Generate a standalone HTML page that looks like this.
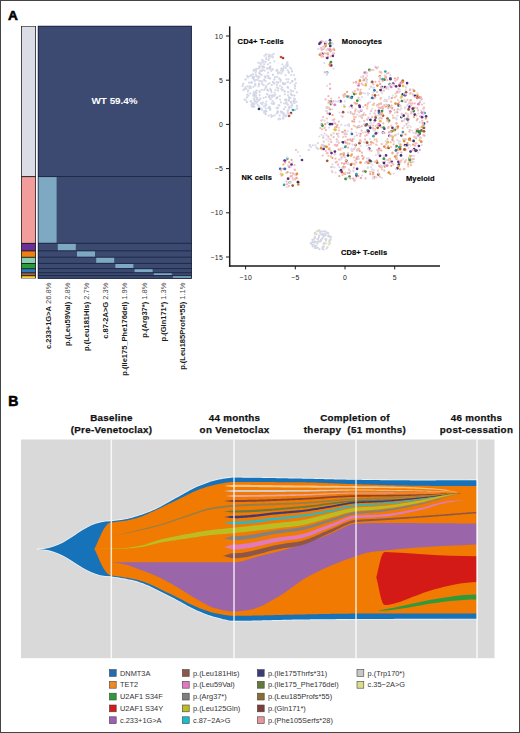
<!DOCTYPE html>
<html><head><meta charset="utf-8"><style>
html,body{margin:0;padding:0;background:#fff;}
svg{display:block;}
</style></head><body>
<svg width="520" height="733" viewBox="0 0 520 733">
<defs><filter id="soft" x="-5%" y="-5%" width="110%" height="110%"><feGaussianBlur stdDeviation="0.35"/></filter></defs>
<rect width="520" height="733" fill="#fff"/>
<text x="8.1" y="19.8" font-family="'Liberation Sans', sans-serif" font-size="13.6" font-weight="bold" fill="#000" stroke="#000" stroke-width="0.6">A</text>
<rect x="21" y="26" width="15" height="252.4" fill="#222"/>
<rect x="21.8" y="26.6" width="13.4" height="149.5" fill="#dadce6"/>
<rect x="21.8" y="177.1" width="13.4" height="65.8" fill="#f29c9c"/>
<rect x="21.8" y="243.9" width="13.4" height="6.5" fill="#6b2f9a"/>
<rect x="21.8" y="251.4" width="13.4" height="5.4" fill="#f08010"/>
<rect x="21.8" y="257.8" width="13.4" height="5.2" fill="#86d0b0"/>
<rect x="21.8" y="264.0" width="13.4" height="4.2" fill="#2a9a3a"/>
<rect x="21.8" y="269.2" width="13.4" height="3.1" fill="#2a78c0"/>
<rect x="21.8" y="273.3" width="13.4" height="1.9" fill="#b0603a"/>
<rect x="21.8" y="276.2" width="13.4" height="1.8" fill="#f2d232"/>
<rect x="38" y="26" width="153.6" height="252.6" fill="#3c4a71"/>
<rect x="38" y="176.0" width="153.6" height="1" fill="#1f2a48"/>
<rect x="38" y="242.8" width="153.6" height="1" fill="#1f2a48"/>
<rect x="38" y="250.3" width="153.6" height="1" fill="#1f2a48"/>
<rect x="38" y="256.7" width="153.6" height="1" fill="#1f2a48"/>
<rect x="38" y="262.9" width="153.6" height="1" fill="#1f2a48"/>
<rect x="38" y="268.1" width="153.6" height="1" fill="#1f2a48"/>
<rect x="38" y="272.2" width="153.6" height="1" fill="#1f2a48"/>
<rect x="38" y="275.1" width="153.6" height="1" fill="#1f2a48"/>
<rect x="38.2" y="26.2" width="153.2" height="252.2" fill="none" stroke="#1a2240" stroke-width="0.9"/>
<rect x="38.6" y="177.1" width="18.0" height="65.6" fill="#7da9c2"/>
<rect x="57.8" y="243.9" width="18.0" height="6.3" fill="#7da9c2"/>
<rect x="77.0" y="251.4" width="18.0" height="5.2" fill="#7da9c2"/>
<rect x="96.2" y="257.8" width="18.0" height="5.0" fill="#7da9c2"/>
<rect x="115.4" y="264.0" width="18.0" height="4.0" fill="#7da9c2"/>
<rect x="134.6" y="269.2" width="18.0" height="2.9" fill="#7da9c2"/>
<rect x="153.8" y="273.3" width="18.0" height="1.7" fill="#7da9c2"/>
<rect x="173.0" y="276.2" width="18.0" height="1.6" fill="#7da9c2"/>
<text x="114.6" y="104.1" font-family="'Liberation Sans', sans-serif" font-size="9.9" font-weight="bold" fill="#fff" text-anchor="middle">WT 59.4%</text>
<text transform="translate(50.6,282.6) rotate(-90) scale(0.94,1)" font-family="'Liberation Sans', sans-serif" font-size="8" text-anchor="end" fill="#1a1a1a"><tspan font-weight="bold">c.233+1G&gt;A</tspan> <tspan fill="#4a4a4a">26.8%</tspan></text>
<text transform="translate(69.8,282.6) rotate(-90) scale(0.94,1)" font-family="'Liberation Sans', sans-serif" font-size="8" text-anchor="end" fill="#1a1a1a"><tspan font-weight="bold">p.(Leu59Val)</tspan> <tspan fill="#4a4a4a">2.8%</tspan></text>
<text transform="translate(89.0,282.6) rotate(-90) scale(0.94,1)" font-family="'Liberation Sans', sans-serif" font-size="8" text-anchor="end" fill="#1a1a1a"><tspan font-weight="bold">p.(Leu181His)</tspan> <tspan fill="#4a4a4a">2.7%</tspan></text>
<text transform="translate(108.2,282.6) rotate(-90) scale(0.94,1)" font-family="'Liberation Sans', sans-serif" font-size="8" text-anchor="end" fill="#1a1a1a"><tspan font-weight="bold">c.87-2A&gt;G</tspan> <tspan fill="#4a4a4a">2.3%</tspan></text>
<text transform="translate(127.4,282.6) rotate(-90) scale(0.94,1)" font-family="'Liberation Sans', sans-serif" font-size="8" text-anchor="end" fill="#1a1a1a"><tspan font-weight="bold">p.(Ile175_Phe176del)</tspan> <tspan fill="#4a4a4a">1.9%</tspan></text>
<text transform="translate(146.6,282.6) rotate(-90) scale(0.94,1)" font-family="'Liberation Sans', sans-serif" font-size="8" text-anchor="end" fill="#1a1a1a"><tspan font-weight="bold">p.(Arg37*)</tspan> <tspan fill="#4a4a4a">1.8%</tspan></text>
<text transform="translate(165.8,282.6) rotate(-90) scale(0.94,1)" font-family="'Liberation Sans', sans-serif" font-size="8" text-anchor="end" fill="#1a1a1a"><tspan font-weight="bold">p.(Gln171*)</tspan> <tspan fill="#4a4a4a">1.3%</tspan></text>
<text transform="translate(185.0,282.6) rotate(-90) scale(0.94,1)" font-family="'Liberation Sans', sans-serif" font-size="8" text-anchor="end" fill="#1a1a1a"><tspan font-weight="bold">p.(Leu185Profs*55)</tspan> <tspan fill="#4a4a4a">1.1%</tspan></text>
<line x1="229.7" y1="26.3" x2="229.7" y2="266.7" stroke="#1a1a1a" stroke-width="1.5"/>
<line x1="228.95" y1="266" x2="440" y2="266" stroke="#1a1a1a" stroke-width="1.5"/>
<line x1="226" y1="36.0" x2="229.7" y2="36.0" stroke="#1a1a1a" stroke-width="1"/>
<text x="223.3" y="38.5" font-family="'Liberation Sans', sans-serif" font-size="6.9" letter-spacing="0.45" text-anchor="end" fill="#222">10</text>
<line x1="226" y1="80.2" x2="229.7" y2="80.2" stroke="#1a1a1a" stroke-width="1"/>
<text x="223.3" y="82.7" font-family="'Liberation Sans', sans-serif" font-size="6.9" letter-spacing="0.45" text-anchor="end" fill="#222">5</text>
<line x1="226" y1="124.4" x2="229.7" y2="124.4" stroke="#1a1a1a" stroke-width="1"/>
<text x="223.3" y="126.9" font-family="'Liberation Sans', sans-serif" font-size="6.9" letter-spacing="0.45" text-anchor="end" fill="#222">0</text>
<line x1="226" y1="168.6" x2="229.7" y2="168.6" stroke="#1a1a1a" stroke-width="1"/>
<text x="223.3" y="171.1" font-family="'Liberation Sans', sans-serif" font-size="6.9" letter-spacing="0.45" text-anchor="end" fill="#222">&#8722;5</text>
<line x1="226" y1="212.8" x2="229.7" y2="212.8" stroke="#1a1a1a" stroke-width="1"/>
<text x="223.3" y="215.3" font-family="'Liberation Sans', sans-serif" font-size="6.9" letter-spacing="0.45" text-anchor="end" fill="#222">&#8722;10</text>
<line x1="226" y1="257.0" x2="229.7" y2="257.0" stroke="#1a1a1a" stroke-width="1"/>
<text x="223.3" y="259.5" font-family="'Liberation Sans', sans-serif" font-size="6.9" letter-spacing="0.45" text-anchor="end" fill="#222">&#8722;15</text>
<line x1="245.6" y1="266" x2="245.6" y2="269.4" stroke="#1a1a1a" stroke-width="1"/>
<text x="245.8" y="279.9" font-family="'Liberation Sans', sans-serif" font-size="6.9" letter-spacing="0.45" text-anchor="middle" fill="#222">&#8722;10</text>
<line x1="295.3" y1="266" x2="295.3" y2="269.4" stroke="#1a1a1a" stroke-width="1"/>
<text x="295.5" y="279.9" font-family="'Liberation Sans', sans-serif" font-size="6.9" letter-spacing="0.45" text-anchor="middle" fill="#222">&#8722;5</text>
<line x1="345.0" y1="266" x2="345.0" y2="269.4" stroke="#1a1a1a" stroke-width="1"/>
<text x="345.2" y="279.9" font-family="'Liberation Sans', sans-serif" font-size="6.9" letter-spacing="0.45" text-anchor="middle" fill="#222">0</text>
<line x1="394.7" y1="266" x2="394.7" y2="269.4" stroke="#1a1a1a" stroke-width="1"/>
<text x="394.9" y="279.9" font-family="'Liberation Sans', sans-serif" font-size="6.9" letter-spacing="0.45" text-anchor="middle" fill="#222">5</text>
<text x="237.6" y="43.9" font-family="'Liberation Sans', sans-serif" font-size="7.5" letter-spacing="0.12" font-weight="bold" fill="#000" stroke="#000" stroke-width="0.15">CD4+ T-cells</text>
<text x="341.8" y="43.6" font-family="'Liberation Sans', sans-serif" font-size="7.5" letter-spacing="0.12" font-weight="bold" fill="#000" stroke="#000" stroke-width="0.15">Monocytes</text>
<text x="241.4" y="180.2" font-family="'Liberation Sans', sans-serif" font-size="7.5" letter-spacing="0.12" font-weight="bold" fill="#000" stroke="#000" stroke-width="0.15">NK cells</text>
<text x="406" y="181" font-family="'Liberation Sans', sans-serif" font-size="7.5" letter-spacing="0.12" font-weight="bold" fill="#000" stroke="#000" stroke-width="0.15">Myeloid</text>
<text x="341" y="254.5" font-family="'Liberation Sans', sans-serif" font-size="7.5" letter-spacing="0.12" font-weight="bold" fill="#000" stroke="#000" stroke-width="0.15">CD8+ T-cells</text>
<g filter="url(#soft)">
<circle cx="388.9" cy="173.1" r="1.12" fill="#dddcee"/>
<circle cx="418.9" cy="131.7" r="1.35" fill="#2c3274"/>
<circle cx="324.4" cy="48.5" r="1.12" fill="#dddcee"/>
<circle cx="327.1" cy="111.1" r="1.12" fill="#dddcee"/>
<circle cx="421.7" cy="99.2" r="1.12" fill="#f4b8b8"/>
<circle cx="294.2" cy="98.5" r="1.12" fill="#cdd1e3"/>
<circle cx="322.7" cy="155.5" r="1.12" fill="#f4b8b8"/>
<circle cx="355.5" cy="126.6" r="1.12" fill="#f6c4ac"/>
<circle cx="404.8" cy="162.3" r="1.12" fill="#f4b8b8"/>
<circle cx="322.9" cy="234.6" r="1.12" fill="#d3d6e6"/>
<circle cx="409.7" cy="138.9" r="1.35" fill="#9c5636"/>
<circle cx="346.6" cy="134.0" r="1.12" fill="#f4b8b8"/>
<circle cx="405.0" cy="145.0" r="1.35" fill="#5a2d82"/>
<circle cx="412.9" cy="89.4" r="1.12" fill="#dddcee"/>
<circle cx="291.0" cy="113.0" r="1.35" fill="#8c3c30"/>
<circle cx="407.0" cy="118.8" r="1.35" fill="#e88a2e"/>
<circle cx="248.2" cy="90.5" r="1.12" fill="#d6d9e8"/>
<circle cx="278.1" cy="82.7" r="1.12" fill="#cdd1e3"/>
<circle cx="422.7" cy="131.6" r="1.12" fill="#f6c4ac"/>
<circle cx="363.8" cy="157.4" r="1.12" fill="#f4b8b8"/>
<circle cx="392.7" cy="136.9" r="1.35" fill="#e0c040"/>
<circle cx="344.7" cy="156.4" r="1.12" fill="#dddcee"/>
<circle cx="409.3" cy="158.1" r="1.35" fill="#3a9040"/>
<circle cx="360.7" cy="116.5" r="1.12" fill="#f4b8b8"/>
<circle cx="376.9" cy="145.0" r="1.12" fill="#dddcee"/>
<circle cx="329.9" cy="243.1" r="1.12" fill="#d3d6e6"/>
<circle cx="266.9" cy="94.0" r="1.12" fill="#d6d9e8"/>
<circle cx="398.0" cy="149.5" r="1.35" fill="#e88a2e"/>
<circle cx="284.7" cy="91.4" r="1.12" fill="#cdd1e3"/>
<circle cx="293.2" cy="91.2" r="1.12" fill="#d6d9e8"/>
<circle cx="278.0" cy="72.2" r="1.12" fill="#d6d9e8"/>
<circle cx="254.0" cy="69.9" r="1.12" fill="#d6d9e8"/>
<circle cx="350.9" cy="113.2" r="1.12" fill="#f4b8b8"/>
<circle cx="413.9" cy="117.0" r="1.12" fill="#f0a474"/>
<circle cx="270.1" cy="78.4" r="1.12" fill="#cdd1e3"/>
<circle cx="297.5" cy="181.5" r="1.12" fill="#f6c4ac"/>
<circle cx="349.5" cy="176.6" r="1.35" fill="#3a9040"/>
<circle cx="414.1" cy="156.2" r="1.12" fill="#dddcee"/>
<circle cx="366.2" cy="124.6" r="1.35" fill="#e377c2"/>
<circle cx="384.3" cy="146.6" r="1.35" fill="#e88a2e"/>
<circle cx="399.4" cy="84.9" r="1.35" fill="#e88a2e"/>
<circle cx="293.7" cy="173.9" r="1.12" fill="#f4b8b8"/>
<circle cx="375.1" cy="97.1" r="1.12" fill="#f4b8b8"/>
<circle cx="269.9" cy="98.2" r="1.12" fill="#d6d9e8"/>
<circle cx="285.4" cy="116.4" r="1.12" fill="#d6d9e8"/>
<circle cx="263.0" cy="102.5" r="1.12" fill="#d6d9e8"/>
<circle cx="316.9" cy="231.4" r="1.12" fill="#d3d6e6"/>
<circle cx="337.7" cy="140.8" r="1.12" fill="#dddcee"/>
<circle cx="400.4" cy="162.4" r="1.12" fill="#f6c4ac"/>
<circle cx="381.1" cy="127.3" r="1.12" fill="#f4b8b8"/>
<circle cx="345.9" cy="146.1" r="1.12" fill="#f0a474"/>
<circle cx="324.9" cy="127.3" r="1.12" fill="#dddcee"/>
<circle cx="360.6" cy="89.8" r="1.12" fill="#f4b8b8"/>
<circle cx="401.4" cy="135.5" r="1.35" fill="#2c3274"/>
<circle cx="247.2" cy="94.7" r="1.12" fill="#d6d9e8"/>
<circle cx="326.4" cy="239.1" r="1.12" fill="#e6e2b0"/>
<circle cx="250.6" cy="101.5" r="1.12" fill="#d6d9e8"/>
<circle cx="245.7" cy="100.0" r="1.12" fill="#d6d9e8"/>
<circle cx="279.4" cy="105.5" r="1.12" fill="#cdd1e3"/>
<circle cx="341.1" cy="102.1" r="1.12" fill="#f4b8b8"/>
<circle cx="370.0" cy="139.1" r="1.12" fill="#dddcee"/>
<circle cx="244.4" cy="89.4" r="1.12" fill="#d6d9e8"/>
<circle cx="285.5" cy="83.7" r="1.12" fill="#d6d9e8"/>
<circle cx="270.2" cy="62.8" r="1.12" fill="#d6d9e8"/>
<circle cx="340.8" cy="148.4" r="1.12" fill="#dddcee"/>
<circle cx="326.6" cy="248.5" r="1.12" fill="#d3d6e6"/>
<circle cx="379.8" cy="166.3" r="1.12" fill="#efa4a4"/>
<circle cx="332.3" cy="157.9" r="1.12" fill="#f0a474"/>
<circle cx="342.2" cy="141.9" r="1.12" fill="#efa4a4"/>
<circle cx="326.6" cy="135.2" r="1.12" fill="#dddcee"/>
<circle cx="261.9" cy="83.7" r="1.12" fill="#d6d9e8"/>
<circle cx="271.6" cy="103.3" r="1.12" fill="#d6d9e8"/>
<circle cx="395.0" cy="129.8" r="1.35" fill="#3a9040"/>
<circle cx="402.8" cy="101.5" r="1.12" fill="#dddcee"/>
<circle cx="278.6" cy="73.2" r="1.12" fill="#d6d9e8"/>
<circle cx="317.6" cy="247.7" r="1.12" fill="#d3d6e6"/>
<circle cx="377.8" cy="105.0" r="1.12" fill="#efa4a4"/>
<circle cx="420.0" cy="97.4" r="1.35" fill="#e377c2"/>
<circle cx="322.5" cy="248.9" r="1.12" fill="#d3d6e6"/>
<circle cx="327.5" cy="247.0" r="1.12" fill="#d3d6e6"/>
<circle cx="272.8" cy="116.0" r="1.12" fill="#d6d9e8"/>
<circle cx="343.6" cy="173.3" r="1.12" fill="#f0a474"/>
<circle cx="334.2" cy="122.1" r="1.12" fill="#dddcee"/>
<circle cx="274.1" cy="103.2" r="1.12" fill="#d6d9e8"/>
<circle cx="265.5" cy="81.2" r="1.12" fill="#d6d9e8"/>
<circle cx="259.4" cy="107.7" r="1.12" fill="#d6d9e8"/>
<circle cx="335.4" cy="158.7" r="1.12" fill="#f4b8b8"/>
<circle cx="325.3" cy="124.2" r="1.12" fill="#f0a474"/>
<circle cx="418.9" cy="146.0" r="1.35" fill="#5a2d82"/>
<circle cx="283.3" cy="168.8" r="1.12" fill="#efa4a4"/>
<circle cx="313.7" cy="241.7" r="1.12" fill="#d3d6e6"/>
<circle cx="286.7" cy="187.0" r="1.12" fill="#dddcee"/>
<circle cx="267.4" cy="75.7" r="1.12" fill="#d6d9e8"/>
<circle cx="351.5" cy="149.9" r="1.12" fill="#dddcee"/>
<circle cx="318.2" cy="238.8" r="1.12" fill="#d3d6e6"/>
<circle cx="378.3" cy="174.6" r="1.35" fill="#9c5636"/>
<circle cx="404.4" cy="126.0" r="1.12" fill="#dddcee"/>
<circle cx="266.3" cy="57.7" r="1.12" fill="#d6d9e8"/>
<circle cx="369.0" cy="158.2" r="1.12" fill="#dddcee"/>
<circle cx="384.2" cy="100.8" r="1.12" fill="#dddcee"/>
<circle cx="266.1" cy="86.1" r="1.12" fill="#cdd1e3"/>
<circle cx="255.3" cy="69.6" r="1.12" fill="#cdd1e3"/>
<circle cx="357.1" cy="127.7" r="1.12" fill="#f6c4ac"/>
<circle cx="374.2" cy="178.2" r="1.12" fill="#f4b8b8"/>
<circle cx="370.5" cy="120.8" r="1.12" fill="#f6c4ac"/>
<circle cx="261.7" cy="89.8" r="1.12" fill="#d6d9e8"/>
<circle cx="251.2" cy="75.0" r="1.12" fill="#d6d9e8"/>
<circle cx="319.4" cy="43.8" r="1.35" fill="#5a2d82"/>
<circle cx="259.6" cy="95.1" r="1.12" fill="#d6d9e8"/>
<circle cx="379.8" cy="104.1" r="1.12" fill="#dddcee"/>
<circle cx="380.9" cy="98.0" r="1.12" fill="#f4b8b8"/>
<circle cx="340.4" cy="149.8" r="1.12" fill="#f4b8b8"/>
<circle cx="400.9" cy="82.8" r="1.35" fill="#e377c2"/>
<circle cx="376.0" cy="144.5" r="1.12" fill="#f6c4ac"/>
<circle cx="347.9" cy="143.8" r="1.12" fill="#dddcee"/>
<circle cx="385.4" cy="77.4" r="1.12" fill="#f4b8b8"/>
<circle cx="404.9" cy="108.5" r="1.12" fill="#dddcee"/>
<circle cx="298.0" cy="152.0" r="1.12" fill="#dddcee"/>
<circle cx="332.1" cy="124.1" r="1.35" fill="#5a2d82"/>
<circle cx="424.0" cy="107.5" r="1.12" fill="#f4b8b8"/>
<circle cx="289.5" cy="166.9" r="1.35" fill="#e377c2"/>
<circle cx="411.1" cy="162.2" r="1.35" fill="#e0c040"/>
<circle cx="397.3" cy="140.0" r="1.12" fill="#dddcee"/>
<circle cx="385.0" cy="87.0" r="1.35" fill="#5a2d82"/>
<circle cx="412.1" cy="130.5" r="1.12" fill="#dddcee"/>
<circle cx="326.9" cy="107.6" r="1.35" fill="#e0c040"/>
<circle cx="321.9" cy="144.8" r="1.12" fill="#f6c4ac"/>
<circle cx="280.0" cy="85.8" r="1.12" fill="#d6d9e8"/>
<circle cx="367.5" cy="167.9" r="1.12" fill="#dddcee"/>
<circle cx="340.8" cy="102.0" r="1.12" fill="#dddcee"/>
<circle cx="393.6" cy="144.4" r="1.12" fill="#f4b8b8"/>
<circle cx="390.3" cy="75.2" r="1.12" fill="#dddcee"/>
<circle cx="371.6" cy="143.1" r="1.12" fill="#dddcee"/>
<circle cx="284.1" cy="184.8" r="1.35" fill="#3aa0a0"/>
<circle cx="424.0" cy="123.5" r="1.35" fill="#2c3274"/>
<circle cx="375.5" cy="81.9" r="1.12" fill="#f4b8b8"/>
<circle cx="368.4" cy="102.9" r="1.12" fill="#f6c4ac"/>
<circle cx="334.5" cy="167.5" r="1.12" fill="#dddcee"/>
<circle cx="389.6" cy="162.6" r="1.12" fill="#f4b8b8"/>
<circle cx="339.5" cy="171.0" r="1.12" fill="#dddcee"/>
<circle cx="361.0" cy="76.8" r="1.12" fill="#dddcee"/>
<circle cx="411.8" cy="159.6" r="1.12" fill="#f4b8b8"/>
<circle cx="380.7" cy="103.5" r="1.12" fill="#f4b8b8"/>
<circle cx="273.0" cy="82.2" r="1.12" fill="#cdd1e3"/>
<circle cx="290.2" cy="182.6" r="1.12" fill="#f4b8b8"/>
<circle cx="310.0" cy="145.1" r="1.12" fill="#d6d9e8"/>
<circle cx="362.9" cy="80.7" r="1.12" fill="#dddcee"/>
<circle cx="321.4" cy="41.2" r="1.12" fill="#f4b8b8"/>
<circle cx="254.0" cy="92.0" r="1.12" fill="#d6d9e8"/>
<circle cx="387.0" cy="165.9" r="1.12" fill="#dddcee"/>
<circle cx="384.8" cy="166.2" r="1.35" fill="#9c5636"/>
<circle cx="337.5" cy="101.5" r="1.12" fill="#dddcee"/>
<circle cx="362.2" cy="155.8" r="1.12" fill="#efa4a4"/>
<circle cx="338.5" cy="136.7" r="1.12" fill="#f6c4ac"/>
<circle cx="344.5" cy="106.5" r="1.35" fill="#e0c040"/>
<circle cx="267.4" cy="68.1" r="1.12" fill="#d6d9e8"/>
<circle cx="346.9" cy="160.5" r="1.12" fill="#f0a474"/>
<circle cx="289.7" cy="182.5" r="1.35" fill="#3a9040"/>
<circle cx="378.6" cy="163.4" r="1.12" fill="#dddcee"/>
<circle cx="335.5" cy="129.9" r="1.35" fill="#e0c040"/>
<circle cx="345.2" cy="125.6" r="1.12" fill="#dddcee"/>
<circle cx="360.7" cy="133.9" r="1.12" fill="#efa4a4"/>
<circle cx="278.3" cy="88.3" r="1.12" fill="#cdd1e3"/>
<circle cx="329.0" cy="244.4" r="1.12" fill="#e6e2b0"/>
<circle cx="324.6" cy="133.6" r="1.12" fill="#dddcee"/>
<circle cx="265.5" cy="77.7" r="1.12" fill="#d6d9e8"/>
<circle cx="335.7" cy="101.4" r="1.12" fill="#dddcee"/>
<circle cx="373.6" cy="98.4" r="1.12" fill="#f4b8b8"/>
<circle cx="379.7" cy="125.3" r="1.35" fill="#5a2d82"/>
<circle cx="393.2" cy="83.5" r="1.35" fill="#5a2d82"/>
<circle cx="405.2" cy="161.3" r="1.12" fill="#f4b8b8"/>
<circle cx="384.9" cy="161.6" r="1.12" fill="#f4b8b8"/>
<circle cx="242.5" cy="85.9" r="1.12" fill="#d6d9e8"/>
<circle cx="320.3" cy="128.0" r="1.12" fill="#f4b8b8"/>
<circle cx="265.3" cy="77.0" r="1.12" fill="#cdd1e3"/>
<circle cx="335.6" cy="172.6" r="1.12" fill="#dddcee"/>
<circle cx="356.9" cy="150.6" r="1.12" fill="#dddcee"/>
<circle cx="354.3" cy="114.1" r="1.12" fill="#f4b8b8"/>
<circle cx="414.6" cy="137.4" r="1.12" fill="#f6c4ac"/>
<circle cx="323.2" cy="137.7" r="1.12" fill="#f4b8b8"/>
<circle cx="408.1" cy="116.7" r="1.12" fill="#f4b8b8"/>
<circle cx="361.7" cy="83.7" r="1.12" fill="#f4b8b8"/>
<circle cx="256.4" cy="93.2" r="1.12" fill="#d6d9e8"/>
<circle cx="373.7" cy="177.0" r="1.12" fill="#f4b8b8"/>
<circle cx="388.3" cy="127.9" r="1.12" fill="#f4b8b8"/>
<circle cx="417.4" cy="95.6" r="1.35" fill="#e88a2e"/>
<circle cx="378.2" cy="153.8" r="1.12" fill="#f6c4ac"/>
<circle cx="321.8" cy="124.5" r="1.35" fill="#3a9040"/>
<circle cx="352.1" cy="163.7" r="1.12" fill="#f4b8b8"/>
<circle cx="289.2" cy="108.6" r="1.12" fill="#d6d9e8"/>
<circle cx="350.6" cy="112.0" r="1.12" fill="#f4b8b8"/>
<circle cx="384.4" cy="79.7" r="1.35" fill="#3a9040"/>
<circle cx="384.2" cy="105.1" r="1.12" fill="#f4b8b8"/>
<circle cx="360.0" cy="80.3" r="1.12" fill="#efa4a4"/>
<circle cx="370.4" cy="119.8" r="1.35" fill="#2c3274"/>
<circle cx="420.4" cy="100.8" r="1.12" fill="#dddcee"/>
<circle cx="340.8" cy="101.0" r="1.12" fill="#f4b8b8"/>
<circle cx="295.4" cy="178.7" r="1.12" fill="#f4b8b8"/>
<circle cx="370.9" cy="86.7" r="1.12" fill="#f6c4ac"/>
<circle cx="331.8" cy="170.7" r="1.12" fill="#dddcee"/>
<circle cx="359.9" cy="80.7" r="1.35" fill="#e88a2e"/>
<circle cx="386.5" cy="101.2" r="1.12" fill="#f4b8b8"/>
<circle cx="384.6" cy="75.3" r="1.12" fill="#dddcee"/>
<circle cx="257.0" cy="101.9" r="1.12" fill="#d6d9e8"/>
<circle cx="357.1" cy="168.8" r="1.35" fill="#5a2d82"/>
<circle cx="405.7" cy="139.3" r="1.12" fill="#f4b8b8"/>
<circle cx="260.9" cy="103.2" r="1.12" fill="#d6d9e8"/>
<circle cx="324.8" cy="72.2" r="1.12" fill="#f4b8b8"/>
<circle cx="405.8" cy="101.9" r="1.12" fill="#f4b8b8"/>
<circle cx="280.9" cy="70.5" r="1.12" fill="#d6d9e8"/>
<circle cx="396.4" cy="123.6" r="1.12" fill="#f0a474"/>
<circle cx="348.8" cy="96.4" r="1.12" fill="#efa4a4"/>
<circle cx="399.2" cy="102.1" r="1.12" fill="#f4b8b8"/>
<circle cx="378.0" cy="151.9" r="1.12" fill="#f6c4ac"/>
<circle cx="324.3" cy="236.1" r="1.12" fill="#d3d6e6"/>
<circle cx="351.1" cy="155.6" r="1.35" fill="#e0c040"/>
<circle cx="271.2" cy="115.0" r="1.12" fill="#d6d9e8"/>
<circle cx="372.1" cy="70.0" r="1.12" fill="#f4b8b8"/>
<circle cx="267.5" cy="94.6" r="1.12" fill="#d6d9e8"/>
<circle cx="332.5" cy="115.0" r="1.12" fill="#f0a474"/>
<circle cx="294.1" cy="103.0" r="1.12" fill="#d6d9e8"/>
<circle cx="326.7" cy="49.5" r="1.12" fill="#dddcee"/>
<circle cx="423.5" cy="124.8" r="1.35" fill="#3aa0a0"/>
<circle cx="254.2" cy="99.9" r="1.12" fill="#d6d9e8"/>
<circle cx="391.8" cy="161.8" r="1.35" fill="#5a2d82"/>
<circle cx="389.9" cy="159.4" r="1.12" fill="#f0a474"/>
<circle cx="381.9" cy="87.1" r="1.35" fill="#2c3274"/>
<circle cx="262.3" cy="104.2" r="1.12" fill="#d6d9e8"/>
<circle cx="410.2" cy="156.1" r="1.35" fill="#e0c040"/>
<circle cx="359.5" cy="143.2" r="1.35" fill="#9c5636"/>
<circle cx="361.8" cy="126.1" r="1.12" fill="#f4b8b8"/>
<circle cx="397.5" cy="91.7" r="1.12" fill="#f6c4ac"/>
<circle cx="336.7" cy="161.8" r="1.12" fill="#f6c4ac"/>
<circle cx="365.2" cy="135.8" r="1.12" fill="#f6c4ac"/>
<circle cx="330.1" cy="88.7" r="1.12" fill="#efa4a4"/>
<circle cx="424.4" cy="135.7" r="1.12" fill="#efa4a4"/>
<circle cx="417.4" cy="97.6" r="1.35" fill="#5a2d82"/>
<circle cx="422.3" cy="113.4" r="1.12" fill="#f4b8b8"/>
<circle cx="337.1" cy="133.9" r="1.12" fill="#efa4a4"/>
<circle cx="413.8" cy="159.0" r="1.12" fill="#f4b8b8"/>
<circle cx="383.4" cy="161.8" r="1.12" fill="#dddcee"/>
<circle cx="416.8" cy="120.3" r="1.12" fill="#f4b8b8"/>
<circle cx="291.6" cy="105.5" r="1.12" fill="#cdd1e3"/>
<circle cx="372.1" cy="117.1" r="1.12" fill="#f4b8b8"/>
<circle cx="367.0" cy="119.4" r="1.12" fill="#dddcee"/>
<circle cx="331.2" cy="142.2" r="1.12" fill="#f4b8b8"/>
<circle cx="386.7" cy="159.8" r="1.12" fill="#efa4a4"/>
<circle cx="252.1" cy="102.8" r="1.12" fill="#d6d9e8"/>
<circle cx="358.0" cy="111.0" r="1.12" fill="#dddcee"/>
<circle cx="283.6" cy="84.2" r="1.12" fill="#cdd1e3"/>
<circle cx="354.2" cy="163.8" r="1.12" fill="#f4b8b8"/>
<circle cx="289.0" cy="116.0" r="1.35" fill="#e05030"/>
<circle cx="287.0" cy="62.8" r="1.12" fill="#cdd1e3"/>
<circle cx="370.1" cy="126.0" r="1.12" fill="#f0a474"/>
<circle cx="408.6" cy="147.8" r="1.12" fill="#dddcee"/>
<circle cx="383.3" cy="123.3" r="1.12" fill="#f4b8b8"/>
<circle cx="356.3" cy="83.5" r="1.12" fill="#dddcee"/>
<circle cx="386.3" cy="104.5" r="1.12" fill="#dddcee"/>
<circle cx="347.6" cy="143.6" r="1.12" fill="#f6c4ac"/>
<circle cx="325.5" cy="45.9" r="1.35" fill="#e88a2e"/>
<circle cx="253.4" cy="93.7" r="1.12" fill="#d6d9e8"/>
<circle cx="264.4" cy="55.8" r="1.12" fill="#d6d9e8"/>
<circle cx="329.0" cy="144.4" r="1.12" fill="#f6c4ac"/>
<circle cx="381.7" cy="167.6" r="1.12" fill="#f4b8b8"/>
<circle cx="383.1" cy="162.2" r="1.12" fill="#f6c4ac"/>
<circle cx="352.5" cy="150.3" r="1.12" fill="#f4b8b8"/>
<circle cx="424.1" cy="103.3" r="1.12" fill="#dddcee"/>
<circle cx="383.0" cy="133.3" r="1.12" fill="#f4b8b8"/>
<circle cx="421.1" cy="110.6" r="1.12" fill="#dddcee"/>
<circle cx="414.1" cy="149.2" r="1.35" fill="#2c3274"/>
<circle cx="325.6" cy="231.5" r="1.12" fill="#d3d6e6"/>
<circle cx="292.6" cy="178.1" r="1.12" fill="#f6c4ac"/>
<circle cx="287.3" cy="158.7" r="1.35" fill="#3aa0a0"/>
<circle cx="334.5" cy="145.1" r="1.12" fill="#dddcee"/>
<circle cx="264.8" cy="112.2" r="1.12" fill="#d6d9e8"/>
<circle cx="371.6" cy="171.5" r="1.12" fill="#dddcee"/>
<circle cx="328.2" cy="236.3" r="1.12" fill="#d3d6e6"/>
<circle cx="290.6" cy="167.1" r="1.12" fill="#dddcee"/>
<circle cx="370.3" cy="123.2" r="1.12" fill="#dddcee"/>
<circle cx="354.2" cy="121.6" r="1.12" fill="#efa4a4"/>
<circle cx="347.1" cy="143.2" r="1.12" fill="#f6c4ac"/>
<circle cx="283.7" cy="113.2" r="1.12" fill="#d6d9e8"/>
<circle cx="419.8" cy="149.9" r="1.12" fill="#efa4a4"/>
<circle cx="398.1" cy="108.8" r="1.12" fill="#dddcee"/>
<circle cx="379.1" cy="148.9" r="1.35" fill="#e377c2"/>
<circle cx="382.9" cy="110.0" r="1.12" fill="#dddcee"/>
<circle cx="312.7" cy="244.8" r="1.12" fill="#d3d6e6"/>
<circle cx="402.8" cy="80.8" r="1.35" fill="#5a2d82"/>
<circle cx="402.9" cy="81.7" r="1.35" fill="#e88a2e"/>
<circle cx="395.6" cy="135.2" r="1.12" fill="#f4b8b8"/>
<circle cx="330.9" cy="62.2" r="1.35" fill="#3a9040"/>
<circle cx="324.8" cy="43.1" r="1.12" fill="#dddcee"/>
<circle cx="392.8" cy="115.7" r="1.12" fill="#f6c4ac"/>
<circle cx="283.3" cy="70.1" r="1.12" fill="#d6d9e8"/>
<circle cx="384.5" cy="132.9" r="1.12" fill="#f4b8b8"/>
<circle cx="266.5" cy="101.5" r="1.12" fill="#d6d9e8"/>
<circle cx="374.6" cy="176.9" r="1.12" fill="#f0a474"/>
<circle cx="282.5" cy="113.1" r="1.12" fill="#d6d9e8"/>
<circle cx="393.7" cy="130.3" r="1.35" fill="#e88a2e"/>
<circle cx="364.3" cy="170.7" r="1.12" fill="#f4b8b8"/>
<circle cx="391.2" cy="78.1" r="1.12" fill="#dddcee"/>
<circle cx="415.4" cy="145.4" r="1.12" fill="#dddcee"/>
<circle cx="293.9" cy="75.1" r="1.12" fill="#d6d9e8"/>
<circle cx="263.7" cy="97.8" r="1.12" fill="#d6d9e8"/>
<circle cx="266.3" cy="111.4" r="1.12" fill="#cdd1e3"/>
<circle cx="329.1" cy="241.8" r="1.12" fill="#e6e2b0"/>
<circle cx="368.8" cy="126.0" r="1.12" fill="#f4b8b8"/>
<circle cx="255.5" cy="70.3" r="1.12" fill="#d6d9e8"/>
<circle cx="329.6" cy="109.4" r="1.12" fill="#dddcee"/>
<circle cx="368.6" cy="159.9" r="1.12" fill="#f4b8b8"/>
<circle cx="409.3" cy="106.7" r="1.35" fill="#5a2d82"/>
<circle cx="354.1" cy="149.0" r="1.12" fill="#f4b8b8"/>
<circle cx="293.0" cy="173.4" r="1.12" fill="#f4b8b8"/>
<circle cx="416.7" cy="143.3" r="1.12" fill="#f6c4ac"/>
<circle cx="271.0" cy="90.2" r="1.12" fill="#cdd1e3"/>
<circle cx="270.1" cy="88.6" r="1.12" fill="#d6d9e8"/>
<circle cx="390.4" cy="84.7" r="1.12" fill="#f6c4ac"/>
<circle cx="374.7" cy="134.7" r="1.12" fill="#dddcee"/>
<circle cx="368.0" cy="167.4" r="1.12" fill="#dddcee"/>
<circle cx="286.5" cy="181.5" r="1.12" fill="#f4b8b8"/>
<circle cx="340.2" cy="154.9" r="1.12" fill="#dddcee"/>
<circle cx="329.7" cy="65.9" r="1.12" fill="#f6c4ac"/>
<circle cx="407.9" cy="105.3" r="1.12" fill="#f6c4ac"/>
<circle cx="354.6" cy="164.4" r="1.12" fill="#f6c4ac"/>
<circle cx="365.9" cy="84.1" r="1.12" fill="#f0a474"/>
<circle cx="355.3" cy="147.9" r="1.12" fill="#dddcee"/>
<circle cx="408.2" cy="122.6" r="1.12" fill="#dddcee"/>
<circle cx="265.9" cy="97.1" r="1.12" fill="#d6d9e8"/>
<circle cx="378.2" cy="115.4" r="1.12" fill="#dddcee"/>
<circle cx="396.1" cy="158.3" r="1.12" fill="#f4b8b8"/>
<circle cx="268.6" cy="107.9" r="1.12" fill="#cdd1e3"/>
<circle cx="345.1" cy="163.4" r="1.12" fill="#f4b8b8"/>
<circle cx="326.1" cy="53.7" r="1.12" fill="#f6c4ac"/>
<circle cx="333.3" cy="55.1" r="1.12" fill="#dddcee"/>
<circle cx="274.4" cy="61.4" r="1.12" fill="#d6d9e8"/>
<circle cx="309.4" cy="145.5" r="1.12" fill="#d6d9e8"/>
<circle cx="374.4" cy="90.3" r="1.35" fill="#2f6fb0"/>
<circle cx="273.5" cy="103.7" r="1.12" fill="#d6d9e8"/>
<circle cx="389.4" cy="135.8" r="1.35" fill="#5a2d82"/>
<circle cx="382.0" cy="107.3" r="1.12" fill="#f4b8b8"/>
<circle cx="300.0" cy="156.0" r="1.12" fill="#dddcee"/>
<circle cx="388.7" cy="105.7" r="1.35" fill="#3a9040"/>
<circle cx="275.0" cy="77.3" r="1.12" fill="#cdd1e3"/>
<circle cx="399.9" cy="141.4" r="1.12" fill="#dddcee"/>
<circle cx="380.2" cy="155.4" r="1.12" fill="#dddcee"/>
<circle cx="270.3" cy="66.7" r="1.12" fill="#cdd1e3"/>
<circle cx="279.7" cy="115.3" r="1.12" fill="#d6d9e8"/>
<circle cx="323.8" cy="47.3" r="1.35" fill="#9c5636"/>
<circle cx="358.2" cy="156.5" r="1.12" fill="#efa4a4"/>
<circle cx="259.0" cy="100.1" r="1.12" fill="#cdd1e3"/>
<circle cx="256.2" cy="95.6" r="1.12" fill="#d6d9e8"/>
<circle cx="343.1" cy="142.3" r="1.35" fill="#2c3274"/>
<circle cx="261.7" cy="103.7" r="1.12" fill="#d6d9e8"/>
<circle cx="349.0" cy="139.7" r="1.12" fill="#dddcee"/>
<circle cx="363.0" cy="107.1" r="1.12" fill="#dddcee"/>
<circle cx="265.2" cy="88.1" r="1.12" fill="#d6d9e8"/>
<circle cx="391.1" cy="101.7" r="1.12" fill="#f6c4ac"/>
<circle cx="252.4" cy="106.8" r="1.12" fill="#cdd1e3"/>
<circle cx="281.5" cy="175.7" r="1.12" fill="#f4b8b8"/>
<circle cx="366.8" cy="135.0" r="1.12" fill="#f4b8b8"/>
<circle cx="286.3" cy="102.1" r="1.12" fill="#d6d9e8"/>
<circle cx="405.8" cy="113.4" r="1.12" fill="#f4b8b8"/>
<circle cx="400.3" cy="144.5" r="1.35" fill="#e0c040"/>
<circle cx="420.1" cy="138.1" r="1.12" fill="#f6c4ac"/>
<circle cx="389.7" cy="132.1" r="1.12" fill="#dddcee"/>
<circle cx="316.4" cy="234.2" r="1.12" fill="#d3d6e6"/>
<circle cx="389.6" cy="111.1" r="1.12" fill="#dddcee"/>
<circle cx="288.9" cy="72.7" r="1.12" fill="#d6d9e8"/>
<circle cx="283.0" cy="58.0" r="1.35" fill="#a04030"/>
<circle cx="346.5" cy="163.1" r="1.12" fill="#f4b8b8"/>
<circle cx="281.3" cy="73.6" r="1.12" fill="#d6d9e8"/>
<circle cx="324.2" cy="46.5" r="1.12" fill="#f4b8b8"/>
<circle cx="409.1" cy="159.5" r="1.12" fill="#f4b8b8"/>
<circle cx="366.9" cy="82.3" r="1.12" fill="#dddcee"/>
<circle cx="416.1" cy="114.8" r="1.12" fill="#dddcee"/>
<circle cx="317.9" cy="148.9" r="1.12" fill="#d6d9e8"/>
<circle cx="328.4" cy="96.2" r="1.12" fill="#f4b8b8"/>
<circle cx="317.4" cy="243.5" r="1.12" fill="#d3d6e6"/>
<circle cx="292.1" cy="105.3" r="1.12" fill="#cdd1e3"/>
<circle cx="355.8" cy="103.7" r="1.12" fill="#f4b8b8"/>
<circle cx="271.7" cy="95.6" r="1.12" fill="#d6d9e8"/>
<circle cx="393.4" cy="164.6" r="1.12" fill="#f4b8b8"/>
<circle cx="379.1" cy="81.5" r="1.12" fill="#f4b8b8"/>
<circle cx="339.2" cy="159.6" r="1.12" fill="#f4b8b8"/>
<circle cx="361.6" cy="130.6" r="1.12" fill="#f4b8b8"/>
<circle cx="276.9" cy="113.3" r="1.12" fill="#cdd1e3"/>
<circle cx="382.0" cy="111.0" r="1.35" fill="#3a9040"/>
<circle cx="355.2" cy="110.9" r="1.12" fill="#f4b8b8"/>
<circle cx="276.7" cy="108.2" r="1.12" fill="#d6d9e8"/>
<circle cx="268.3" cy="90.7" r="1.12" fill="#d6d9e8"/>
<circle cx="386.3" cy="77.6" r="1.12" fill="#f4b8b8"/>
<circle cx="323.1" cy="56.5" r="1.12" fill="#efa4a4"/>
<circle cx="422.0" cy="104.5" r="1.12" fill="#f6c4ac"/>
<circle cx="346.2" cy="179.4" r="1.12" fill="#f6c4ac"/>
<circle cx="407.8" cy="114.6" r="1.12" fill="#f4b8b8"/>
<circle cx="414.8" cy="145.5" r="1.12" fill="#efa4a4"/>
<circle cx="405.9" cy="87.3" r="1.12" fill="#dddcee"/>
<circle cx="274.3" cy="79.6" r="1.12" fill="#cdd1e3"/>
<circle cx="269.1" cy="58.8" r="1.12" fill="#d6d9e8"/>
<circle cx="290.6" cy="173.0" r="1.12" fill="#f4b8b8"/>
<circle cx="389.1" cy="96.8" r="1.12" fill="#dddcee"/>
<circle cx="356.5" cy="175.6" r="1.35" fill="#5a2d82"/>
<circle cx="320.2" cy="241.5" r="1.12" fill="#d3d6e6"/>
<circle cx="391.3" cy="125.7" r="1.12" fill="#f6c4ac"/>
<circle cx="331.4" cy="135.5" r="1.12" fill="#dddcee"/>
<circle cx="342.6" cy="116.7" r="1.12" fill="#f4b8b8"/>
<circle cx="365.4" cy="105.2" r="1.12" fill="#f0a474"/>
<circle cx="268.2" cy="72.7" r="1.12" fill="#d6d9e8"/>
<circle cx="291.3" cy="102.1" r="1.12" fill="#cdd1e3"/>
<circle cx="328.4" cy="155.8" r="1.12" fill="#f6c4ac"/>
<circle cx="409.2" cy="103.1" r="1.12" fill="#f6c4ac"/>
<circle cx="322.5" cy="54.6" r="1.12" fill="#dddcee"/>
<circle cx="335.1" cy="144.9" r="1.12" fill="#f4b8b8"/>
<circle cx="397.3" cy="152.8" r="1.12" fill="#dddcee"/>
<circle cx="385.9" cy="144.6" r="1.12" fill="#dddcee"/>
<circle cx="274.4" cy="83.6" r="1.12" fill="#cdd1e3"/>
<circle cx="267.2" cy="89.8" r="1.12" fill="#cdd1e3"/>
<circle cx="344.7" cy="134.2" r="1.12" fill="#f4b8b8"/>
<circle cx="421.7" cy="145.0" r="1.12" fill="#dddcee"/>
<circle cx="328.3" cy="136.6" r="1.12" fill="#f4b8b8"/>
<circle cx="287.3" cy="104.4" r="1.12" fill="#d6d9e8"/>
<circle cx="323.9" cy="47.9" r="1.12" fill="#dddcee"/>
<circle cx="246.3" cy="88.9" r="1.12" fill="#d6d9e8"/>
<circle cx="363.0" cy="158.8" r="1.12" fill="#f0a474"/>
<circle cx="348.0" cy="153.2" r="1.12" fill="#f4b8b8"/>
<circle cx="250.3" cy="86.6" r="1.12" fill="#cdd1e3"/>
<circle cx="370.1" cy="102.0" r="1.12" fill="#dddcee"/>
<circle cx="346.0" cy="95.8" r="1.12" fill="#f4b8b8"/>
<circle cx="410.4" cy="140.5" r="1.12" fill="#f0a474"/>
<circle cx="395.9" cy="147.6" r="1.12" fill="#f4b8b8"/>
<circle cx="262.0" cy="110.0" r="1.12" fill="#d6d9e8"/>
<circle cx="375.6" cy="133.7" r="1.12" fill="#f6c4ac"/>
<circle cx="282.0" cy="111.9" r="1.12" fill="#d6d9e8"/>
<circle cx="290.8" cy="101.9" r="1.12" fill="#d6d9e8"/>
<circle cx="278.5" cy="119.4" r="1.12" fill="#d6d9e8"/>
<circle cx="395.5" cy="103.6" r="1.35" fill="#e88a2e"/>
<circle cx="410.3" cy="145.3" r="1.12" fill="#dddcee"/>
<circle cx="399.1" cy="143.6" r="1.12" fill="#dddcee"/>
<circle cx="409.9" cy="93.8" r="1.12" fill="#dddcee"/>
<circle cx="395.4" cy="80.8" r="1.12" fill="#f4b8b8"/>
<circle cx="357.2" cy="114.5" r="1.12" fill="#dddcee"/>
<circle cx="358.4" cy="176.1" r="1.12" fill="#efa4a4"/>
<circle cx="423.3" cy="135.0" r="1.12" fill="#f4b8b8"/>
<circle cx="376.7" cy="161.4" r="1.12" fill="#f4b8b8"/>
<circle cx="332.8" cy="120.0" r="1.12" fill="#f4b8b8"/>
<circle cx="361.6" cy="115.5" r="1.12" fill="#f4b8b8"/>
<circle cx="321.4" cy="56.6" r="1.12" fill="#f4b8b8"/>
<circle cx="384.3" cy="128.7" r="1.35" fill="#5a2d82"/>
<circle cx="272.9" cy="95.9" r="1.12" fill="#cdd1e3"/>
<circle cx="277.2" cy="69.8" r="1.12" fill="#d6d9e8"/>
<circle cx="314.7" cy="232.8" r="1.12" fill="#d3d6e6"/>
<circle cx="247.9" cy="91.5" r="1.12" fill="#d6d9e8"/>
<circle cx="416.2" cy="138.1" r="1.12" fill="#efa4a4"/>
<circle cx="373.1" cy="172.6" r="1.12" fill="#f0a474"/>
<circle cx="302.0" cy="160.0" r="1.35" fill="#5a2d82"/>
<circle cx="249.5" cy="88.3" r="1.12" fill="#d6d9e8"/>
<circle cx="285.8" cy="67.9" r="1.12" fill="#d6d9e8"/>
<circle cx="256.1" cy="70.8" r="1.12" fill="#d6d9e8"/>
<circle cx="319.3" cy="136.5" r="1.12" fill="#dddcee"/>
<circle cx="345.1" cy="174.0" r="1.12" fill="#f0a474"/>
<circle cx="292.3" cy="81.4" r="1.12" fill="#cdd1e3"/>
<circle cx="290.1" cy="67.5" r="1.12" fill="#d6d9e8"/>
<circle cx="401.9" cy="101.0" r="1.35" fill="#3a9040"/>
<circle cx="281.3" cy="89.0" r="1.12" fill="#d6d9e8"/>
<circle cx="322.6" cy="234.2" r="1.12" fill="#d3d6e6"/>
<circle cx="424.7" cy="113.0" r="1.35" fill="#3aa0a0"/>
<circle cx="275.3" cy="94.5" r="1.12" fill="#d6d9e8"/>
<circle cx="321.0" cy="240.9" r="1.12" fill="#d3d6e6"/>
<circle cx="421.0" cy="131.0" r="1.12" fill="#dddcee"/>
<circle cx="366.1" cy="72.9" r="1.35" fill="#e0c040"/>
<circle cx="286.0" cy="99.7" r="1.12" fill="#cdd1e3"/>
<circle cx="320.5" cy="232.0" r="1.12" fill="#d3d6e6"/>
<circle cx="385.9" cy="148.1" r="1.12" fill="#f4b8b8"/>
<circle cx="325.9" cy="151.0" r="1.12" fill="#f4b8b8"/>
<circle cx="390.3" cy="78.4" r="1.35" fill="#2f6fb0"/>
<circle cx="284.7" cy="83.6" r="1.12" fill="#d6d9e8"/>
<circle cx="395.7" cy="118.0" r="1.12" fill="#f6c4ac"/>
<circle cx="423.0" cy="124.6" r="1.12" fill="#f4b8b8"/>
<circle cx="388.3" cy="108.1" r="1.12" fill="#efa4a4"/>
<circle cx="405.1" cy="95.2" r="1.35" fill="#5a2d82"/>
<circle cx="383.9" cy="106.7" r="1.12" fill="#dddcee"/>
<circle cx="373.4" cy="136.2" r="1.35" fill="#3aa0a0"/>
<circle cx="321.4" cy="120.6" r="1.12" fill="#f4b8b8"/>
<circle cx="253.7" cy="79.0" r="1.12" fill="#d6d9e8"/>
<circle cx="405.2" cy="107.4" r="1.12" fill="#dddcee"/>
<circle cx="291.5" cy="103.2" r="1.12" fill="#d6d9e8"/>
<circle cx="325.4" cy="43.6" r="1.35" fill="#5a2d82"/>
<circle cx="361.2" cy="110.7" r="1.35" fill="#e377c2"/>
<circle cx="398.1" cy="104.2" r="1.35" fill="#e88a2e"/>
<circle cx="421.3" cy="141.7" r="1.35" fill="#e88a2e"/>
<circle cx="376.7" cy="177.4" r="1.12" fill="#dddcee"/>
<circle cx="256.7" cy="68.8" r="1.12" fill="#cdd1e3"/>
<circle cx="321.6" cy="239.4" r="1.12" fill="#d3d6e6"/>
<circle cx="417.3" cy="108.2" r="1.12" fill="#f4b8b8"/>
<circle cx="411.9" cy="150.5" r="1.12" fill="#efa4a4"/>
<circle cx="333.8" cy="48.7" r="1.12" fill="#dddcee"/>
<circle cx="343.2" cy="167.8" r="1.35" fill="#e88a2e"/>
<circle cx="328.0" cy="233.1" r="1.12" fill="#d3d6e6"/>
<circle cx="373.5" cy="84.3" r="1.12" fill="#f4b8b8"/>
<circle cx="334.7" cy="154.3" r="1.12" fill="#f4b8b8"/>
<circle cx="330.4" cy="150.0" r="1.12" fill="#dddcee"/>
<circle cx="330.9" cy="104.1" r="1.35" fill="#3a9040"/>
<circle cx="289.3" cy="107.4" r="1.12" fill="#d6d9e8"/>
<circle cx="340.4" cy="101.2" r="1.35" fill="#5a2d82"/>
<circle cx="380.2" cy="71.9" r="1.12" fill="#f6c4ac"/>
<circle cx="268.6" cy="115.6" r="1.12" fill="#d6d9e8"/>
<circle cx="264.1" cy="106.4" r="1.12" fill="#d6d9e8"/>
<circle cx="386.6" cy="99.9" r="1.12" fill="#dddcee"/>
<circle cx="292.5" cy="162.3" r="1.12" fill="#dddcee"/>
<circle cx="389.8" cy="84.2" r="1.35" fill="#3a9040"/>
<circle cx="338.9" cy="101.3" r="1.12" fill="#dddcee"/>
<circle cx="280.8" cy="80.5" r="1.12" fill="#d6d9e8"/>
<circle cx="349.1" cy="124.3" r="1.12" fill="#dddcee"/>
<circle cx="386.0" cy="155.4" r="1.35" fill="#5a2d82"/>
<circle cx="283.2" cy="118.4" r="1.12" fill="#d6d9e8"/>
<circle cx="362.1" cy="118.1" r="1.12" fill="#f4b8b8"/>
<circle cx="280.1" cy="99.5" r="1.12" fill="#d6d9e8"/>
<circle cx="280.2" cy="79.3" r="1.12" fill="#cdd1e3"/>
<circle cx="248.0" cy="95.5" r="1.12" fill="#d6d9e8"/>
<circle cx="312.7" cy="246.5" r="1.12" fill="#d3d6e6"/>
<circle cx="374.9" cy="133.6" r="1.12" fill="#f4b8b8"/>
<circle cx="286.4" cy="172.9" r="1.12" fill="#f6c4ac"/>
<circle cx="351.3" cy="132.3" r="1.12" fill="#dddcee"/>
<circle cx="387.4" cy="104.8" r="1.12" fill="#f4b8b8"/>
<circle cx="278.0" cy="112.2" r="1.12" fill="#d6d9e8"/>
<circle cx="420.2" cy="116.3" r="1.12" fill="#efa4a4"/>
<circle cx="403.6" cy="150.0" r="1.12" fill="#dddcee"/>
<circle cx="322.5" cy="119.9" r="1.12" fill="#dddcee"/>
<circle cx="401.7" cy="113.8" r="1.12" fill="#f4b8b8"/>
<circle cx="347.8" cy="173.2" r="1.12" fill="#f4b8b8"/>
<circle cx="357.5" cy="88.9" r="1.12" fill="#f6c4ac"/>
<circle cx="335.2" cy="123.6" r="1.12" fill="#efa4a4"/>
<circle cx="381.0" cy="90.6" r="1.35" fill="#e88a2e"/>
<circle cx="419.7" cy="102.4" r="1.12" fill="#efa4a4"/>
<circle cx="278.0" cy="90.7" r="1.12" fill="#d6d9e8"/>
<circle cx="406.6" cy="124.8" r="1.12" fill="#dddcee"/>
<circle cx="326.3" cy="111.1" r="1.12" fill="#dddcee"/>
<circle cx="278.1" cy="73.4" r="1.12" fill="#d6d9e8"/>
<circle cx="315.6" cy="247.9" r="1.12" fill="#d3d6e6"/>
<circle cx="329.6" cy="240.6" r="1.12" fill="#d3d6e6"/>
<circle cx="423.4" cy="108.7" r="1.12" fill="#f4b8b8"/>
<circle cx="396.1" cy="86.3" r="1.35" fill="#5a2d82"/>
<circle cx="424.1" cy="127.7" r="1.35" fill="#e377c2"/>
<circle cx="390.4" cy="111.6" r="1.35" fill="#e377c2"/>
<circle cx="350.3" cy="139.1" r="1.12" fill="#f4b8b8"/>
<circle cx="407.4" cy="143.2" r="1.12" fill="#f0a474"/>
<circle cx="379.0" cy="103.9" r="1.12" fill="#f4b8b8"/>
<circle cx="403.3" cy="139.2" r="1.12" fill="#f6c4ac"/>
<circle cx="262.7" cy="62.5" r="1.12" fill="#d6d9e8"/>
<circle cx="329.9" cy="102.2" r="1.12" fill="#f4b8b8"/>
<circle cx="332.1" cy="42.9" r="1.12" fill="#dddcee"/>
<circle cx="250.9" cy="101.0" r="1.12" fill="#d6d9e8"/>
<circle cx="321.1" cy="234.5" r="1.12" fill="#d3d6e6"/>
<circle cx="265.5" cy="61.8" r="1.12" fill="#cdd1e3"/>
<circle cx="286.1" cy="168.8" r="1.12" fill="#dddcee"/>
<circle cx="347.2" cy="177.9" r="1.12" fill="#dddcee"/>
<circle cx="338.8" cy="142.8" r="1.12" fill="#f4b8b8"/>
<circle cx="251.7" cy="82.4" r="1.12" fill="#cdd1e3"/>
<circle cx="391.2" cy="130.9" r="1.12" fill="#f4b8b8"/>
<circle cx="326.1" cy="57.5" r="1.12" fill="#f4b8b8"/>
<circle cx="344.3" cy="157.0" r="1.12" fill="#dddcee"/>
<circle cx="359.9" cy="99.7" r="1.12" fill="#dddcee"/>
<circle cx="320.9" cy="124.9" r="1.12" fill="#dddcee"/>
<circle cx="328.6" cy="235.9" r="1.12" fill="#d3d6e6"/>
<circle cx="321.3" cy="146.2" r="1.12" fill="#d6d9e8"/>
<circle cx="368.4" cy="133.2" r="1.12" fill="#efa4a4"/>
<circle cx="272.6" cy="57.2" r="1.12" fill="#d6d9e8"/>
<circle cx="377.6" cy="132.7" r="1.12" fill="#f6c4ac"/>
<circle cx="373.6" cy="105.0" r="1.12" fill="#f6c4ac"/>
<circle cx="386.3" cy="88.5" r="1.12" fill="#f4b8b8"/>
<circle cx="343.9" cy="96.8" r="1.12" fill="#f4b8b8"/>
<circle cx="407.0" cy="84.5" r="1.12" fill="#f6c4ac"/>
<circle cx="328.8" cy="148.7" r="1.12" fill="#dddcee"/>
<circle cx="366.6" cy="141.7" r="1.12" fill="#f4b8b8"/>
<circle cx="348.0" cy="155.5" r="1.35" fill="#2c3274"/>
<circle cx="277.6" cy="97.2" r="1.12" fill="#d6d9e8"/>
<circle cx="349.5" cy="143.7" r="1.12" fill="#f4b8b8"/>
<circle cx="384.6" cy="164.6" r="1.12" fill="#f4b8b8"/>
<circle cx="360.7" cy="178.2" r="1.12" fill="#f4b8b8"/>
<circle cx="253.0" cy="77.4" r="1.12" fill="#cdd1e3"/>
<circle cx="359.0" cy="133.5" r="1.12" fill="#dddcee"/>
<circle cx="357.8" cy="159.2" r="1.12" fill="#f4b8b8"/>
<circle cx="410.8" cy="127.0" r="1.12" fill="#dddcee"/>
<circle cx="286.7" cy="172.8" r="1.12" fill="#dddcee"/>
<circle cx="343.1" cy="112.2" r="1.35" fill="#9c5636"/>
<circle cx="369.7" cy="150.5" r="1.12" fill="#f4b8b8"/>
<circle cx="259.4" cy="76.9" r="1.12" fill="#d6d9e8"/>
<circle cx="243.3" cy="83.8" r="1.12" fill="#cdd1e3"/>
<circle cx="278.6" cy="105.1" r="1.12" fill="#d6d9e8"/>
<circle cx="341.8" cy="172.1" r="1.35" fill="#9c5636"/>
<circle cx="347.9" cy="112.3" r="1.12" fill="#dddcee"/>
<circle cx="365.7" cy="85.3" r="1.35" fill="#e0c040"/>
<circle cx="329.6" cy="148.3" r="1.12" fill="#f4b8b8"/>
<circle cx="382.7" cy="81.2" r="1.12" fill="#f4b8b8"/>
<circle cx="288.7" cy="186.2" r="1.12" fill="#f4b8b8"/>
<circle cx="363.0" cy="132.6" r="1.12" fill="#dddcee"/>
<circle cx="324.4" cy="128.3" r="1.12" fill="#f6c4ac"/>
<circle cx="354.8" cy="180.4" r="1.12" fill="#f4b8b8"/>
<circle cx="378.3" cy="67.0" r="1.12" fill="#dddcee"/>
<circle cx="327.1" cy="72.5" r="1.35" fill="#3aa0a0"/>
<circle cx="413.4" cy="149.8" r="1.12" fill="#f6c4ac"/>
<circle cx="381.3" cy="87.1" r="1.12" fill="#f4b8b8"/>
<circle cx="296.1" cy="174.8" r="1.12" fill="#f0a474"/>
<circle cx="294.5" cy="101.4" r="1.12" fill="#d6d9e8"/>
<circle cx="336.5" cy="162.1" r="1.12" fill="#f4b8b8"/>
<circle cx="324.1" cy="146.5" r="1.12" fill="#dddcee"/>
<circle cx="408.6" cy="162.6" r="1.12" fill="#f4b8b8"/>
<circle cx="289.2" cy="97.5" r="1.12" fill="#d6d9e8"/>
<circle cx="387.5" cy="139.3" r="1.12" fill="#f4b8b8"/>
<circle cx="381.4" cy="91.8" r="1.12" fill="#dddcee"/>
<circle cx="318.7" cy="230.4" r="1.12" fill="#d3d6e6"/>
<circle cx="270.6" cy="56.6" r="1.12" fill="#d6d9e8"/>
<circle cx="380.2" cy="107.8" r="1.12" fill="#f0a474"/>
<circle cx="264.2" cy="112.7" r="1.12" fill="#d6d9e8"/>
<circle cx="316.8" cy="247.8" r="1.12" fill="#d3d6e6"/>
<circle cx="380.0" cy="155.8" r="1.35" fill="#5a2d82"/>
<circle cx="328.0" cy="56.7" r="1.12" fill="#f4b8b8"/>
<circle cx="276.9" cy="87.3" r="1.12" fill="#d6d9e8"/>
<circle cx="385.9" cy="166.0" r="1.12" fill="#f6c4ac"/>
<circle cx="288.0" cy="95.3" r="1.12" fill="#d6d9e8"/>
<circle cx="292.0" cy="71.4" r="1.12" fill="#cdd1e3"/>
<circle cx="252.8" cy="78.0" r="1.12" fill="#cdd1e3"/>
<circle cx="269.0" cy="56.6" r="1.12" fill="#cdd1e3"/>
<circle cx="385.0" cy="99.5" r="1.12" fill="#dddcee"/>
<circle cx="296.7" cy="177.9" r="1.12" fill="#f0a474"/>
<circle cx="351.9" cy="97.0" r="1.35" fill="#2c3274"/>
<circle cx="355.3" cy="160.6" r="1.12" fill="#f4b8b8"/>
<circle cx="345.9" cy="132.9" r="1.12" fill="#dddcee"/>
<circle cx="339.3" cy="176.1" r="1.12" fill="#f0a474"/>
<circle cx="400.6" cy="97.4" r="1.12" fill="#dddcee"/>
<circle cx="323.1" cy="117.0" r="1.12" fill="#f4b8b8"/>
<circle cx="330.4" cy="239.7" r="1.12" fill="#d3d6e6"/>
<circle cx="258.0" cy="101.0" r="1.12" fill="#d6d9e8"/>
<circle cx="398.8" cy="164.6" r="1.35" fill="#5a2d82"/>
<circle cx="400.5" cy="105.6" r="1.12" fill="#dddcee"/>
<circle cx="348.1" cy="164.1" r="1.12" fill="#dddcee"/>
<circle cx="426.3" cy="116.7" r="1.12" fill="#dddcee"/>
<circle cx="380.9" cy="103.8" r="1.12" fill="#f4b8b8"/>
<circle cx="286.2" cy="160.4" r="1.12" fill="#f4b8b8"/>
<circle cx="392.2" cy="109.0" r="1.12" fill="#dddcee"/>
<circle cx="261.8" cy="70.8" r="1.12" fill="#d6d9e8"/>
<circle cx="267.9" cy="64.3" r="1.12" fill="#d6d9e8"/>
<circle cx="396.6" cy="159.1" r="1.12" fill="#f0a474"/>
<circle cx="283.3" cy="113.8" r="1.12" fill="#d6d9e8"/>
<circle cx="293.6" cy="100.8" r="1.12" fill="#cdd1e3"/>
<circle cx="323.9" cy="148.0" r="1.12" fill="#d6d9e8"/>
<circle cx="269.4" cy="68.8" r="1.12" fill="#cdd1e3"/>
<circle cx="339.0" cy="127.7" r="1.12" fill="#dddcee"/>
<circle cx="378.0" cy="163.4" r="1.12" fill="#dddcee"/>
<circle cx="378.9" cy="110.9" r="1.35" fill="#5a2d82"/>
<circle cx="377.1" cy="68.3" r="1.12" fill="#f4b8b8"/>
<circle cx="347.1" cy="91.9" r="1.12" fill="#f0a474"/>
<circle cx="314.3" cy="245.6" r="1.12" fill="#d3d6e6"/>
<circle cx="283.4" cy="116.0" r="1.12" fill="#d6d9e8"/>
<circle cx="396.6" cy="123.1" r="1.12" fill="#f4b8b8"/>
<circle cx="290.6" cy="176.3" r="1.12" fill="#efa4a4"/>
<circle cx="326.8" cy="153.3" r="1.12" fill="#f4b8b8"/>
<circle cx="288.1" cy="92.1" r="1.12" fill="#cdd1e3"/>
<circle cx="349.6" cy="97.6" r="1.12" fill="#f4b8b8"/>
<circle cx="403.1" cy="85.9" r="1.35" fill="#e0c040"/>
<circle cx="414.4" cy="136.5" r="1.12" fill="#f6c4ac"/>
<circle cx="389.1" cy="120.7" r="1.35" fill="#3a9040"/>
<circle cx="342.4" cy="131.9" r="1.12" fill="#dddcee"/>
<circle cx="315.8" cy="242.1" r="1.12" fill="#d3d6e6"/>
<circle cx="287.7" cy="70.0" r="1.12" fill="#d6d9e8"/>
<circle cx="252.2" cy="105.9" r="1.12" fill="#d6d9e8"/>
<circle cx="392.3" cy="97.6" r="1.12" fill="#f4b8b8"/>
<circle cx="405.7" cy="90.2" r="1.12" fill="#dddcee"/>
<circle cx="314.9" cy="233.6" r="1.12" fill="#d3d6e6"/>
<circle cx="256.4" cy="102.8" r="1.12" fill="#d6d9e8"/>
<circle cx="365.0" cy="139.4" r="1.12" fill="#f4b8b8"/>
<circle cx="379.8" cy="176.7" r="1.12" fill="#f4b8b8"/>
<circle cx="390.4" cy="79.2" r="1.35" fill="#5a2d82"/>
<circle cx="422.1" cy="117.2" r="1.35" fill="#5a2d82"/>
<circle cx="372.2" cy="108.8" r="1.12" fill="#dddcee"/>
<circle cx="401.3" cy="108.2" r="1.12" fill="#dddcee"/>
<circle cx="260.7" cy="64.3" r="1.12" fill="#d6d9e8"/>
<circle cx="360.7" cy="141.7" r="1.12" fill="#f4b8b8"/>
<circle cx="373.3" cy="130.2" r="1.12" fill="#dddcee"/>
<circle cx="374.1" cy="87.8" r="1.12" fill="#dddcee"/>
<circle cx="335.4" cy="153.8" r="1.12" fill="#dddcee"/>
<circle cx="322.0" cy="129.3" r="1.12" fill="#f4b8b8"/>
<circle cx="266.2" cy="59.1" r="1.12" fill="#d6d9e8"/>
<circle cx="422.2" cy="122.7" r="1.12" fill="#dddcee"/>
<circle cx="269.5" cy="83.2" r="1.12" fill="#d6d9e8"/>
<circle cx="270.2" cy="110.0" r="1.12" fill="#d6d9e8"/>
<circle cx="381.6" cy="113.3" r="1.35" fill="#e88a2e"/>
<circle cx="380.4" cy="166.9" r="1.12" fill="#f4b8b8"/>
<circle cx="352.0" cy="113.4" r="1.12" fill="#dddcee"/>
<circle cx="295.1" cy="79.7" r="1.12" fill="#d6d9e8"/>
<circle cx="317.6" cy="241.8" r="1.12" fill="#d3d6e6"/>
<circle cx="330.7" cy="156.4" r="1.12" fill="#f6c4ac"/>
<circle cx="381.7" cy="144.1" r="1.12" fill="#f4b8b8"/>
<circle cx="325.6" cy="235.2" r="1.12" fill="#d3d6e6"/>
<circle cx="398.4" cy="166.3" r="1.35" fill="#e0c040"/>
<circle cx="259.4" cy="73.1" r="1.12" fill="#d6d9e8"/>
<circle cx="311.7" cy="244.3" r="1.12" fill="#d3d6e6"/>
<circle cx="379.7" cy="71.9" r="1.12" fill="#f6c4ac"/>
<circle cx="403.7" cy="169.2" r="1.12" fill="#f4b8b8"/>
<circle cx="245.5" cy="87.0" r="1.12" fill="#d6d9e8"/>
<circle cx="323.6" cy="249.5" r="1.12" fill="#d3d6e6"/>
<circle cx="373.3" cy="172.8" r="1.12" fill="#f0a474"/>
<circle cx="325.7" cy="146.5" r="1.12" fill="#f4b8b8"/>
<circle cx="322.7" cy="49.2" r="1.12" fill="#f4b8b8"/>
<circle cx="416.3" cy="129.6" r="1.12" fill="#f4b8b8"/>
<circle cx="247.0" cy="97.3" r="1.12" fill="#cdd1e3"/>
<circle cx="427.4" cy="121.8" r="1.12" fill="#efa4a4"/>
<circle cx="261.6" cy="74.9" r="1.12" fill="#d6d9e8"/>
<circle cx="284.8" cy="168.9" r="1.35" fill="#2f6fb0"/>
<circle cx="367.2" cy="108.6" r="1.12" fill="#f6c4ac"/>
<circle cx="368.4" cy="117.7" r="1.12" fill="#f4b8b8"/>
<circle cx="328.7" cy="107.6" r="1.12" fill="#f4b8b8"/>
<circle cx="388.2" cy="162.6" r="1.12" fill="#dddcee"/>
<circle cx="375.3" cy="116.9" r="1.12" fill="#f4b8b8"/>
<circle cx="259.6" cy="107.9" r="1.12" fill="#d6d9e8"/>
<circle cx="354.2" cy="180.7" r="1.12" fill="#f4b8b8"/>
<circle cx="404.5" cy="169.2" r="1.12" fill="#f6c4ac"/>
<circle cx="399.7" cy="85.8" r="1.35" fill="#5a2d82"/>
<circle cx="409.3" cy="125.5" r="1.12" fill="#dddcee"/>
<circle cx="351.0" cy="164.7" r="1.35" fill="#9c5636"/>
<circle cx="268.5" cy="78.0" r="1.12" fill="#cdd1e3"/>
<circle cx="257.8" cy="76.5" r="1.12" fill="#cdd1e3"/>
<circle cx="401.3" cy="97.9" r="1.12" fill="#dddcee"/>
<circle cx="375.0" cy="120.3" r="1.35" fill="#5a2d82"/>
<circle cx="330.9" cy="101.5" r="1.35" fill="#2f6fb0"/>
<circle cx="288.5" cy="72.1" r="1.12" fill="#cdd1e3"/>
<circle cx="272.6" cy="69.4" r="1.12" fill="#cdd1e3"/>
<circle cx="358.5" cy="149.1" r="1.12" fill="#f4b8b8"/>
<circle cx="366.9" cy="124.4" r="1.35" fill="#2f6fb0"/>
<circle cx="256.3" cy="76.3" r="1.12" fill="#d6d9e8"/>
<circle cx="407.1" cy="83.0" r="1.35" fill="#5a2d82"/>
<circle cx="371.8" cy="142.3" r="1.12" fill="#f0a474"/>
<circle cx="330.2" cy="46.3" r="1.12" fill="#dddcee"/>
<circle cx="328.9" cy="44.1" r="1.12" fill="#f0a474"/>
<circle cx="330.0" cy="84.1" r="1.12" fill="#f4b8b8"/>
<circle cx="414.7" cy="103.4" r="1.12" fill="#f4b8b8"/>
<circle cx="370.8" cy="144.6" r="1.12" fill="#f4b8b8"/>
<circle cx="368.9" cy="93.5" r="1.12" fill="#dddcee"/>
<circle cx="394.9" cy="78.5" r="1.12" fill="#f0a474"/>
<circle cx="281.0" cy="111.7" r="1.12" fill="#cdd1e3"/>
<circle cx="334.1" cy="133.5" r="1.12" fill="#dddcee"/>
<circle cx="284.8" cy="94.3" r="1.12" fill="#d6d9e8"/>
<circle cx="411.4" cy="105.3" r="1.12" fill="#f6c4ac"/>
<circle cx="324.0" cy="243.0" r="1.12" fill="#d3d6e6"/>
<circle cx="277.7" cy="107.9" r="1.12" fill="#cdd1e3"/>
<circle cx="325.9" cy="44.7" r="1.12" fill="#f0a474"/>
<circle cx="340.5" cy="159.5" r="1.12" fill="#dddcee"/>
<circle cx="388.5" cy="148.0" r="1.35" fill="#9c5636"/>
<circle cx="382.7" cy="108.4" r="1.12" fill="#efa4a4"/>
<circle cx="378.9" cy="153.4" r="1.12" fill="#dddcee"/>
<circle cx="413.4" cy="132.7" r="1.12" fill="#dddcee"/>
<circle cx="372.8" cy="104.8" r="1.12" fill="#f6c4ac"/>
<circle cx="407.6" cy="104.9" r="1.12" fill="#dddcee"/>
<circle cx="244.7" cy="88.6" r="1.12" fill="#d6d9e8"/>
<circle cx="373.4" cy="143.2" r="1.12" fill="#f6c4ac"/>
<circle cx="371.1" cy="111.0" r="1.12" fill="#f4b8b8"/>
<circle cx="366.2" cy="142.7" r="1.12" fill="#f4b8b8"/>
<circle cx="328.7" cy="138.4" r="1.12" fill="#dddcee"/>
<circle cx="349.0" cy="125.7" r="1.12" fill="#f4b8b8"/>
<circle cx="363.2" cy="93.0" r="1.12" fill="#dddcee"/>
<circle cx="418.4" cy="135.5" r="1.35" fill="#e377c2"/>
<circle cx="319.6" cy="230.3" r="1.12" fill="#e6e2b0"/>
<circle cx="333.6" cy="137.1" r="1.12" fill="#f4b8b8"/>
<circle cx="324.0" cy="149.2" r="1.12" fill="#f4b8b8"/>
<circle cx="394.2" cy="141.8" r="1.12" fill="#dddcee"/>
<circle cx="333.2" cy="133.0" r="1.12" fill="#dddcee"/>
<circle cx="409.4" cy="131.7" r="1.12" fill="#f4b8b8"/>
<circle cx="358.9" cy="148.6" r="1.12" fill="#f6c4ac"/>
<circle cx="356.7" cy="157.7" r="1.12" fill="#efa4a4"/>
<circle cx="391.8" cy="135.4" r="1.12" fill="#dddcee"/>
<circle cx="249.0" cy="82.6" r="1.12" fill="#d6d9e8"/>
<circle cx="354.8" cy="91.1" r="1.12" fill="#f4b8b8"/>
<circle cx="333.8" cy="53.4" r="1.12" fill="#efa4a4"/>
<circle cx="323.0" cy="48.9" r="1.12" fill="#efa4a4"/>
<circle cx="329.7" cy="113.8" r="1.35" fill="#5a2d82"/>
<circle cx="332.7" cy="167.0" r="1.12" fill="#dddcee"/>
<circle cx="391.7" cy="98.1" r="1.12" fill="#efa4a4"/>
<circle cx="256.7" cy="90.5" r="1.12" fill="#cdd1e3"/>
<circle cx="372.6" cy="82.8" r="1.12" fill="#f4b8b8"/>
<circle cx="321.3" cy="239.6" r="1.12" fill="#d3d6e6"/>
<circle cx="258.9" cy="106.2" r="1.12" fill="#d6d9e8"/>
<circle cx="325.1" cy="234.0" r="1.12" fill="#d3d6e6"/>
<circle cx="332.8" cy="101.9" r="1.12" fill="#dddcee"/>
<circle cx="270.0" cy="95.4" r="1.12" fill="#d6d9e8"/>
<circle cx="365.5" cy="178.4" r="1.12" fill="#f4b8b8"/>
<circle cx="342.7" cy="168.4" r="1.12" fill="#f6c4ac"/>
<circle cx="402.7" cy="128.1" r="1.12" fill="#f4b8b8"/>
<circle cx="318.9" cy="237.3" r="1.12" fill="#d3d6e6"/>
<circle cx="397.3" cy="168.3" r="1.35" fill="#5a2d82"/>
<circle cx="383.0" cy="88.2" r="1.12" fill="#dddcee"/>
<circle cx="291.3" cy="91.7" r="1.12" fill="#d6d9e8"/>
<circle cx="272.4" cy="54.8" r="1.12" fill="#d6d9e8"/>
<circle cx="352.8" cy="92.3" r="1.12" fill="#f4b8b8"/>
<circle cx="409.3" cy="102.4" r="1.12" fill="#dddcee"/>
<circle cx="379.3" cy="166.0" r="1.12" fill="#f0a474"/>
<circle cx="276.5" cy="70.6" r="1.12" fill="#cdd1e3"/>
<circle cx="271.3" cy="70.8" r="1.12" fill="#d6d9e8"/>
<circle cx="328.4" cy="141.3" r="1.12" fill="#dddcee"/>
<circle cx="373.0" cy="125.5" r="1.12" fill="#f4b8b8"/>
<circle cx="365.1" cy="93.5" r="1.12" fill="#dddcee"/>
<circle cx="322.3" cy="149.3" r="1.12" fill="#d6d9e8"/>
<circle cx="326.4" cy="110.9" r="1.12" fill="#dddcee"/>
<circle cx="341.8" cy="158.3" r="1.12" fill="#dddcee"/>
<circle cx="417.9" cy="129.2" r="1.12" fill="#efa4a4"/>
<circle cx="397.9" cy="77.8" r="1.12" fill="#f4b8b8"/>
<circle cx="285.1" cy="162.6" r="1.12" fill="#efa4a4"/>
<circle cx="323.8" cy="243.8" r="1.12" fill="#d3d6e6"/>
<circle cx="328.7" cy="100.8" r="1.12" fill="#f4b8b8"/>
<circle cx="379.8" cy="76.4" r="1.35" fill="#e88a2e"/>
<circle cx="376.9" cy="141.4" r="1.12" fill="#f6c4ac"/>
<circle cx="414.0" cy="108.0" r="1.35" fill="#e88a2e"/>
<circle cx="330.5" cy="151.1" r="1.12" fill="#f6c4ac"/>
<circle cx="288.0" cy="110.3" r="1.12" fill="#cdd1e3"/>
<circle cx="323.7" cy="141.4" r="1.12" fill="#f6c4ac"/>
<circle cx="259.6" cy="73.4" r="1.12" fill="#cdd1e3"/>
<circle cx="400.2" cy="109.9" r="1.12" fill="#dddcee"/>
<circle cx="406.5" cy="123.8" r="1.12" fill="#f4b8b8"/>
<circle cx="416.4" cy="133.6" r="1.12" fill="#dddcee"/>
<circle cx="415.6" cy="133.2" r="1.12" fill="#f4b8b8"/>
<circle cx="276.4" cy="82.0" r="1.12" fill="#d6d9e8"/>
<circle cx="356.1" cy="81.9" r="1.12" fill="#efa4a4"/>
<circle cx="380.2" cy="113.9" r="1.35" fill="#e88a2e"/>
<circle cx="405.6" cy="146.0" r="1.12" fill="#f4b8b8"/>
<circle cx="372.0" cy="169.4" r="1.12" fill="#dddcee"/>
<circle cx="335.8" cy="127.2" r="1.12" fill="#f6c4ac"/>
<circle cx="422.7" cy="123.1" r="1.12" fill="#f4b8b8"/>
<circle cx="404.9" cy="118.9" r="1.12" fill="#f4b8b8"/>
<circle cx="353.3" cy="178.7" r="1.12" fill="#efa4a4"/>
<circle cx="412.5" cy="159.1" r="1.12" fill="#f4b8b8"/>
<circle cx="285.5" cy="75.1" r="1.12" fill="#d6d9e8"/>
<circle cx="261.5" cy="108.7" r="1.12" fill="#d6d9e8"/>
<circle cx="373.8" cy="122.7" r="1.12" fill="#dddcee"/>
<circle cx="264.4" cy="106.0" r="1.12" fill="#d6d9e8"/>
<circle cx="397.5" cy="128.4" r="1.12" fill="#f0a474"/>
<circle cx="411.4" cy="111.6" r="1.12" fill="#f4b8b8"/>
<circle cx="322.7" cy="235.0" r="1.12" fill="#d3d6e6"/>
<circle cx="318.4" cy="49.0" r="1.12" fill="#dddcee"/>
<circle cx="294.6" cy="84.8" r="1.12" fill="#d6d9e8"/>
<circle cx="405.2" cy="149.8" r="1.35" fill="#e88a2e"/>
<circle cx="280.2" cy="168.8" r="1.35" fill="#2f6fb0"/>
<circle cx="364.0" cy="124.2" r="1.12" fill="#dddcee"/>
<circle cx="253.2" cy="103.4" r="1.12" fill="#d6d9e8"/>
<circle cx="318.1" cy="242.2" r="1.12" fill="#e6e2b0"/>
<circle cx="259.0" cy="109.0" r="1.35" fill="#2a3a7a"/>
<circle cx="386.3" cy="87.6" r="1.12" fill="#efa4a4"/>
<circle cx="369.2" cy="148.5" r="1.35" fill="#2c3274"/>
<circle cx="380.4" cy="107.9" r="1.12" fill="#f4b8b8"/>
<circle cx="259.3" cy="67.2" r="1.12" fill="#d6d9e8"/>
<circle cx="377.7" cy="127.8" r="1.35" fill="#9c5636"/>
<circle cx="361.2" cy="93.1" r="1.12" fill="#efa4a4"/>
<circle cx="258.4" cy="86.5" r="1.12" fill="#d6d9e8"/>
<circle cx="418.1" cy="110.4" r="1.12" fill="#f4b8b8"/>
<circle cx="279.1" cy="78.4" r="1.12" fill="#d6d9e8"/>
<circle cx="364.7" cy="72.6" r="1.35" fill="#e377c2"/>
<circle cx="342.5" cy="175.0" r="1.12" fill="#f4b8b8"/>
<circle cx="324.6" cy="243.3" r="1.12" fill="#d3d6e6"/>
<circle cx="327.2" cy="160.8" r="1.35" fill="#9c5636"/>
<circle cx="297.3" cy="108.1" r="1.12" fill="#d6d9e8"/>
<circle cx="334.9" cy="151.6" r="1.35" fill="#5a2d82"/>
<circle cx="390.4" cy="84.4" r="1.12" fill="#dddcee"/>
<circle cx="345.8" cy="143.0" r="1.12" fill="#f6c4ac"/>
<circle cx="287.3" cy="62.3" r="1.12" fill="#d6d9e8"/>
<circle cx="392.9" cy="84.7" r="1.12" fill="#dddcee"/>
<circle cx="361.9" cy="152.7" r="1.12" fill="#f4b8b8"/>
<circle cx="282.3" cy="71.8" r="1.12" fill="#d6d9e8"/>
<circle cx="251.0" cy="82.9" r="1.12" fill="#d6d9e8"/>
<circle cx="411.0" cy="150.9" r="1.12" fill="#dddcee"/>
<circle cx="365.7" cy="125.4" r="1.35" fill="#9c5636"/>
<circle cx="253.5" cy="104.1" r="1.12" fill="#cdd1e3"/>
<circle cx="270.2" cy="108.9" r="1.12" fill="#cdd1e3"/>
<circle cx="331.1" cy="237.0" r="1.12" fill="#d3d6e6"/>
<circle cx="388.2" cy="146.3" r="1.12" fill="#f0a474"/>
<circle cx="375.8" cy="155.0" r="1.12" fill="#dddcee"/>
<circle cx="288.2" cy="88.0" r="1.12" fill="#d6d9e8"/>
<circle cx="358.9" cy="126.8" r="1.35" fill="#9c5636"/>
<circle cx="370.3" cy="127.8" r="1.35" fill="#2c3274"/>
<circle cx="424.0" cy="131.3" r="1.35" fill="#9c5636"/>
<circle cx="279.7" cy="72.5" r="1.12" fill="#d6d9e8"/>
<circle cx="345.3" cy="157.5" r="1.12" fill="#dddcee"/>
<circle cx="323.2" cy="144.9" r="1.12" fill="#dddcee"/>
<circle cx="402.9" cy="132.1" r="1.35" fill="#3aa0a0"/>
<circle cx="386.5" cy="144.1" r="1.12" fill="#f6c4ac"/>
<circle cx="331.2" cy="65.4" r="1.35" fill="#5a2d82"/>
<circle cx="289.5" cy="107.0" r="1.12" fill="#cdd1e3"/>
<circle cx="329.7" cy="49.5" r="1.35" fill="#2c3274"/>
<circle cx="394.3" cy="110.1" r="1.12" fill="#f4b8b8"/>
<circle cx="411.9" cy="161.3" r="1.12" fill="#dddcee"/>
<circle cx="377.1" cy="91.9" r="1.12" fill="#f6c4ac"/>
<circle cx="352.1" cy="150.9" r="1.12" fill="#f6c4ac"/>
<circle cx="396.6" cy="146.1" r="1.35" fill="#3a9040"/>
<circle cx="277.8" cy="107.5" r="1.12" fill="#d6d9e8"/>
<circle cx="287.9" cy="165.4" r="1.12" fill="#dddcee"/>
<circle cx="329.9" cy="64.4" r="1.35" fill="#e88a2e"/>
<circle cx="367.2" cy="142.7" r="1.35" fill="#9c5636"/>
<circle cx="255.7" cy="72.6" r="1.12" fill="#d6d9e8"/>
<circle cx="376.9" cy="160.6" r="1.12" fill="#f0a474"/>
<circle cx="322.4" cy="247.1" r="1.12" fill="#d3d6e6"/>
<circle cx="395.2" cy="156.5" r="1.35" fill="#e88a2e"/>
<circle cx="332.8" cy="55.9" r="1.35" fill="#5a2d82"/>
<circle cx="398.8" cy="141.3" r="1.12" fill="#dddcee"/>
<circle cx="338.6" cy="149.5" r="1.12" fill="#f0a474"/>
<circle cx="285.2" cy="99.9" r="1.12" fill="#cdd1e3"/>
<circle cx="403.3" cy="159.0" r="1.12" fill="#dddcee"/>
<circle cx="348.9" cy="169.7" r="1.12" fill="#f6c4ac"/>
<circle cx="250.9" cy="88.0" r="1.12" fill="#d6d9e8"/>
<circle cx="418.5" cy="113.6" r="1.12" fill="#dddcee"/>
<circle cx="354.9" cy="103.2" r="1.12" fill="#efa4a4"/>
<circle cx="290.4" cy="181.8" r="1.12" fill="#f0a474"/>
<circle cx="330.5" cy="139.5" r="1.12" fill="#f6c4ac"/>
<circle cx="408.0" cy="120.7" r="1.12" fill="#f4b8b8"/>
<circle cx="288.5" cy="79.3" r="1.12" fill="#d6d9e8"/>
<circle cx="266.6" cy="54.6" r="1.12" fill="#d6d9e8"/>
<circle cx="262.5" cy="67.8" r="1.12" fill="#d6d9e8"/>
<circle cx="293.8" cy="110.2" r="1.12" fill="#d6d9e8"/>
<circle cx="316.5" cy="147.6" r="1.12" fill="#cdd1e3"/>
<circle cx="396.8" cy="155.4" r="1.12" fill="#f0a474"/>
<circle cx="374.1" cy="103.5" r="1.12" fill="#f4b8b8"/>
<circle cx="365.5" cy="171.6" r="1.35" fill="#3a9040"/>
<circle cx="276.5" cy="98.3" r="1.12" fill="#d6d9e8"/>
<circle cx="297.5" cy="182.0" r="1.12" fill="#f4b8b8"/>
<circle cx="326.0" cy="41.4" r="1.12" fill="#dddcee"/>
<circle cx="367.0" cy="158.3" r="1.12" fill="#dddcee"/>
<circle cx="253.7" cy="70.6" r="1.12" fill="#cdd1e3"/>
<circle cx="287.1" cy="157.4" r="1.12" fill="#dddcee"/>
<circle cx="352.7" cy="139.3" r="1.12" fill="#efa4a4"/>
<circle cx="397.9" cy="161.8" r="1.12" fill="#dddcee"/>
<circle cx="414.8" cy="114.7" r="1.35" fill="#2c3274"/>
<circle cx="366.2" cy="74.0" r="1.12" fill="#dddcee"/>
<circle cx="262.3" cy="81.7" r="1.12" fill="#d6d9e8"/>
<circle cx="377.2" cy="150.0" r="1.12" fill="#f4b8b8"/>
<circle cx="383.6" cy="165.9" r="1.12" fill="#dddcee"/>
<circle cx="381.3" cy="72.7" r="1.12" fill="#f4b8b8"/>
<circle cx="414.9" cy="95.8" r="1.35" fill="#2c3274"/>
<circle cx="356.3" cy="162.5" r="1.12" fill="#f4b8b8"/>
<circle cx="401.0" cy="146.7" r="1.12" fill="#f0a474"/>
<circle cx="281.3" cy="68.5" r="1.12" fill="#cdd1e3"/>
<circle cx="253.1" cy="74.3" r="1.12" fill="#cdd1e3"/>
<circle cx="257.6" cy="104.7" r="1.12" fill="#d6d9e8"/>
<circle cx="426.1" cy="116.4" r="1.35" fill="#5a2d82"/>
<circle cx="286.4" cy="65.4" r="1.12" fill="#d6d9e8"/>
<circle cx="363.3" cy="114.8" r="1.12" fill="#f0a474"/>
<circle cx="375.5" cy="126.0" r="1.12" fill="#f6c4ac"/>
<circle cx="366.5" cy="161.7" r="1.12" fill="#f4b8b8"/>
<circle cx="381.9" cy="118.4" r="1.12" fill="#f4b8b8"/>
<circle cx="349.5" cy="173.0" r="1.12" fill="#efa4a4"/>
<circle cx="409.1" cy="139.5" r="1.35" fill="#e88a2e"/>
<circle cx="327.5" cy="122.5" r="1.12" fill="#f4b8b8"/>
<circle cx="295.1" cy="109.9" r="1.12" fill="#cdd1e3"/>
<circle cx="317.5" cy="239.4" r="1.12" fill="#d3d6e6"/>
<circle cx="367.0" cy="79.7" r="1.12" fill="#f6c4ac"/>
<circle cx="356.8" cy="150.9" r="1.12" fill="#dddcee"/>
<circle cx="265.8" cy="108.4" r="1.12" fill="#d6d9e8"/>
<circle cx="388.6" cy="126.9" r="1.12" fill="#f4b8b8"/>
<circle cx="356.9" cy="103.6" r="1.12" fill="#f0a474"/>
<circle cx="322.4" cy="53.8" r="1.35" fill="#5a2d82"/>
<circle cx="404.2" cy="138.9" r="1.12" fill="#dddcee"/>
<circle cx="259.3" cy="81.1" r="1.12" fill="#d6d9e8"/>
<circle cx="328.8" cy="108.3" r="1.12" fill="#dddcee"/>
<circle cx="382.6" cy="106.5" r="1.12" fill="#f4b8b8"/>
<circle cx="323.8" cy="142.2" r="1.12" fill="#dddcee"/>
<circle cx="259.7" cy="92.2" r="1.12" fill="#d6d9e8"/>
<circle cx="373.3" cy="177.7" r="1.12" fill="#dddcee"/>
<circle cx="313.5" cy="239.5" r="1.12" fill="#d3d6e6"/>
<circle cx="256.0" cy="74.9" r="1.12" fill="#d6d9e8"/>
<circle cx="417.5" cy="119.0" r="1.12" fill="#efa4a4"/>
<circle cx="265.8" cy="54.4" r="1.12" fill="#d6d9e8"/>
<circle cx="348.9" cy="126.1" r="1.12" fill="#dddcee"/>
<circle cx="271.4" cy="92.1" r="1.12" fill="#d6d9e8"/>
<circle cx="384.3" cy="170.6" r="1.12" fill="#f4b8b8"/>
<circle cx="295.9" cy="83.1" r="1.12" fill="#d6d9e8"/>
<circle cx="326.8" cy="72.9" r="1.12" fill="#dddcee"/>
<circle cx="287.7" cy="110.9" r="1.12" fill="#d6d9e8"/>
<circle cx="398.4" cy="161.8" r="1.35" fill="#5a2d82"/>
<circle cx="343.9" cy="105.1" r="1.12" fill="#dddcee"/>
<circle cx="325.6" cy="99.4" r="1.12" fill="#f4b8b8"/>
<circle cx="343.7" cy="153.8" r="1.35" fill="#e88a2e"/>
<circle cx="359.7" cy="140.6" r="1.12" fill="#f6c4ac"/>
<circle cx="249.3" cy="86.7" r="1.12" fill="#d6d9e8"/>
<circle cx="414.1" cy="90.8" r="1.35" fill="#e88a2e"/>
<circle cx="284.1" cy="103.5" r="1.12" fill="#d6d9e8"/>
<circle cx="271.8" cy="85.0" r="1.12" fill="#cdd1e3"/>
<circle cx="264.2" cy="79.9" r="1.12" fill="#cdd1e3"/>
<circle cx="327.5" cy="113.3" r="1.12" fill="#efa4a4"/>
<circle cx="397.3" cy="79.4" r="1.12" fill="#f4b8b8"/>
<circle cx="369.3" cy="69.9" r="1.35" fill="#3a9040"/>
<circle cx="348.1" cy="147.7" r="1.12" fill="#f4b8b8"/>
<circle cx="368.4" cy="149.0" r="1.12" fill="#dddcee"/>
<circle cx="363.3" cy="76.1" r="1.12" fill="#f4b8b8"/>
<circle cx="338.6" cy="133.5" r="1.12" fill="#dddcee"/>
<circle cx="384.0" cy="163.0" r="1.35" fill="#2c3274"/>
<circle cx="354.6" cy="136.3" r="1.12" fill="#dddcee"/>
<circle cx="422.5" cy="115.2" r="1.12" fill="#dddcee"/>
<circle cx="272.0" cy="97.2" r="1.12" fill="#d6d9e8"/>
<circle cx="294.5" cy="165.1" r="1.12" fill="#f4b8b8"/>
<circle cx="280.4" cy="81.5" r="1.12" fill="#d6d9e8"/>
<circle cx="269.8" cy="67.7" r="1.12" fill="#cdd1e3"/>
<circle cx="409.7" cy="160.1" r="1.35" fill="#3a9040"/>
<circle cx="356.4" cy="174.2" r="1.35" fill="#3aa0a0"/>
<circle cx="264.1" cy="67.3" r="1.12" fill="#cdd1e3"/>
<circle cx="406.1" cy="160.0" r="1.12" fill="#f6c4ac"/>
<circle cx="260.4" cy="98.4" r="1.12" fill="#d6d9e8"/>
<circle cx="330.5" cy="51.4" r="1.12" fill="#efa4a4"/>
<circle cx="371.5" cy="86.9" r="1.12" fill="#dddcee"/>
<circle cx="354.2" cy="119.4" r="1.12" fill="#efa4a4"/>
<circle cx="420.4" cy="127.3" r="1.12" fill="#dddcee"/>
<circle cx="338.1" cy="164.7" r="1.12" fill="#f4b8b8"/>
<circle cx="371.2" cy="98.2" r="1.12" fill="#dddcee"/>
<circle cx="331.5" cy="50.1" r="1.12" fill="#f4b8b8"/>
<circle cx="314.7" cy="241.5" r="1.12" fill="#d3d6e6"/>
<circle cx="275.5" cy="89.9" r="1.12" fill="#d6d9e8"/>
<circle cx="355.7" cy="109.3" r="1.12" fill="#f4b8b8"/>
<circle cx="359.8" cy="151.1" r="1.12" fill="#f0a474"/>
<circle cx="264.7" cy="76.3" r="1.12" fill="#d6d9e8"/>
<circle cx="380.2" cy="83.9" r="1.12" fill="#efa4a4"/>
<circle cx="378.7" cy="124.0" r="1.35" fill="#e377c2"/>
<circle cx="394.7" cy="135.5" r="1.12" fill="#f6c4ac"/>
<circle cx="396.9" cy="158.0" r="1.12" fill="#f6c4ac"/>
<circle cx="326.4" cy="243.5" r="1.12" fill="#e6e2b0"/>
<circle cx="419.7" cy="140.3" r="1.12" fill="#f0a474"/>
<circle cx="351.5" cy="105.8" r="1.35" fill="#5a2d82"/>
<circle cx="410.2" cy="89.4" r="1.12" fill="#f4b8b8"/>
<circle cx="348.3" cy="162.9" r="1.12" fill="#dddcee"/>
<circle cx="255.3" cy="84.8" r="1.12" fill="#cdd1e3"/>
<circle cx="343.3" cy="95.2" r="1.12" fill="#f4b8b8"/>
<circle cx="357.2" cy="149.7" r="1.12" fill="#f6c4ac"/>
<circle cx="390.4" cy="174.1" r="1.12" fill="#f0a474"/>
<circle cx="359.8" cy="106.9" r="1.35" fill="#5a2d82"/>
<circle cx="367.3" cy="76.0" r="1.12" fill="#dddcee"/>
<circle cx="287.8" cy="82.0" r="1.12" fill="#d6d9e8"/>
<circle cx="259.6" cy="91.0" r="1.12" fill="#d6d9e8"/>
<circle cx="258.4" cy="77.9" r="1.12" fill="#d6d9e8"/>
<circle cx="268.5" cy="76.0" r="1.12" fill="#d6d9e8"/>
<circle cx="370.1" cy="113.7" r="1.12" fill="#dddcee"/>
<circle cx="375.3" cy="110.7" r="1.12" fill="#f4b8b8"/>
<circle cx="404.1" cy="141.1" r="1.35" fill="#e88a2e"/>
<circle cx="287.7" cy="82.0" r="1.12" fill="#d6d9e8"/>
<circle cx="380.5" cy="78.6" r="1.12" fill="#f4b8b8"/>
<circle cx="359.1" cy="158.7" r="1.12" fill="#dddcee"/>
<circle cx="352.3" cy="121.3" r="1.12" fill="#f0a474"/>
<circle cx="419.7" cy="122.2" r="1.12" fill="#dddcee"/>
<circle cx="341.3" cy="124.9" r="1.12" fill="#dddcee"/>
<circle cx="370.9" cy="161.3" r="1.35" fill="#3a9040"/>
<circle cx="259.0" cy="85.1" r="1.12" fill="#d6d9e8"/>
<circle cx="351.5" cy="97.9" r="1.35" fill="#3aa0a0"/>
<circle cx="363.1" cy="77.9" r="1.12" fill="#dddcee"/>
<circle cx="339.0" cy="130.3" r="1.12" fill="#f6c4ac"/>
<circle cx="283.3" cy="164.5" r="1.12" fill="#f0a474"/>
<circle cx="381.6" cy="166.1" r="1.12" fill="#f6c4ac"/>
<circle cx="261.0" cy="81.2" r="1.12" fill="#d6d9e8"/>
<circle cx="413.4" cy="112.5" r="1.12" fill="#f4b8b8"/>
<circle cx="326.7" cy="42.5" r="1.12" fill="#dddcee"/>
<circle cx="330.3" cy="45.9" r="1.35" fill="#2c3274"/>
<circle cx="333.5" cy="68.7" r="1.12" fill="#dddcee"/>
<circle cx="368.5" cy="145.2" r="1.12" fill="#f4b8b8"/>
<circle cx="323.5" cy="147.5" r="1.12" fill="#dddcee"/>
<circle cx="415.6" cy="150.8" r="1.35" fill="#5a2d82"/>
<circle cx="413.8" cy="111.0" r="1.35" fill="#3a9040"/>
<circle cx="314.9" cy="237.9" r="1.12" fill="#d3d6e6"/>
<circle cx="289.2" cy="162.3" r="1.12" fill="#f0a474"/>
<circle cx="312.1" cy="242.3" r="1.12" fill="#d3d6e6"/>
<circle cx="346.2" cy="160.8" r="1.35" fill="#9c5636"/>
<circle cx="416.4" cy="115.6" r="1.12" fill="#f6c4ac"/>
<circle cx="345.3" cy="146.9" r="1.35" fill="#3aa0a0"/>
<circle cx="259.6" cy="66.6" r="1.12" fill="#cdd1e3"/>
<circle cx="408.1" cy="164.3" r="1.12" fill="#f0a474"/>
<circle cx="256.0" cy="69.4" r="1.12" fill="#d6d9e8"/>
<circle cx="380.5" cy="90.0" r="1.35" fill="#5a2d82"/>
<circle cx="322.7" cy="237.7" r="1.12" fill="#d3d6e6"/>
<circle cx="287.6" cy="172.2" r="1.12" fill="#f0a474"/>
<circle cx="263.1" cy="70.0" r="1.12" fill="#d6d9e8"/>
<circle cx="421.8" cy="127.1" r="1.12" fill="#dddcee"/>
<circle cx="256.1" cy="79.8" r="1.12" fill="#d6d9e8"/>
<circle cx="321.6" cy="49.9" r="1.12" fill="#f4b8b8"/>
<circle cx="324.6" cy="120.6" r="1.12" fill="#dddcee"/>
<circle cx="326.0" cy="130.2" r="1.12" fill="#f4b8b8"/>
<circle cx="324.6" cy="53.3" r="1.12" fill="#f4b8b8"/>
<circle cx="380.6" cy="72.4" r="1.12" fill="#f6c4ac"/>
<circle cx="324.7" cy="146.2" r="1.12" fill="#f0a474"/>
<circle cx="293.0" cy="179.8" r="1.12" fill="#dddcee"/>
<circle cx="382.5" cy="79.2" r="1.35" fill="#3aa0a0"/>
<circle cx="404.0" cy="120.7" r="1.12" fill="#dddcee"/>
<circle cx="349.9" cy="139.0" r="1.12" fill="#dddcee"/>
<circle cx="392.2" cy="162.8" r="1.12" fill="#efa4a4"/>
<circle cx="407.4" cy="99.9" r="1.12" fill="#f6c4ac"/>
<circle cx="408.0" cy="115.1" r="1.12" fill="#dddcee"/>
<circle cx="295.2" cy="175.3" r="1.12" fill="#dddcee"/>
<circle cx="282.5" cy="90.3" r="1.12" fill="#d6d9e8"/>
<circle cx="364.5" cy="78.9" r="1.12" fill="#dddcee"/>
<circle cx="254.7" cy="93.3" r="1.12" fill="#d6d9e8"/>
<circle cx="259.2" cy="68.6" r="1.12" fill="#d6d9e8"/>
<circle cx="385.7" cy="141.2" r="1.12" fill="#dddcee"/>
<circle cx="345.0" cy="141.3" r="1.12" fill="#f4b8b8"/>
<circle cx="375.2" cy="97.3" r="1.12" fill="#f4b8b8"/>
<circle cx="253.8" cy="76.9" r="1.12" fill="#cdd1e3"/>
<circle cx="330.2" cy="40.8" r="1.12" fill="#efa4a4"/>
<circle cx="375.0" cy="95.3" r="1.35" fill="#9c5636"/>
<circle cx="273.8" cy="53.8" r="1.12" fill="#d6d9e8"/>
<circle cx="408.9" cy="119.4" r="1.12" fill="#efa4a4"/>
<circle cx="356.5" cy="158.9" r="1.12" fill="#efa4a4"/>
<circle cx="397.6" cy="109.4" r="1.12" fill="#f4b8b8"/>
<circle cx="358.5" cy="97.8" r="1.12" fill="#f4b8b8"/>
<circle cx="396.0" cy="127.3" r="1.12" fill="#dddcee"/>
<circle cx="345.5" cy="178.9" r="1.35" fill="#3a9040"/>
<circle cx="331.5" cy="153.1" r="1.35" fill="#5a2d82"/>
<circle cx="296.9" cy="105.8" r="1.12" fill="#cdd1e3"/>
<circle cx="376.8" cy="105.4" r="1.12" fill="#f6c4ac"/>
<circle cx="294.6" cy="103.0" r="1.12" fill="#d6d9e8"/>
<circle cx="352.6" cy="144.7" r="1.12" fill="#dddcee"/>
<circle cx="360.4" cy="140.3" r="1.12" fill="#f4b8b8"/>
<circle cx="396.7" cy="154.5" r="1.12" fill="#dddcee"/>
<circle cx="291.3" cy="107.4" r="1.12" fill="#d6d9e8"/>
<circle cx="357.0" cy="135.3" r="1.12" fill="#f4b8b8"/>
<circle cx="320.5" cy="42.5" r="1.35" fill="#5a2d82"/>
<circle cx="327.0" cy="118.5" r="1.12" fill="#f6c4ac"/>
<circle cx="377.0" cy="162.6" r="1.35" fill="#9c5636"/>
<circle cx="253.2" cy="95.7" r="1.12" fill="#d6d9e8"/>
<circle cx="337.3" cy="125.2" r="1.12" fill="#efa4a4"/>
<circle cx="415.8" cy="107.7" r="1.12" fill="#dddcee"/>
<circle cx="388.9" cy="132.4" r="1.12" fill="#efa4a4"/>
<circle cx="331.3" cy="98.6" r="1.12" fill="#f6c4ac"/>
<circle cx="352.3" cy="150.3" r="1.12" fill="#dddcee"/>
<circle cx="411.8" cy="155.8" r="1.12" fill="#f4b8b8"/>
<circle cx="247.6" cy="86.4" r="1.12" fill="#d6d9e8"/>
<circle cx="335.7" cy="105.1" r="1.12" fill="#dddcee"/>
<circle cx="372.8" cy="174.6" r="1.12" fill="#f6c4ac"/>
<circle cx="365.4" cy="114.9" r="1.12" fill="#f6c4ac"/>
<circle cx="381.9" cy="169.3" r="1.12" fill="#f6c4ac"/>
<circle cx="321.1" cy="148.2" r="1.35" fill="#e88a2e"/>
<circle cx="287.5" cy="66.0" r="1.12" fill="#cdd1e3"/>
<circle cx="371.2" cy="82.4" r="1.12" fill="#dddcee"/>
<circle cx="266.5" cy="104.8" r="1.12" fill="#d6d9e8"/>
<circle cx="330.0" cy="40.2" r="1.35" fill="#5a2d82"/>
<circle cx="255.0" cy="101.4" r="1.12" fill="#cdd1e3"/>
<circle cx="351.9" cy="154.4" r="1.12" fill="#f0a474"/>
<circle cx="371.0" cy="167.2" r="1.12" fill="#dddcee"/>
<circle cx="410.4" cy="100.1" r="1.12" fill="#f4b8b8"/>
<circle cx="341.4" cy="115.8" r="1.12" fill="#dddcee"/>
<circle cx="423.4" cy="114.0" r="1.12" fill="#dddcee"/>
<circle cx="395.9" cy="150.4" r="1.35" fill="#2f6fb0"/>
<circle cx="395.6" cy="93.6" r="1.12" fill="#f6c4ac"/>
<circle cx="421.4" cy="130.4" r="1.35" fill="#9c5636"/>
<circle cx="359.5" cy="121.7" r="1.12" fill="#dddcee"/>
<circle cx="350.2" cy="171.2" r="1.12" fill="#dddcee"/>
<circle cx="374.9" cy="117.1" r="1.12" fill="#dddcee"/>
<circle cx="282.9" cy="83.2" r="1.12" fill="#cdd1e3"/>
<circle cx="255.6" cy="92.3" r="1.12" fill="#d6d9e8"/>
<circle cx="320.1" cy="231.5" r="1.12" fill="#d3d6e6"/>
<circle cx="344.0" cy="163.8" r="1.12" fill="#efa4a4"/>
<circle cx="288.2" cy="113.7" r="1.12" fill="#cdd1e3"/>
<circle cx="345.0" cy="167.1" r="1.12" fill="#f4b8b8"/>
<circle cx="330.8" cy="56.3" r="1.12" fill="#f4b8b8"/>
<circle cx="337.2" cy="145.2" r="1.12" fill="#efa4a4"/>
<circle cx="290.5" cy="97.9" r="1.12" fill="#d6d9e8"/>
<circle cx="401.4" cy="152.4" r="1.12" fill="#f4b8b8"/>
<circle cx="282.9" cy="89.9" r="1.12" fill="#d6d9e8"/>
<circle cx="254.4" cy="106.7" r="1.12" fill="#d6d9e8"/>
<circle cx="344.8" cy="94.0" r="1.12" fill="#f0a474"/>
<circle cx="294.1" cy="169.6" r="1.12" fill="#dddcee"/>
<circle cx="390.1" cy="136.2" r="1.12" fill="#dddcee"/>
<circle cx="285.3" cy="107.2" r="1.12" fill="#d6d9e8"/>
<circle cx="365.1" cy="163.0" r="1.12" fill="#dddcee"/>
<circle cx="420.9" cy="97.0" r="1.12" fill="#f4b8b8"/>
<circle cx="380.5" cy="98.9" r="1.12" fill="#f6c4ac"/>
<circle cx="254.4" cy="79.8" r="1.12" fill="#d6d9e8"/>
<circle cx="367.0" cy="73.2" r="1.12" fill="#dddcee"/>
<circle cx="328.1" cy="233.6" r="1.12" fill="#d3d6e6"/>
<circle cx="399.8" cy="90.8" r="1.12" fill="#efa4a4"/>
<circle cx="368.1" cy="163.1" r="1.12" fill="#f4b8b8"/>
<circle cx="251.6" cy="105.6" r="1.12" fill="#d6d9e8"/>
<circle cx="332.2" cy="109.3" r="1.12" fill="#dddcee"/>
<circle cx="405.4" cy="101.5" r="1.12" fill="#f4b8b8"/>
<circle cx="377.9" cy="170.7" r="1.12" fill="#dddcee"/>
<circle cx="351.9" cy="134.0" r="1.35" fill="#2f6fb0"/>
<circle cx="247.3" cy="75.9" r="1.12" fill="#d6d9e8"/>
<circle cx="257.5" cy="79.8" r="1.12" fill="#d6d9e8"/>
<circle cx="273.2" cy="95.1" r="1.12" fill="#d6d9e8"/>
<circle cx="323.5" cy="244.3" r="1.12" fill="#d3d6e6"/>
<circle cx="401.3" cy="97.8" r="1.12" fill="#f4b8b8"/>
<circle cx="261.4" cy="62.5" r="1.12" fill="#d6d9e8"/>
<circle cx="417.1" cy="131.2" r="1.35" fill="#3a9040"/>
<circle cx="392.5" cy="152.5" r="1.12" fill="#f0a474"/>
<circle cx="394.2" cy="85.0" r="1.12" fill="#f4b8b8"/>
<circle cx="298.1" cy="182.2" r="1.35" fill="#2c3274"/>
<circle cx="382.2" cy="93.1" r="1.12" fill="#dddcee"/>
<circle cx="388.2" cy="159.9" r="1.12" fill="#f4b8b8"/>
<circle cx="343.5" cy="155.5" r="1.12" fill="#f0a474"/>
<circle cx="367.6" cy="130.4" r="1.35" fill="#3aa0a0"/>
<circle cx="410.7" cy="103.7" r="1.12" fill="#f4b8b8"/>
<circle cx="383.0" cy="115.6" r="1.35" fill="#9c5636"/>
<circle cx="339.1" cy="167.1" r="1.12" fill="#dddcee"/>
<circle cx="318.3" cy="230.9" r="1.12" fill="#e6e2b0"/>
<circle cx="272.7" cy="101.2" r="1.12" fill="#d6d9e8"/>
<circle cx="383.0" cy="132.7" r="1.35" fill="#5a2d82"/>
<circle cx="295.0" cy="88.4" r="1.12" fill="#d6d9e8"/>
<circle cx="413.0" cy="144.6" r="1.12" fill="#f0a474"/>
<circle cx="327.2" cy="85.8" r="1.12" fill="#dddcee"/>
<circle cx="399.4" cy="147.2" r="1.35" fill="#3aa0a0"/>
<circle cx="378.4" cy="95.0" r="1.12" fill="#f6c4ac"/>
<circle cx="287.9" cy="104.8" r="1.12" fill="#d6d9e8"/>
<circle cx="327.4" cy="53.0" r="1.12" fill="#f4b8b8"/>
<circle cx="385.7" cy="77.0" r="1.12" fill="#efa4a4"/>
<circle cx="328.2" cy="53.3" r="1.12" fill="#f6c4ac"/>
<circle cx="392.8" cy="95.5" r="1.12" fill="#dddcee"/>
<circle cx="372.2" cy="81.8" r="1.35" fill="#9c5636"/>
<circle cx="373.1" cy="92.5" r="1.12" fill="#dddcee"/>
<circle cx="367.6" cy="93.0" r="1.12" fill="#dddcee"/>
<circle cx="297.1" cy="108.8" r="1.12" fill="#d6d9e8"/>
<circle cx="408.3" cy="166.4" r="1.12" fill="#f6c4ac"/>
<circle cx="326.9" cy="74.9" r="1.12" fill="#dddcee"/>
<circle cx="359.0" cy="85.0" r="1.12" fill="#f4b8b8"/>
<circle cx="372.3" cy="97.9" r="1.35" fill="#2f6fb0"/>
<circle cx="421.8" cy="112.6" r="1.35" fill="#e377c2"/>
<circle cx="401.5" cy="160.3" r="1.12" fill="#f6c4ac"/>
<circle cx="334.7" cy="129.6" r="1.35" fill="#e0c040"/>
<circle cx="363.9" cy="113.2" r="1.12" fill="#dddcee"/>
<circle cx="353.6" cy="171.4" r="1.12" fill="#dddcee"/>
<circle cx="415.3" cy="143.2" r="1.12" fill="#f6c4ac"/>
<circle cx="393.8" cy="173.5" r="1.12" fill="#dddcee"/>
<circle cx="314.1" cy="242.6" r="1.12" fill="#d3d6e6"/>
<circle cx="290.4" cy="114.3" r="1.12" fill="#cdd1e3"/>
<circle cx="409.8" cy="130.0" r="1.12" fill="#f4b8b8"/>
<circle cx="323.8" cy="246.8" r="1.12" fill="#d3d6e6"/>
<circle cx="265.4" cy="110.9" r="1.12" fill="#cdd1e3"/>
<circle cx="287.2" cy="184.2" r="1.12" fill="#f4b8b8"/>
<circle cx="369.4" cy="88.9" r="1.12" fill="#dddcee"/>
<circle cx="265.7" cy="114.1" r="1.12" fill="#cdd1e3"/>
<circle cx="388.8" cy="172.6" r="1.35" fill="#e88a2e"/>
<circle cx="343.9" cy="153.0" r="1.12" fill="#f4b8b8"/>
<circle cx="323.6" cy="235.4" r="1.12" fill="#d3d6e6"/>
<circle cx="328.0" cy="54.4" r="1.12" fill="#efa4a4"/>
<circle cx="263.5" cy="85.1" r="1.12" fill="#d6d9e8"/>
<circle cx="347.7" cy="125.1" r="1.12" fill="#dddcee"/>
<circle cx="372.4" cy="164.6" r="1.12" fill="#dddcee"/>
<circle cx="404.0" cy="99.9" r="1.12" fill="#dddcee"/>
<circle cx="286.6" cy="64.5" r="1.12" fill="#d6d9e8"/>
<circle cx="413.2" cy="109.5" r="1.12" fill="#f4b8b8"/>
<circle cx="350.4" cy="178.2" r="1.12" fill="#dddcee"/>
<circle cx="341.8" cy="163.2" r="1.12" fill="#f4b8b8"/>
<circle cx="353.9" cy="116.8" r="1.12" fill="#f6c4ac"/>
<circle cx="267.1" cy="68.7" r="1.12" fill="#d6d9e8"/>
<circle cx="321.7" cy="48.8" r="1.12" fill="#f4b8b8"/>
<circle cx="416.5" cy="150.5" r="1.35" fill="#5a2d82"/>
<circle cx="423.8" cy="108.0" r="1.12" fill="#f6c4ac"/>
<circle cx="316.1" cy="245.5" r="1.12" fill="#d3d6e6"/>
<circle cx="353.8" cy="167.7" r="1.12" fill="#f4b8b8"/>
<circle cx="397.9" cy="126.6" r="1.35" fill="#e88a2e"/>
<circle cx="399.2" cy="149.5" r="1.12" fill="#dddcee"/>
<circle cx="381.2" cy="150.5" r="1.12" fill="#f0a474"/>
<circle cx="397.4" cy="91.9" r="1.12" fill="#efa4a4"/>
<circle cx="379.0" cy="112.7" r="1.35" fill="#2f6fb0"/>
<circle cx="389.9" cy="113.0" r="1.12" fill="#f4b8b8"/>
<circle cx="407.1" cy="145.1" r="1.35" fill="#2c3274"/>
<circle cx="422.2" cy="126.9" r="1.35" fill="#e0c040"/>
<circle cx="287.7" cy="64.4" r="1.12" fill="#d6d9e8"/>
<circle cx="373.2" cy="87.7" r="1.12" fill="#dddcee"/>
<circle cx="336.3" cy="146.0" r="1.12" fill="#f4b8b8"/>
<circle cx="369.8" cy="163.3" r="1.12" fill="#dddcee"/>
<circle cx="404.7" cy="149.9" r="1.12" fill="#f6c4ac"/>
<circle cx="253.3" cy="106.4" r="1.12" fill="#cdd1e3"/>
<circle cx="331.2" cy="167.1" r="1.12" fill="#f4b8b8"/>
<circle cx="354.2" cy="94.1" r="1.35" fill="#3a9040"/>
<circle cx="269.4" cy="55.6" r="1.12" fill="#d6d9e8"/>
<circle cx="373.1" cy="128.2" r="1.12" fill="#f4b8b8"/>
<circle cx="295.1" cy="99.3" r="1.12" fill="#d6d9e8"/>
<circle cx="322.7" cy="41.5" r="1.12" fill="#f4b8b8"/>
<circle cx="345.5" cy="172.7" r="1.12" fill="#dddcee"/>
<circle cx="374.5" cy="139.7" r="1.12" fill="#f6c4ac"/>
<circle cx="270.7" cy="99.4" r="1.12" fill="#d6d9e8"/>
<circle cx="287.7" cy="112.7" r="1.12" fill="#d6d9e8"/>
<circle cx="260.2" cy="63.1" r="1.12" fill="#d6d9e8"/>
<circle cx="373.2" cy="173.9" r="1.12" fill="#efa4a4"/>
<circle cx="331.9" cy="103.7" r="1.12" fill="#f6c4ac"/>
<circle cx="368.8" cy="130.6" r="1.12" fill="#f6c4ac"/>
<circle cx="364.2" cy="120.9" r="1.12" fill="#f6c4ac"/>
<circle cx="255.8" cy="91.5" r="1.12" fill="#d6d9e8"/>
<circle cx="285.6" cy="116.0" r="1.12" fill="#d6d9e8"/>
<circle cx="400.2" cy="161.2" r="1.12" fill="#f4b8b8"/>
<circle cx="362.8" cy="84.8" r="1.12" fill="#f6c4ac"/>
<circle cx="277.7" cy="111.4" r="1.12" fill="#cdd1e3"/>
<circle cx="336.5" cy="127.2" r="1.12" fill="#f0a474"/>
<circle cx="377.4" cy="124.8" r="1.12" fill="#f6c4ac"/>
<circle cx="410.5" cy="93.2" r="1.12" fill="#f4b8b8"/>
<circle cx="376.0" cy="161.5" r="1.12" fill="#f4b8b8"/>
<circle cx="354.2" cy="138.5" r="1.12" fill="#dddcee"/>
<circle cx="245.6" cy="79.4" r="1.12" fill="#cdd1e3"/>
<circle cx="331.2" cy="134.9" r="1.12" fill="#f6c4ac"/>
<circle cx="337.9" cy="135.9" r="1.12" fill="#dddcee"/>
<circle cx="291.1" cy="75.0" r="1.12" fill="#d6d9e8"/>
<circle cx="417.3" cy="98.0" r="1.35" fill="#e88a2e"/>
<circle cx="334.3" cy="119.4" r="1.12" fill="#f4b8b8"/>
<circle cx="398.6" cy="105.6" r="1.35" fill="#2f6fb0"/>
<circle cx="369.9" cy="160.6" r="1.35" fill="#5a2d82"/>
<circle cx="412.7" cy="108.7" r="1.35" fill="#5a2d82"/>
<circle cx="323.9" cy="244.4" r="1.12" fill="#e6e2b0"/>
<circle cx="310.8" cy="243.2" r="1.12" fill="#d3d6e6"/>
<circle cx="371.3" cy="123.7" r="1.12" fill="#dddcee"/>
<circle cx="343.5" cy="166.6" r="1.12" fill="#f0a474"/>
<circle cx="331.2" cy="50.6" r="1.12" fill="#f4b8b8"/>
<circle cx="289.7" cy="182.7" r="1.12" fill="#dddcee"/>
<circle cx="383.6" cy="127.5" r="1.35" fill="#3a9040"/>
<circle cx="328.8" cy="149.2" r="1.12" fill="#f0a474"/>
<circle cx="343.6" cy="132.4" r="1.12" fill="#dddcee"/>
<circle cx="326.5" cy="146.8" r="1.35" fill="#e88a2e"/>
<circle cx="295.0" cy="86.2" r="1.12" fill="#d6d9e8"/>
<circle cx="386.7" cy="160.1" r="1.12" fill="#dddcee"/>
<circle cx="254.7" cy="95.0" r="1.12" fill="#cdd1e3"/>
<circle cx="377.4" cy="85.6" r="1.35" fill="#e88a2e"/>
<circle cx="341.0" cy="154.1" r="1.12" fill="#f0a474"/>
<circle cx="367.6" cy="104.0" r="1.12" fill="#f4b8b8"/>
<circle cx="276.7" cy="98.2" r="1.12" fill="#cdd1e3"/>
<circle cx="251.6" cy="104.7" r="1.12" fill="#d6d9e8"/>
<circle cx="329.1" cy="127.6" r="1.12" fill="#dddcee"/>
<circle cx="325.3" cy="41.8" r="1.12" fill="#dddcee"/>
<circle cx="268.0" cy="84.2" r="1.12" fill="#d6d9e8"/>
<circle cx="266.2" cy="87.5" r="1.12" fill="#d6d9e8"/>
<circle cx="353.6" cy="82.6" r="1.12" fill="#f4b8b8"/>
<circle cx="255.2" cy="83.9" r="1.12" fill="#d6d9e8"/>
<circle cx="248.2" cy="76.9" r="1.12" fill="#d6d9e8"/>
<circle cx="357.3" cy="100.7" r="1.35" fill="#3a9040"/>
<circle cx="392.5" cy="139.2" r="1.12" fill="#efa4a4"/>
<circle cx="349.6" cy="106.8" r="1.12" fill="#dddcee"/>
<circle cx="398.6" cy="88.9" r="1.12" fill="#f4b8b8"/>
<circle cx="338.8" cy="121.6" r="1.12" fill="#f6c4ac"/>
<circle cx="286.0" cy="115.3" r="1.12" fill="#d6d9e8"/>
<circle cx="387.8" cy="142.2" r="1.35" fill="#e0c040"/>
<circle cx="358.6" cy="149.8" r="1.12" fill="#f4b8b8"/>
<circle cx="330.1" cy="109.3" r="1.12" fill="#f0a474"/>
<circle cx="397.4" cy="115.8" r="1.12" fill="#dddcee"/>
<circle cx="407.6" cy="119.6" r="1.35" fill="#2f6fb0"/>
<circle cx="312.4" cy="239.8" r="1.12" fill="#d3d6e6"/>
<circle cx="329.9" cy="48.3" r="1.12" fill="#f4b8b8"/>
<circle cx="264.6" cy="70.7" r="1.12" fill="#d6d9e8"/>
<circle cx="312.8" cy="145.3" r="1.12" fill="#d6d9e8"/>
<circle cx="327.7" cy="153.1" r="1.12" fill="#f4b8b8"/>
<circle cx="280.7" cy="174.8" r="1.12" fill="#dddcee"/>
<circle cx="292.7" cy="185.6" r="1.35" fill="#9c5636"/>
<circle cx="274.6" cy="115.3" r="1.12" fill="#d6d9e8"/>
<circle cx="290.7" cy="94.1" r="1.12" fill="#d6d9e8"/>
<circle cx="268.9" cy="96.7" r="1.12" fill="#cdd1e3"/>
<circle cx="250.1" cy="76.0" r="1.12" fill="#d6d9e8"/>
<circle cx="401.3" cy="117.1" r="1.35" fill="#2c3274"/>
<circle cx="389.8" cy="158.8" r="1.12" fill="#f4b8b8"/>
<circle cx="358.5" cy="85.5" r="1.35" fill="#e377c2"/>
<circle cx="391.5" cy="131.5" r="1.35" fill="#3a9040"/>
<circle cx="381.8" cy="177.8" r="1.12" fill="#dddcee"/>
<circle cx="296.3" cy="101.8" r="1.12" fill="#d6d9e8"/>
<circle cx="389.1" cy="98.6" r="1.12" fill="#dddcee"/>
<circle cx="296.0" cy="150.0" r="1.12" fill="#f4b8b8"/>
<circle cx="388.5" cy="89.1" r="1.12" fill="#dddcee"/>
<circle cx="388.4" cy="73.1" r="1.12" fill="#f4b8b8"/>
<circle cx="347.8" cy="131.0" r="1.12" fill="#dddcee"/>
<circle cx="284.3" cy="66.7" r="1.12" fill="#d6d9e8"/>
<circle cx="413.8" cy="161.8" r="1.12" fill="#dddcee"/>
<circle cx="416.3" cy="136.8" r="1.12" fill="#dddcee"/>
<circle cx="294.3" cy="95.5" r="1.12" fill="#cdd1e3"/>
<circle cx="344.8" cy="101.4" r="1.12" fill="#dddcee"/>
<circle cx="269.2" cy="54.7" r="1.12" fill="#d6d9e8"/>
<circle cx="411.2" cy="113.4" r="1.12" fill="#f4b8b8"/>
<circle cx="405.5" cy="134.4" r="1.12" fill="#f0a474"/>
<circle cx="358.2" cy="89.9" r="1.12" fill="#f4b8b8"/>
<circle cx="351.7" cy="129.2" r="1.12" fill="#f4b8b8"/>
<circle cx="326.5" cy="139.3" r="1.12" fill="#dddcee"/>
<circle cx="345.7" cy="136.6" r="1.12" fill="#f4b8b8"/>
<circle cx="393.2" cy="117.9" r="1.12" fill="#f6c4ac"/>
<circle cx="263.4" cy="84.8" r="1.12" fill="#d6d9e8"/>
<circle cx="360.1" cy="93.9" r="1.35" fill="#e0c040"/>
<circle cx="384.0" cy="156.0" r="1.12" fill="#dddcee"/>
<circle cx="329.5" cy="236.0" r="1.12" fill="#d3d6e6"/>
<circle cx="332.4" cy="172.1" r="1.12" fill="#f6c4ac"/>
<circle cx="355.7" cy="117.2" r="1.12" fill="#f6c4ac"/>
<circle cx="270.4" cy="68.5" r="1.12" fill="#cdd1e3"/>
<circle cx="338.9" cy="97.5" r="1.12" fill="#f4b8b8"/>
<circle cx="392.2" cy="107.8" r="1.12" fill="#f0a474"/>
<circle cx="412.4" cy="103.3" r="1.12" fill="#f4b8b8"/>
<circle cx="333.4" cy="101.2" r="1.12" fill="#f4b8b8"/>
<circle cx="350.6" cy="140.2" r="1.12" fill="#efa4a4"/>
<circle cx="277.1" cy="76.8" r="1.12" fill="#d6d9e8"/>
<circle cx="291.5" cy="159.9" r="1.12" fill="#f0a474"/>
<circle cx="253.7" cy="98.6" r="1.12" fill="#d6d9e8"/>
<circle cx="346.1" cy="133.1" r="1.12" fill="#dddcee"/>
<circle cx="394.8" cy="112.8" r="1.12" fill="#dddcee"/>
<circle cx="298.3" cy="184.4" r="1.35" fill="#e88a2e"/>
<circle cx="327.3" cy="58.0" r="1.35" fill="#5a2d82"/>
<circle cx="261.3" cy="70.7" r="1.12" fill="#cdd1e3"/>
<circle cx="385.9" cy="106.6" r="1.12" fill="#f0a474"/>
<circle cx="364.2" cy="142.4" r="1.12" fill="#dddcee"/>
<circle cx="343.0" cy="148.3" r="1.12" fill="#dddcee"/>
<circle cx="403.7" cy="115.7" r="1.35" fill="#2c3274"/>
<circle cx="341.0" cy="170.2" r="1.35" fill="#5a2d82"/>
<circle cx="360.7" cy="146.1" r="1.12" fill="#dddcee"/>
<circle cx="381.2" cy="103.3" r="1.12" fill="#f4b8b8"/>
<circle cx="372.9" cy="178.5" r="1.12" fill="#dddcee"/>
<circle cx="281.6" cy="113.0" r="1.12" fill="#d6d9e8"/>
<circle cx="321.1" cy="47.9" r="1.12" fill="#f4b8b8"/>
<circle cx="399.9" cy="90.3" r="1.12" fill="#dddcee"/>
<circle cx="385.3" cy="71.5" r="1.35" fill="#3aa0a0"/>
<circle cx="409.3" cy="157.7" r="1.12" fill="#dddcee"/>
<circle cx="371.6" cy="150.8" r="1.12" fill="#f6c4ac"/>
<circle cx="358.8" cy="83.3" r="1.12" fill="#efa4a4"/>
<circle cx="342.5" cy="132.1" r="1.12" fill="#efa4a4"/>
<circle cx="389.8" cy="159.9" r="1.35" fill="#e0c040"/>
<circle cx="375.0" cy="128.9" r="1.12" fill="#f6c4ac"/>
<circle cx="290.7" cy="90.2" r="1.12" fill="#d6d9e8"/>
<circle cx="420.6" cy="137.4" r="1.12" fill="#f4b8b8"/>
<circle cx="326.4" cy="107.5" r="1.12" fill="#dddcee"/>
<circle cx="333.9" cy="48.9" r="1.12" fill="#f4b8b8"/>
<circle cx="289.1" cy="100.7" r="1.12" fill="#d6d9e8"/>
<circle cx="353.9" cy="125.5" r="1.12" fill="#f6c4ac"/>
<circle cx="394.9" cy="118.1" r="1.12" fill="#dddcee"/>
<circle cx="295.2" cy="179.4" r="1.12" fill="#f4b8b8"/>
<circle cx="271.3" cy="116.8" r="1.12" fill="#d6d9e8"/>
<circle cx="282.5" cy="64.4" r="1.12" fill="#d6d9e8"/>
<circle cx="425.9" cy="118.6" r="1.12" fill="#f0a474"/>
<circle cx="378.8" cy="118.9" r="1.12" fill="#dddcee"/>
<circle cx="378.8" cy="173.6" r="1.12" fill="#f4b8b8"/>
<circle cx="325.3" cy="239.0" r="1.12" fill="#d3d6e6"/>
<circle cx="367.3" cy="131.4" r="1.12" fill="#f4b8b8"/>
<circle cx="256.6" cy="97.7" r="1.12" fill="#cdd1e3"/>
<circle cx="350.2" cy="178.5" r="1.12" fill="#efa4a4"/>
<circle cx="283.5" cy="160.7" r="1.12" fill="#dddcee"/>
<circle cx="400.1" cy="105.6" r="1.12" fill="#f6c4ac"/>
<circle cx="380.3" cy="79.3" r="1.12" fill="#f6c4ac"/>
<circle cx="285.6" cy="103.3" r="1.12" fill="#d6d9e8"/>
<circle cx="344.0" cy="168.8" r="1.12" fill="#dddcee"/>
<circle cx="321.0" cy="53.4" r="1.12" fill="#dddcee"/>
<circle cx="315.4" cy="145.3" r="1.12" fill="#d6d9e8"/>
<circle cx="383.3" cy="158.9" r="1.12" fill="#dddcee"/>
<circle cx="322.4" cy="231.5" r="1.12" fill="#d3d6e6"/>
<circle cx="374.8" cy="161.7" r="1.12" fill="#f6c4ac"/>
<circle cx="336.7" cy="141.8" r="1.12" fill="#dddcee"/>
<circle cx="402.8" cy="94.4" r="1.35" fill="#2c3274"/>
<circle cx="392.5" cy="140.3" r="1.12" fill="#f0a474"/>
<circle cx="335.0" cy="127.3" r="1.12" fill="#f4b8b8"/>
<circle cx="398.2" cy="133.9" r="1.12" fill="#dddcee"/>
<circle cx="339.5" cy="112.7" r="1.12" fill="#dddcee"/>
<circle cx="323.4" cy="145.6" r="1.12" fill="#cdd1e3"/>
<circle cx="396.2" cy="96.2" r="1.12" fill="#f6c4ac"/>
<circle cx="347.6" cy="139.8" r="1.12" fill="#efa4a4"/>
<circle cx="375.2" cy="66.7" r="1.12" fill="#dddcee"/>
<circle cx="355.6" cy="145.1" r="1.35" fill="#9c5636"/>
<circle cx="412.7" cy="94.3" r="1.12" fill="#f4b8b8"/>
<circle cx="248.4" cy="95.6" r="1.12" fill="#d6d9e8"/>
<circle cx="396.6" cy="111.5" r="1.12" fill="#dddcee"/>
<circle cx="255.2" cy="85.5" r="1.12" fill="#d6d9e8"/>
<circle cx="406.1" cy="87.4" r="1.12" fill="#dddcee"/>
<circle cx="413.6" cy="140.9" r="1.35" fill="#2c3274"/>
<circle cx="323.5" cy="136.0" r="1.12" fill="#dddcee"/>
<circle cx="361.0" cy="177.8" r="1.12" fill="#efa4a4"/>
<circle cx="370.9" cy="142.0" r="1.12" fill="#f0a474"/>
<circle cx="322.5" cy="125.8" r="1.35" fill="#3a9040"/>
<circle cx="392.4" cy="127.8" r="1.35" fill="#5a2d82"/>
<circle cx="290.4" cy="182.8" r="1.12" fill="#dddcee"/>
<circle cx="321.5" cy="134.8" r="1.12" fill="#dddcee"/>
<circle cx="292.4" cy="81.2" r="1.12" fill="#cdd1e3"/>
<circle cx="415.2" cy="97.0" r="1.12" fill="#f4b8b8"/>
<circle cx="399.0" cy="92.4" r="1.12" fill="#dddcee"/>
<circle cx="339.0" cy="101.4" r="1.12" fill="#dddcee"/>
<circle cx="291.7" cy="95.0" r="1.12" fill="#cdd1e3"/>
<circle cx="356.3" cy="132.5" r="1.12" fill="#dddcee"/>
<circle cx="330.5" cy="239.7" r="1.12" fill="#d3d6e6"/>
<circle cx="355.2" cy="144.8" r="1.12" fill="#f4b8b8"/>
<circle cx="253.4" cy="86.8" r="1.12" fill="#d6d9e8"/>
<circle cx="387.8" cy="105.5" r="1.12" fill="#f4b8b8"/>
<circle cx="295.1" cy="169.9" r="1.12" fill="#f4b8b8"/>
<circle cx="366.7" cy="145.7" r="1.12" fill="#dddcee"/>
<circle cx="391.6" cy="105.6" r="1.12" fill="#f4b8b8"/>
<circle cx="404.1" cy="94.1" r="1.12" fill="#dddcee"/>
<circle cx="262.5" cy="66.2" r="1.12" fill="#cdd1e3"/>
<circle cx="244.6" cy="99.4" r="1.12" fill="#d6d9e8"/>
<circle cx="264.2" cy="89.9" r="1.12" fill="#d6d9e8"/>
<circle cx="391.3" cy="165.8" r="1.12" fill="#f0a474"/>
<circle cx="362.0" cy="97.2" r="1.12" fill="#dddcee"/>
<circle cx="282.9" cy="69.6" r="1.12" fill="#cdd1e3"/>
<circle cx="390.3" cy="107.3" r="1.12" fill="#f4b8b8"/>
<circle cx="315.0" cy="248.1" r="1.12" fill="#d3d6e6"/>
<circle cx="387.2" cy="80.0" r="1.12" fill="#f4b8b8"/>
<circle cx="343.2" cy="137.1" r="1.12" fill="#f6c4ac"/>
<circle cx="400.2" cy="149.1" r="1.35" fill="#9c5636"/>
<circle cx="351.6" cy="148.7" r="1.12" fill="#dddcee"/>
<circle cx="409.0" cy="109.3" r="1.12" fill="#f4b8b8"/>
<circle cx="369.6" cy="71.0" r="1.12" fill="#f4b8b8"/>
<circle cx="287.7" cy="87.1" r="1.12" fill="#cdd1e3"/>
<circle cx="282.3" cy="174.7" r="1.35" fill="#e0c040"/>
<circle cx="324.3" cy="63.0" r="1.12" fill="#dddcee"/>
<circle cx="273.4" cy="103.9" r="1.12" fill="#cdd1e3"/>
<circle cx="401.7" cy="83.3" r="1.12" fill="#efa4a4"/>
<circle cx="258.3" cy="62.7" r="1.12" fill="#d6d9e8"/>
<circle cx="362.8" cy="116.2" r="1.12" fill="#dddcee"/>
<circle cx="352.9" cy="114.3" r="1.12" fill="#f4b8b8"/>
<circle cx="326.6" cy="232.7" r="1.12" fill="#d3d6e6"/>
<circle cx="291.3" cy="68.9" r="1.12" fill="#d6d9e8"/>
<circle cx="361.5" cy="110.0" r="1.12" fill="#dddcee"/>
<circle cx="390.8" cy="131.9" r="1.12" fill="#f4b8b8"/>
<circle cx="390.7" cy="142.3" r="1.12" fill="#f4b8b8"/>
<circle cx="344.9" cy="130.6" r="1.12" fill="#f0a474"/>
<circle cx="251.3" cy="75.8" r="1.12" fill="#d6d9e8"/>
<circle cx="268.5" cy="60.2" r="1.12" fill="#d6d9e8"/>
<circle cx="276.9" cy="84.8" r="1.12" fill="#d6d9e8"/>
<circle cx="286.5" cy="79.3" r="1.12" fill="#d6d9e8"/>
<circle cx="310.8" cy="147.1" r="1.12" fill="#d6d9e8"/>
<circle cx="336.7" cy="139.3" r="1.12" fill="#f4b8b8"/>
<circle cx="254.6" cy="104.0" r="1.12" fill="#d6d9e8"/>
<circle cx="367.4" cy="106.4" r="1.12" fill="#f6c4ac"/>
<circle cx="368.3" cy="162.9" r="1.35" fill="#e88a2e"/>
<circle cx="375.7" cy="115.3" r="1.12" fill="#f4b8b8"/>
<circle cx="345.1" cy="95.6" r="1.12" fill="#f6c4ac"/>
<circle cx="322.9" cy="47.9" r="1.12" fill="#dddcee"/>
<circle cx="259.8" cy="71.5" r="1.12" fill="#d6d9e8"/>
<circle cx="382.4" cy="114.3" r="1.12" fill="#f6c4ac"/>
<circle cx="424.2" cy="126.9" r="1.12" fill="#dddcee"/>
<circle cx="360.4" cy="92.4" r="1.12" fill="#efa4a4"/>
<circle cx="292.6" cy="95.3" r="1.12" fill="#d6d9e8"/>
<circle cx="359.2" cy="116.2" r="1.12" fill="#dddcee"/>
<circle cx="380.0" cy="117.6" r="1.12" fill="#f4b8b8"/>
<circle cx="383.2" cy="132.9" r="1.12" fill="#dddcee"/>
<circle cx="407.6" cy="127.4" r="1.12" fill="#f6c4ac"/>
<circle cx="391.0" cy="147.1" r="1.12" fill="#f6c4ac"/>
<circle cx="345.4" cy="142.3" r="1.12" fill="#efa4a4"/>
<circle cx="270.6" cy="55.7" r="1.12" fill="#d6d9e8"/>
<circle cx="365.5" cy="132.3" r="1.12" fill="#f6c4ac"/>
<circle cx="274.6" cy="92.5" r="1.12" fill="#d6d9e8"/>
<circle cx="317.7" cy="148.8" r="1.12" fill="#d6d9e8"/>
<circle cx="335.6" cy="162.5" r="1.12" fill="#f4b8b8"/>
<circle cx="380.6" cy="113.6" r="1.12" fill="#dddcee"/>
<circle cx="330.1" cy="43.2" r="1.35" fill="#3a9040"/>
<circle cx="407.6" cy="105.6" r="1.12" fill="#dddcee"/>
<circle cx="283.1" cy="69.9" r="1.12" fill="#d6d9e8"/>
<circle cx="406.1" cy="92.3" r="1.35" fill="#9c5636"/>
<circle cx="397.4" cy="112.3" r="1.12" fill="#f0a474"/>
<circle cx="280.9" cy="102.4" r="1.12" fill="#d6d9e8"/>
<circle cx="388.7" cy="86.8" r="1.12" fill="#dddcee"/>
<circle cx="410.5" cy="151.6" r="1.35" fill="#5a2d82"/>
<circle cx="250.2" cy="93.4" r="1.12" fill="#d6d9e8"/>
<circle cx="265.5" cy="103.7" r="1.12" fill="#d6d9e8"/>
<circle cx="319.0" cy="241.3" r="1.12" fill="#d3d6e6"/>
<circle cx="314.8" cy="238.1" r="1.12" fill="#d3d6e6"/>
<circle cx="328.5" cy="102.7" r="1.12" fill="#f4b8b8"/>
<circle cx="380.7" cy="165.2" r="1.12" fill="#dddcee"/>
<circle cx="383.9" cy="90.7" r="1.12" fill="#f6c4ac"/>
<circle cx="392.4" cy="153.5" r="1.12" fill="#efa4a4"/>
<circle cx="286.5" cy="103.1" r="1.12" fill="#d6d9e8"/>
<circle cx="288.1" cy="178.7" r="1.35" fill="#5a2d82"/>
<circle cx="318.4" cy="49.0" r="1.12" fill="#dddcee"/>
<circle cx="324.3" cy="231.4" r="1.12" fill="#d3d6e6"/>
<circle cx="376.0" cy="133.4" r="1.35" fill="#5a2d82"/>
<circle cx="378.7" cy="107.4" r="1.12" fill="#f4b8b8"/>
<circle cx="327.9" cy="49.2" r="1.12" fill="#f4b8b8"/>
<circle cx="354.0" cy="157.3" r="1.12" fill="#f6c4ac"/>
<circle cx="417.4" cy="93.0" r="1.12" fill="#dddcee"/>
<circle cx="372.4" cy="95.0" r="1.12" fill="#f6c4ac"/>
<circle cx="317.9" cy="143.2" r="1.12" fill="#d6d9e8"/>
<circle cx="281.1" cy="170.4" r="1.12" fill="#f4b8b8"/>
<circle cx="376.4" cy="139.4" r="1.12" fill="#f6c4ac"/>
<circle cx="356.4" cy="178.1" r="1.12" fill="#dddcee"/>
<circle cx="322.3" cy="54.8" r="1.12" fill="#f4b8b8"/>
<circle cx="389.8" cy="160.1" r="1.12" fill="#dddcee"/>
<circle cx="363.8" cy="80.1" r="1.12" fill="#f4b8b8"/>
<circle cx="421.2" cy="137.8" r="1.12" fill="#dddcee"/>
<circle cx="353.2" cy="170.3" r="1.12" fill="#dddcee"/>
<circle cx="290.3" cy="83.1" r="1.12" fill="#d6d9e8"/>
<circle cx="380.2" cy="114.3" r="1.12" fill="#efa4a4"/>
<circle cx="259.7" cy="99.6" r="1.12" fill="#d6d9e8"/>
<circle cx="263.6" cy="61.2" r="1.12" fill="#d6d9e8"/>
<circle cx="397.8" cy="152.9" r="1.12" fill="#f4b8b8"/>
<circle cx="401.0" cy="155.4" r="1.35" fill="#2c3274"/>
<circle cx="410.9" cy="165.2" r="1.12" fill="#f4b8b8"/>
<circle cx="409.8" cy="90.2" r="1.12" fill="#f4b8b8"/>
<circle cx="424.0" cy="111.4" r="1.12" fill="#dddcee"/>
<circle cx="264.1" cy="64.2" r="1.12" fill="#d6d9e8"/>
<circle cx="279.2" cy="118.6" r="1.12" fill="#d6d9e8"/>
<circle cx="314.8" cy="246.7" r="1.12" fill="#d3d6e6"/>
<circle cx="380.0" cy="77.1" r="1.12" fill="#dddcee"/>
<circle cx="330.0" cy="124.2" r="1.35" fill="#2c3274"/>
<circle cx="332.8" cy="53.2" r="1.12" fill="#dddcee"/>
<circle cx="360.2" cy="136.0" r="1.12" fill="#f4b8b8"/>
<circle cx="291.9" cy="175.9" r="1.12" fill="#f4b8b8"/>
<circle cx="404.5" cy="149.4" r="1.35" fill="#9c5636"/>
<circle cx="323.7" cy="149.0" r="1.35" fill="#5a2d82"/>
<circle cx="387.2" cy="165.5" r="1.35" fill="#e377c2"/>
<circle cx="418.4" cy="104.2" r="1.35" fill="#e377c2"/>
<circle cx="332.7" cy="43.9" r="1.12" fill="#dddcee"/>
<circle cx="347.5" cy="96.6" r="1.35" fill="#3aa0a0"/>
<circle cx="367.0" cy="162.3" r="1.12" fill="#efa4a4"/>
<circle cx="283.3" cy="118.4" r="1.12" fill="#d6d9e8"/>
<circle cx="360.3" cy="127.0" r="1.12" fill="#dddcee"/>
<circle cx="387.7" cy="87.1" r="1.12" fill="#dddcee"/>
<circle cx="295.1" cy="78.9" r="1.12" fill="#d6d9e8"/>
<circle cx="334.7" cy="104.8" r="1.35" fill="#e377c2"/>
<circle cx="359.4" cy="105.5" r="1.35" fill="#5a2d82"/>
<circle cx="404.9" cy="95.0" r="1.35" fill="#2f6fb0"/>
<circle cx="368.0" cy="131.8" r="1.12" fill="#f4b8b8"/>
<circle cx="386.8" cy="73.6" r="1.12" fill="#f6c4ac"/>
<circle cx="326.0" cy="240.7" r="1.12" fill="#d3d6e6"/>
<circle cx="402.0" cy="121.1" r="1.12" fill="#efa4a4"/>
<circle cx="387.5" cy="118.5" r="1.35" fill="#9c5636"/>
<circle cx="262.3" cy="60.0" r="1.12" fill="#cdd1e3"/>
<circle cx="283.3" cy="68.2" r="1.12" fill="#d6d9e8"/>
<circle cx="368.5" cy="131.2" r="1.35" fill="#5a2d82"/>
<circle cx="265.5" cy="105.4" r="1.12" fill="#d6d9e8"/>
<circle cx="376.0" cy="67.5" r="1.12" fill="#efa4a4"/>
<circle cx="370.3" cy="174.1" r="1.12" fill="#f0a474"/>
<circle cx="254.9" cy="96.8" r="1.12" fill="#d6d9e8"/>
<circle cx="272.9" cy="74.8" r="1.12" fill="#cdd1e3"/>
<circle cx="401.8" cy="96.4" r="1.35" fill="#e0c040"/>
<circle cx="280.4" cy="118.8" r="1.12" fill="#d6d9e8"/>
<circle cx="274.5" cy="95.8" r="1.12" fill="#d6d9e8"/>
<circle cx="354.3" cy="102.6" r="1.12" fill="#f6c4ac"/>
<circle cx="420.2" cy="131.4" r="1.35" fill="#3a9040"/>
<circle cx="284.7" cy="160.5" r="1.35" fill="#5a2d82"/>
<circle cx="341.7" cy="167.8" r="1.12" fill="#dddcee"/>
<circle cx="329.9" cy="237.0" r="1.12" fill="#d3d6e6"/>
<circle cx="326.7" cy="50.3" r="1.12" fill="#dddcee"/>
<circle cx="352.3" cy="107.7" r="1.12" fill="#f4b8b8"/>
<circle cx="388.7" cy="121.8" r="1.12" fill="#f0a474"/>
<circle cx="373.8" cy="170.2" r="1.12" fill="#dddcee"/>
<circle cx="375.3" cy="131.2" r="1.12" fill="#dddcee"/>
<circle cx="408.5" cy="144.8" r="1.12" fill="#f4b8b8"/>
<circle cx="281.0" cy="57.0" r="1.35" fill="#d05040"/>
<circle cx="398.0" cy="100.0" r="1.12" fill="#f6c4ac"/>
<circle cx="359.2" cy="112.3" r="1.12" fill="#f6c4ac"/>
<circle cx="319.0" cy="235.6" r="1.12" fill="#d3d6e6"/>
<circle cx="385.5" cy="76.3" r="1.12" fill="#f4b8b8"/>
<circle cx="288.8" cy="99.7" r="1.12" fill="#cdd1e3"/>
<circle cx="256.7" cy="99.4" r="1.12" fill="#cdd1e3"/>
<circle cx="422.3" cy="120.7" r="1.12" fill="#f4b8b8"/>
<circle cx="319.9" cy="54.7" r="1.35" fill="#e88a2e"/>
<circle cx="396.6" cy="119.4" r="1.12" fill="#dddcee"/>
<circle cx="257.2" cy="98.0" r="1.12" fill="#d6d9e8"/>
<circle cx="253.8" cy="70.6" r="1.12" fill="#d6d9e8"/>
<circle cx="410.8" cy="100.4" r="1.12" fill="#efa4a4"/>
<circle cx="254.7" cy="80.9" r="1.12" fill="#d6d9e8"/>
<circle cx="246.9" cy="102.1" r="1.12" fill="#cdd1e3"/>
<circle cx="379.3" cy="150.3" r="1.12" fill="#f6c4ac"/>
<circle cx="367.6" cy="119.6" r="1.12" fill="#f4b8b8"/>
<circle cx="401.6" cy="116.5" r="1.12" fill="#dddcee"/>
<circle cx="391.2" cy="87.0" r="1.35" fill="#e377c2"/>
<circle cx="355.8" cy="93.9" r="1.12" fill="#f0a474"/>
<circle cx="397.4" cy="92.6" r="1.12" fill="#f4b8b8"/>
<circle cx="269.5" cy="106.9" r="1.12" fill="#cdd1e3"/>
<circle cx="282.0" cy="87.3" r="1.12" fill="#d6d9e8"/>
<circle cx="320.1" cy="233.0" r="1.12" fill="#d3d6e6"/>
<circle cx="358.9" cy="126.7" r="1.12" fill="#dddcee"/>
<circle cx="362.1" cy="175.4" r="1.12" fill="#dddcee"/>
<circle cx="334.3" cy="50.0" r="1.12" fill="#f0a474"/>
<circle cx="288.4" cy="100.4" r="1.12" fill="#d6d9e8"/>
<circle cx="296.9" cy="173.8" r="1.35" fill="#e88a2e"/>
<circle cx="352.2" cy="141.1" r="1.12" fill="#f0a474"/>
<circle cx="329.3" cy="49.6" r="1.12" fill="#efa4a4"/>
<circle cx="332.4" cy="164.4" r="1.12" fill="#dddcee"/>
<circle cx="373.6" cy="70.2" r="1.12" fill="#dddcee"/>
<circle cx="319.4" cy="249.2" r="1.12" fill="#d3d6e6"/>
<circle cx="284.2" cy="114.4" r="1.12" fill="#d6d9e8"/>
<circle cx="365.9" cy="78.2" r="1.12" fill="#f4b8b8"/>
<circle cx="366.4" cy="80.9" r="1.12" fill="#dddcee"/>
<circle cx="419.8" cy="133.7" r="1.35" fill="#3a9040"/>
<circle cx="259.0" cy="83.9" r="1.12" fill="#cdd1e3"/>
<circle cx="375.7" cy="117.7" r="1.35" fill="#9c5636"/>
<circle cx="247.9" cy="77.4" r="1.12" fill="#d6d9e8"/>
<circle cx="374.5" cy="113.3" r="1.12" fill="#f4b8b8"/>
<circle cx="408.6" cy="109.4" r="1.35" fill="#9c5636"/>
<circle cx="360.5" cy="162.5" r="1.35" fill="#e88a2e"/>
<circle cx="390.8" cy="135.8" r="1.12" fill="#f4b8b8"/>
<circle cx="280.7" cy="173.6" r="1.12" fill="#f6c4ac"/>
<circle cx="330.2" cy="102.4" r="1.12" fill="#efa4a4"/>
<circle cx="405.7" cy="94.2" r="1.12" fill="#f4b8b8"/>
<circle cx="308.7" cy="150.0" r="1.12" fill="#cdd1e3"/>
<circle cx="296.8" cy="92.3" r="1.12" fill="#d6d9e8"/>
<circle cx="279.9" cy="96.0" r="1.12" fill="#d6d9e8"/>
<circle cx="418.0" cy="152.4" r="1.12" fill="#dddcee"/>
<circle cx="359.3" cy="111.0" r="1.12" fill="#dddcee"/>
<circle cx="363.0" cy="171.4" r="1.12" fill="#efa4a4"/>
<circle cx="293.0" cy="110.0" r="1.35" fill="#30a0a0"/>
<circle cx="387.2" cy="120.7" r="1.12" fill="#f4b8b8"/>
<circle cx="243.4" cy="90.1" r="1.12" fill="#d6d9e8"/>
<circle cx="380.3" cy="121.2" r="1.35" fill="#e0c040"/>
<circle cx="289.0" cy="97.4" r="1.12" fill="#cdd1e3"/>
<circle cx="341.5" cy="157.0" r="1.12" fill="#f6c4ac"/>
<circle cx="394.8" cy="97.6" r="1.12" fill="#f4b8b8"/>
<circle cx="368.0" cy="94.7" r="1.12" fill="#dddcee"/>
<circle cx="332.0" cy="49.6" r="1.12" fill="#f6c4ac"/>
<circle cx="423.8" cy="128.0" r="1.35" fill="#9c5636"/>
<circle cx="260.5" cy="74.4" r="1.12" fill="#d6d9e8"/>
<circle cx="283.9" cy="109.2" r="1.12" fill="#d6d9e8"/>
<circle cx="402.3" cy="134.4" r="1.12" fill="#f6c4ac"/>
<circle cx="364.2" cy="80.2" r="1.12" fill="#f0a474"/>
<circle cx="383.9" cy="158.7" r="1.35" fill="#3a9040"/>
<circle cx="320.6" cy="53.5" r="1.12" fill="#f4b8b8"/>
<circle cx="370.1" cy="171.8" r="1.12" fill="#f6c4ac"/>
<circle cx="355.1" cy="111.8" r="1.12" fill="#f6c4ac"/>
<circle cx="399.9" cy="169.4" r="1.12" fill="#f0a474"/>
<circle cx="272.7" cy="57.2" r="1.12" fill="#d6d9e8"/>
<circle cx="346.0" cy="160.5" r="1.12" fill="#f4b8b8"/>
<circle cx="395.8" cy="169.0" r="1.12" fill="#dddcee"/>
<circle cx="264.0" cy="111.4" r="1.12" fill="#d6d9e8"/>
<circle cx="291.5" cy="164.5" r="1.35" fill="#5a2d82"/>
<circle cx="314.7" cy="236.4" r="1.12" fill="#e6e2b0"/>
</g>
<text x="8.3" y="405.6" font-family="'Liberation Sans', sans-serif" font-size="14" font-weight="bold" fill="#000" stroke="#000" stroke-width="0.6">B</text>
<text x="111.5" y="421" font-family="'Liberation Sans', sans-serif" font-size="9.8" letter-spacing="0.3" font-weight="bold" fill="#111" stroke="#111" stroke-width="0.25" text-anchor="middle" xml:space="preserve">Baseline</text>
<text x="111.5" y="433" font-family="'Liberation Sans', sans-serif" font-size="9.8" letter-spacing="0.3" font-weight="bold" fill="#111" stroke="#111" stroke-width="0.25" text-anchor="middle" xml:space="preserve">(Pre-Venetoclax)</text>
<text x="234.5" y="421" font-family="'Liberation Sans', sans-serif" font-size="9.8" letter-spacing="0.3" font-weight="bold" fill="#111" stroke="#111" stroke-width="0.25" text-anchor="middle" xml:space="preserve">44 months</text>
<text x="234.5" y="433" font-family="'Liberation Sans', sans-serif" font-size="9.8" letter-spacing="0.3" font-weight="bold" fill="#111" stroke="#111" stroke-width="0.25" text-anchor="middle" xml:space="preserve">on Venetoclax</text>
<text x="355" y="421" font-family="'Liberation Sans', sans-serif" font-size="9.8" letter-spacing="0.3" font-weight="bold" fill="#111" stroke="#111" stroke-width="0.25" text-anchor="middle" xml:space="preserve">Completion of</text>
<text x="355" y="433" font-family="'Liberation Sans', sans-serif" font-size="9.8" letter-spacing="0.3" font-weight="bold" fill="#111" stroke="#111" stroke-width="0.25" text-anchor="middle" xml:space="preserve">therapy  (51 months)</text>
<text x="476.5" y="421" font-family="'Liberation Sans', sans-serif" font-size="9.8" letter-spacing="0.3" font-weight="bold" fill="#111" stroke="#111" stroke-width="0.25" text-anchor="middle" xml:space="preserve">46 months</text>
<text x="476.5" y="433" font-family="'Liberation Sans', sans-serif" font-size="9.8" letter-spacing="0.3" font-weight="bold" fill="#111" stroke="#111" stroke-width="0.25" text-anchor="middle" xml:space="preserve">post-cessation</text>
<rect x="21" y="439.5" width="473.5" height="218.7" fill="#d9d9d9"/>
<path d="M37.7,549.20 L43.5,548.89 L48.9,548.00 L53.8,546.62 L58.4,544.83 L62.8,542.71 L66.9,540.34 L70.9,537.81 L74.8,535.20 L78.7,532.59 L82.7,530.06 L86.8,527.69 L91.0,525.58 L95.5,523.78 L100.3,522.40 L105.4,521.51 L111.0,521.20 L113.0,520.94 L115.0,520.69 L117.0,520.45 L119.0,520.20 L121.0,519.93 L123.0,519.64 L125.0,519.30 L127.0,518.91 L129.0,518.46 L131.0,517.96 L133.0,517.42 L135.0,516.84 L137.0,516.24 L139.0,515.62 L141.0,514.98 L143.0,514.29 L145.0,513.57 L147.0,512.80 L149.0,511.99 L151.0,511.16 L153.0,510.29 L155.0,509.40 L157.0,508.46 L159.0,507.46 L161.0,506.41 L163.0,505.32 L165.0,504.20 L167.0,503.06 L169.0,501.92 L171.0,500.79 L173.0,499.68 L175.0,498.60 L177.0,497.52 L179.0,496.43 L181.0,495.31 L183.0,494.19 L185.0,493.07 L187.0,491.96 L189.0,490.87 L191.0,489.81 L193.0,488.78 L195.0,487.80 L197.0,486.87 L199.0,486.01 L201.0,485.20 L203.0,484.42 L205.0,483.65 L207.0,482.91 L209.0,482.20 L211.0,481.55 L213.0,480.96 L215.0,480.44 L217.0,480.00 L219.0,479.60 L221.0,479.20 L223.0,478.82 L225.0,478.46 L227.0,478.15 L229.0,477.90 L231.0,477.71 L233.0,477.61 L235.0,477.60 L237.0,477.60 L239.0,477.61 L241.0,477.62 L243.0,477.63 L245.0,477.65 L247.0,477.66 L249.0,477.68 L251.0,477.71 L253.0,477.73 L255.0,477.76 L257.0,477.79 L259.0,477.82 L261.0,477.85 L263.0,477.88 L265.0,477.92 L267.0,477.95 L269.0,477.99 L271.0,478.03 L273.0,478.07 L275.0,478.11 L277.0,478.15 L279.0,478.19 L281.0,478.23 L283.0,478.27 L285.0,478.31 L287.0,478.35 L289.0,478.39 L291.0,478.43 L293.0,478.47 L295.0,478.51 L297.0,478.55 L299.0,478.58 L301.0,478.62 L303.0,478.66 L305.0,478.70 L307.0,478.74 L309.0,478.78 L311.0,478.82 L313.0,478.87 L315.0,478.92 L317.0,478.96 L319.0,479.01 L321.0,479.06 L323.0,479.11 L325.0,479.16 L327.0,479.21 L329.0,479.26 L331.0,479.31 L333.0,479.35 L335.0,479.40 L337.0,479.45 L339.0,479.49 L341.0,479.53 L343.0,479.58 L345.0,479.62 L347.0,479.66 L349.0,479.69 L351.0,479.73 L353.0,479.76 L355.0,479.79 L357.0,479.81 L359.0,479.84 L361.0,479.87 L363.0,479.89 L365.0,479.92 L367.0,479.95 L369.0,479.97 L371.0,480.00 L373.0,480.03 L375.0,480.05 L377.0,480.08 L379.0,480.10 L381.0,480.13 L383.0,480.15 L385.0,480.17 L387.0,480.19 L389.0,480.22 L391.0,480.24 L393.0,480.26 L395.0,480.28 L397.0,480.29 L399.0,480.31 L401.0,480.32 L403.0,480.34 L405.0,480.35 L407.0,480.36 L409.0,480.37 L411.0,480.38 L413.0,480.39 L415.0,480.39 L417.0,480.40 L419.0,480.40 L421.0,480.40 L423.0,480.40 L425.0,480.40 L427.0,480.39 L429.0,480.39 L431.0,480.39 L433.0,480.38 L435.0,480.38 L437.0,480.37 L439.0,480.36 L441.0,480.36 L443.0,480.35 L445.0,480.34 L447.0,480.33 L449.0,480.32 L451.0,480.31 L453.0,480.30 L455.0,480.30 L457.0,480.29 L459.0,480.28 L461.0,480.27 L463.0,480.26 L465.0,480.25 L467.0,480.24 L469.0,480.23 L471.0,480.22 L473.0,480.21 L475.0,480.21 L477.0,480.20 L477.0,618.70 L475.0,618.70 L473.0,618.71 L471.0,618.71 L469.0,618.72 L467.0,618.72 L465.0,618.73 L463.0,618.73 L461.0,618.74 L459.0,618.74 L457.0,618.74 L455.0,618.75 L453.0,618.75 L451.0,618.76 L449.0,618.76 L447.0,618.76 L445.0,618.77 L443.0,618.77 L441.0,618.78 L439.0,618.78 L437.0,618.78 L435.0,618.79 L433.0,618.79 L431.0,618.80 L429.0,618.80 L427.0,618.80 L425.0,618.81 L423.0,618.81 L421.0,618.82 L419.0,618.82 L417.0,618.82 L415.0,618.83 L413.0,618.83 L411.0,618.84 L409.0,618.84 L407.0,618.84 L405.0,618.85 L403.0,618.85 L401.0,618.86 L399.0,618.86 L397.0,618.87 L395.0,618.87 L393.0,618.88 L391.0,618.88 L389.0,618.89 L387.0,618.89 L385.0,618.90 L383.0,618.91 L381.0,618.91 L379.0,618.92 L377.0,618.92 L375.0,618.93 L373.0,618.94 L371.0,618.94 L369.0,618.95 L367.0,618.96 L365.0,618.96 L363.0,618.97 L361.0,618.98 L359.0,618.99 L357.0,619.00 L355.0,619.00 L353.0,619.01 L351.0,619.02 L349.0,619.03 L347.0,619.05 L345.0,619.06 L343.0,619.07 L341.0,619.09 L339.0,619.10 L337.0,619.12 L335.0,619.13 L333.0,619.15 L331.0,619.17 L329.0,619.18 L327.0,619.20 L325.0,619.22 L323.0,619.24 L321.0,619.26 L319.0,619.28 L317.0,619.30 L315.0,619.33 L313.0,619.35 L311.0,619.37 L309.0,619.39 L307.0,619.42 L305.0,619.44 L303.0,619.46 L301.0,619.49 L299.0,619.51 L297.0,619.54 L295.0,619.57 L293.0,619.61 L291.0,619.65 L289.0,619.69 L287.0,619.73 L285.0,619.78 L283.0,619.83 L281.0,619.88 L279.0,619.93 L277.0,619.98 L275.0,620.04 L273.0,620.09 L271.0,620.14 L269.0,620.20 L267.0,620.25 L265.0,620.30 L263.0,620.35 L261.0,620.40 L259.0,620.45 L257.0,620.50 L255.0,620.54 L253.0,620.59 L251.0,620.63 L249.0,620.66 L247.0,620.69 L245.0,620.72 L243.0,620.75 L241.0,620.77 L239.0,620.78 L237.0,620.79 L235.0,620.80 L233.0,620.78 L231.0,620.64 L229.0,620.39 L227.0,620.03 L225.0,619.61 L223.0,619.13 L221.0,618.62 L219.0,618.10 L217.0,617.60 L215.0,617.08 L213.0,616.50 L211.0,615.86 L209.0,615.17 L207.0,614.45 L205.0,613.69 L203.0,612.91 L201.0,612.11 L199.0,611.29 L197.0,610.41 L195.0,609.49 L193.0,608.51 L191.0,607.50 L189.0,606.46 L187.0,605.39 L185.0,604.31 L183.0,603.21 L181.0,602.11 L179.0,601.01 L177.0,599.93 L175.0,598.86 L173.0,597.81 L171.0,596.79 L169.0,595.81 L167.0,594.81 L165.0,593.79 L163.0,592.77 L161.0,591.74 L159.0,590.71 L157.0,589.70 L155.0,588.69 L153.0,587.71 L151.0,586.76 L149.0,585.84 L147.0,584.97 L145.0,584.13 L143.0,583.36 L141.0,582.64 L139.0,581.98 L137.0,581.37 L135.0,580.81 L133.0,580.29 L131.0,579.82 L129.0,579.39 L127.0,578.99 L125.0,578.62 L123.0,578.27 L121.0,577.93 L119.0,577.61 L117.0,577.29 L115.0,576.97 L113.0,576.64 L111.0,576.30 L105.4,576.00 L100.3,575.14 L95.5,573.80 L91.0,572.07 L86.8,570.01 L82.7,567.73 L78.7,565.28 L74.8,562.75 L70.9,560.22 L66.9,557.77 L62.8,555.49 L58.4,553.43 L53.8,551.70 L48.9,550.36 L43.5,549.50 L37.7,549.20Z" fill="#1673b9" stroke="#f4f8fc" stroke-opacity="0.75" stroke-width="1.7" paint-order="stroke" stroke-linejoin="round"/>
<path d="M94.3,549.00 L95.8,546.14 L97.5,542.34 L99.4,538.00 L101.4,533.52 L103.6,529.32 L106.0,525.80 L108.4,523.35 L111.0,522.40 L113.0,522.18 L115.0,521.98 L117.0,521.78 L119.0,521.57 L121.0,521.34 L123.0,521.09 L125.0,520.80 L127.0,520.45 L129.0,520.05 L131.0,519.59 L133.0,519.08 L135.0,518.53 L137.0,517.94 L139.0,517.32 L141.0,516.66 L143.0,515.90 L145.0,515.05 L147.0,514.15 L149.0,513.25 L151.0,512.36 L153.0,511.46 L155.0,510.54 L157.0,509.61 L159.0,508.67 L161.0,507.72 L163.0,506.76 L165.0,505.79 L167.0,504.83 L169.0,503.87 L171.0,502.90 L173.0,501.95 L175.0,501.00 L177.0,500.04 L179.0,499.05 L181.0,498.04 L183.0,497.02 L185.0,495.99 L187.0,494.98 L189.0,493.98 L191.0,493.01 L193.0,492.07 L195.0,491.18 L197.0,490.34 L199.0,489.56 L201.0,488.85 L203.0,488.16 L205.0,487.49 L207.0,486.85 L209.0,486.24 L211.0,485.68 L213.0,485.16 L215.0,484.70 L217.0,484.30 L219.0,483.93 L221.0,483.55 L223.0,483.18 L225.0,482.84 L227.0,482.54 L229.0,482.29 L231.0,482.11 L233.0,482.01 L235.0,482.00 L237.0,482.00 L239.0,482.00 L241.0,482.00 L243.0,482.01 L245.0,482.01 L247.0,482.01 L249.0,482.02 L251.0,482.02 L253.0,482.03 L255.0,482.03 L257.0,482.04 L259.0,482.05 L261.0,482.06 L263.0,482.06 L265.0,482.07 L267.0,482.08 L269.0,482.09 L271.0,482.10 L273.0,482.11 L275.0,482.12 L277.0,482.14 L279.0,482.15 L281.0,482.16 L283.0,482.17 L285.0,482.19 L287.0,482.20 L289.0,482.22 L291.0,482.23 L293.0,482.24 L295.0,482.26 L297.0,482.28 L299.0,482.29 L301.0,482.31 L303.0,482.33 L305.0,482.36 L307.0,482.40 L309.0,482.45 L311.0,482.50 L313.0,482.56 L315.0,482.62 L317.0,482.68 L319.0,482.75 L321.0,482.83 L323.0,482.90 L325.0,482.98 L327.0,483.06 L329.0,483.15 L331.0,483.23 L333.0,483.32 L335.0,483.40 L337.0,483.49 L339.0,483.57 L341.0,483.66 L343.0,483.74 L345.0,483.82 L347.0,483.90 L349.0,483.97 L351.0,484.04 L353.0,484.11 L355.0,484.17 L357.0,484.23 L359.0,484.29 L361.0,484.35 L363.0,484.41 L365.0,484.47 L367.0,484.53 L369.0,484.59 L371.0,484.65 L373.0,484.72 L375.0,484.78 L377.0,484.84 L379.0,484.90 L381.0,484.96 L383.0,485.02 L385.0,485.08 L387.0,485.13 L389.0,485.19 L391.0,485.25 L393.0,485.30 L395.0,485.35 L397.0,485.40 L399.0,485.45 L401.0,485.49 L403.0,485.54 L405.0,485.58 L407.0,485.62 L409.0,485.65 L411.0,485.69 L413.0,485.72 L415.0,485.75 L417.0,485.77 L419.0,485.79 L421.0,485.81 L423.0,485.82 L425.0,485.84 L427.0,485.85 L429.0,485.87 L431.0,485.88 L433.0,485.89 L435.0,485.91 L437.0,485.92 L439.0,485.93 L441.0,485.94 L443.0,485.95 L445.0,485.96 L447.0,485.97 L449.0,485.98 L451.0,485.98 L453.0,485.99 L455.0,486.00 L457.0,486.01 L459.0,486.02 L461.0,486.03 L463.0,486.03 L465.0,486.04 L467.0,486.05 L469.0,486.06 L471.0,486.07 L473.0,486.08 L475.0,486.09 L477.0,486.10 L477.0,613.60 L475.0,613.60 L473.0,613.60 L471.0,613.60 L469.0,613.60 L467.0,613.60 L465.0,613.60 L463.0,613.60 L461.0,613.60 L459.0,613.60 L457.0,613.60 L455.0,613.60 L453.0,613.60 L451.0,613.60 L449.0,613.60 L447.0,613.60 L445.0,613.60 L443.0,613.60 L441.0,613.60 L439.0,613.60 L437.0,613.60 L435.0,613.60 L433.0,613.60 L431.0,613.60 L429.0,613.60 L427.0,613.60 L425.0,613.60 L423.0,613.60 L421.0,613.60 L419.0,613.60 L417.0,613.60 L415.0,613.60 L413.0,613.60 L411.0,613.60 L409.0,613.60 L407.0,613.60 L405.0,613.60 L403.0,613.60 L401.0,613.60 L399.0,613.60 L397.0,613.60 L395.0,613.60 L393.0,613.60 L391.0,613.60 L389.0,613.60 L387.0,613.60 L385.0,613.60 L383.0,613.60 L381.0,613.60 L379.0,613.60 L377.0,613.60 L375.0,613.60 L373.0,613.60 L371.0,613.60 L369.0,613.60 L367.0,613.60 L365.0,613.60 L363.0,613.60 L361.0,613.60 L359.0,613.60 L357.0,613.60 L355.0,613.60 L353.0,613.60 L351.0,613.61 L349.0,613.63 L347.0,613.64 L345.0,613.66 L343.0,613.68 L341.0,613.71 L339.0,613.74 L337.0,613.77 L335.0,613.80 L333.0,613.83 L331.0,613.87 L329.0,613.91 L327.0,613.95 L325.0,613.99 L323.0,614.03 L321.0,614.07 L319.0,614.11 L317.0,614.16 L315.0,614.20 L313.0,614.24 L311.0,614.28 L309.0,614.33 L307.0,614.37 L305.0,614.41 L303.0,614.45 L301.0,614.48 L299.0,614.52 L297.0,614.56 L295.0,614.60 L293.0,614.64 L291.0,614.68 L289.0,614.73 L287.0,614.78 L285.0,614.83 L283.0,614.88 L281.0,614.93 L279.0,614.98 L277.0,615.04 L275.0,615.09 L273.0,615.14 L271.0,615.19 L269.0,615.24 L267.0,615.30 L265.0,615.35 L263.0,615.39 L261.0,615.44 L259.0,615.49 L257.0,615.53 L255.0,615.57 L253.0,615.61 L251.0,615.64 L249.0,615.68 L247.0,615.70 L245.0,615.73 L243.0,615.75 L241.0,615.77 L239.0,615.78 L237.0,615.79 L235.0,615.80 L233.0,615.79 L231.0,615.70 L229.0,615.53 L227.0,615.30 L225.0,615.01 L223.0,614.69 L221.0,614.34 L219.0,613.97 L217.0,613.60 L215.0,613.19 L213.0,612.70 L211.0,612.14 L209.0,611.51 L207.0,610.85 L205.0,610.14 L203.0,609.41 L201.0,608.67 L199.0,607.92 L197.0,607.12 L195.0,606.26 L193.0,605.35 L191.0,604.40 L189.0,603.42 L187.0,602.41 L185.0,601.38 L183.0,600.35 L181.0,599.30 L179.0,598.26 L177.0,597.23 L175.0,596.22 L173.0,595.23 L171.0,594.27 L169.0,593.34 L167.0,592.39 L165.0,591.42 L163.0,590.44 L161.0,589.46 L159.0,588.48 L157.0,587.51 L155.0,586.55 L153.0,585.62 L151.0,584.71 L149.0,583.85 L147.0,583.03 L145.0,582.25 L143.0,581.54 L141.0,580.90 L139.0,580.32 L137.0,579.80 L135.0,579.33 L133.0,578.89 L131.0,578.49 L129.0,578.12 L127.0,577.77 L125.0,577.44 L123.0,577.13 L121.0,576.84 L119.0,576.55 L117.0,576.27 L115.0,575.99 L113.0,575.70 L111.0,575.40 L108.4,574.45 L106.0,572.03 L103.6,568.54 L101.4,564.38 L99.4,559.94 L97.5,555.63 L95.8,551.85 L94.3,549.00Z" fill="#f07a02"/>
<path d="M113.0,562.30 L115.0,562.30 L117.0,562.30 L119.0,562.30 L121.0,562.30 L123.0,562.30 L125.0,562.30 L127.0,562.30 L129.0,562.30 L131.0,562.30 L133.0,562.30 L135.0,562.30 L137.0,562.30 L139.0,562.30 L141.0,562.30 L143.0,562.30 L145.0,562.30 L147.0,562.30 L149.0,562.30 L151.0,562.30 L153.0,562.30 L155.0,562.30 L157.0,562.30 L159.0,562.30 L161.0,562.30 L163.0,562.30 L165.0,562.30 L167.0,562.30 L169.0,562.30 L171.0,562.30 L173.0,562.30 L175.0,562.30 L177.0,562.30 L179.0,562.30 L181.0,562.30 L183.0,562.30 L185.0,562.30 L187.0,562.30 L189.0,562.30 L191.0,562.30 L193.0,562.30 L195.0,562.30 L197.0,562.30 L199.0,562.30 L201.0,562.30 L203.0,562.30 L205.0,562.30 L207.0,562.30 L209.0,562.30 L211.0,562.30 L213.0,562.30 L215.0,562.30 L217.0,562.30 L219.0,562.30 L221.0,562.30 L223.0,562.30 L225.0,562.30 L227.0,562.30 L229.0,562.30 L231.0,562.30 L233.0,562.30 L235.0,562.28 L237.0,562.14 L239.0,561.86 L241.0,561.48 L243.0,561.01 L245.0,560.46 L247.0,559.86 L249.0,559.23 L251.0,558.58 L253.0,557.94 L255.0,557.31 L257.0,556.73 L259.0,556.20 L261.0,555.71 L263.0,555.23 L265.0,554.75 L267.0,554.27 L269.0,553.79 L271.0,553.30 L273.0,552.81 L275.0,552.31 L277.0,551.80 L279.0,551.27 L281.0,550.73 L283.0,550.17 L285.0,549.61 L287.0,549.03 L289.0,548.44 L291.0,547.84 L293.0,547.23 L295.0,546.60 L297.0,545.97 L299.0,545.33 L301.0,544.67 L303.0,544.00 L305.0,543.31 L307.0,542.61 L309.0,541.90 L311.0,541.18 L313.0,540.45 L315.0,539.71 L317.0,538.96 L319.0,538.20 L321.0,537.45 L323.0,536.68 L325.0,535.92 L327.0,535.15 L329.0,534.38 L331.0,533.60 L333.0,532.73 L335.0,531.78 L337.0,530.78 L339.0,529.75 L341.0,528.71 L343.0,527.71 L345.0,526.75 L347.0,525.87 L349.0,525.10 L351.0,524.46 L353.0,523.98 L355.0,523.67 L357.0,523.55 L359.0,523.47 L361.0,523.39 L363.0,523.31 L365.0,523.25 L367.0,523.19 L369.0,523.14 L371.0,523.09 L373.0,523.06 L375.0,523.03 L377.0,523.01 L379.0,523.00 L381.0,523.00 L383.0,523.00 L385.0,523.00 L387.0,523.01 L389.0,523.01 L391.0,523.01 L393.0,523.02 L395.0,523.02 L397.0,523.03 L399.0,523.03 L401.0,523.04 L403.0,523.05 L405.0,523.06 L407.0,523.07 L409.0,523.08 L411.0,523.09 L413.0,523.10 L415.0,523.11 L417.0,523.12 L419.0,523.13 L421.0,523.14 L423.0,523.15 L425.0,523.17 L427.0,523.18 L429.0,523.19 L431.0,523.20 L433.0,523.22 L435.0,523.23 L437.0,523.24 L439.0,523.26 L441.0,523.27 L443.0,523.28 L445.0,523.30 L447.0,523.31 L449.0,523.33 L451.0,523.34 L453.0,523.35 L455.0,523.37 L457.0,523.38 L459.0,523.39 L461.0,523.41 L463.0,523.42 L465.0,523.43 L467.0,523.44 L469.0,523.46 L471.0,523.47 L473.0,523.48 L475.0,523.49 L477.0,523.50 L477.0,544.50 L475.0,544.60 L473.0,544.69 L471.0,544.78 L469.0,544.87 L467.0,544.96 L465.0,545.05 L463.0,545.13 L461.0,545.22 L459.0,545.31 L457.0,545.39 L455.0,545.48 L453.0,545.57 L451.0,545.65 L449.0,545.74 L447.0,545.83 L445.0,545.93 L443.0,546.02 L441.0,546.12 L439.0,546.22 L437.0,546.32 L435.0,546.42 L433.0,546.53 L431.0,546.64 L429.0,546.76 L427.0,546.88 L425.0,547.00 L423.0,547.13 L421.0,547.27 L419.0,547.41 L417.0,547.56 L415.0,547.71 L413.0,547.87 L411.0,548.04 L409.0,548.21 L407.0,548.38 L405.0,548.56 L403.0,548.74 L401.0,548.93 L399.0,549.12 L397.0,549.31 L395.0,549.50 L393.0,549.70 L391.0,549.90 L389.0,550.10 L387.0,550.30 L385.0,550.50 L383.0,550.70 L381.0,550.89 L379.0,551.08 L377.0,551.28 L375.0,551.51 L373.0,551.76 L371.0,552.04 L369.0,552.38 L367.0,552.82 L365.0,553.36 L363.0,553.97 L361.0,554.62 L359.0,555.30 L357.0,555.97 L355.0,556.63 L353.0,557.29 L351.0,557.97 L349.0,558.66 L347.0,559.37 L345.0,560.09 L343.0,560.82 L341.0,561.58 L339.0,562.35 L337.0,563.13 L335.0,563.93 L333.0,564.75 L331.0,565.58 L329.0,566.43 L327.0,567.29 L325.0,568.18 L323.0,569.09 L321.0,570.02 L319.0,570.97 L317.0,571.95 L315.0,572.95 L313.0,573.98 L311.0,575.03 L309.0,576.11 L307.0,577.22 L305.0,578.37 L303.0,579.62 L301.0,580.93 L299.0,582.30 L297.0,583.72 L295.0,585.18 L293.0,586.65 L291.0,588.12 L289.0,589.58 L287.0,591.02 L285.0,592.43 L283.0,593.78 L281.0,595.06 L279.0,596.27 L277.0,597.39 L275.0,598.51 L273.0,599.65 L271.0,600.80 L269.0,601.93 L267.0,603.05 L265.0,604.13 L263.0,605.17 L261.0,606.14 L259.0,607.04 L257.0,607.85 L255.0,608.56 L253.0,609.15 L251.0,609.62 L249.0,609.96 L247.0,610.28 L245.0,610.58 L243.0,610.85 L241.0,611.09 L239.0,611.28 L237.0,611.42 L235.0,611.49 L233.0,611.49 L231.0,611.39 L229.0,611.20 L227.0,610.93 L225.0,610.60 L223.0,610.21 L221.0,609.77 L219.0,609.30 L217.0,608.81 L215.0,608.30 L213.0,607.69 L211.0,606.89 L209.0,605.95 L207.0,604.91 L205.0,603.80 L203.0,602.67 L201.0,601.55 L199.0,600.45 L197.0,599.32 L195.0,598.14 L193.0,596.92 L191.0,595.69 L189.0,594.45 L187.0,593.21 L185.0,592.00 L183.0,590.79 L181.0,589.56 L179.0,588.32 L177.0,587.09 L175.0,585.88 L173.0,584.70 L171.0,583.55 L169.0,582.46 L167.0,581.38 L165.0,580.33 L163.0,579.31 L161.0,578.31 L159.0,577.34 L157.0,576.40 L155.0,575.50 L153.0,574.64 L151.0,573.80 L149.0,573.00 L147.0,572.21 L145.0,571.45 L143.0,570.70 L141.0,569.97 L139.0,569.23 L137.0,568.48 L135.0,567.73 L133.0,566.99 L131.0,566.28 L129.0,565.62 L127.0,565.02 L125.0,564.50 L123.0,564.06 L121.0,563.67 L119.0,563.32 L117.0,562.99 L115.0,562.65 L113.0,562.30Z" fill="#9a66a9"/>
<path d="M376.3,577.5 C379,568 381,552 385,552 C410,553 440,556.2 477,556.2 L477,582 C450,583 425,592 410,598 C395,604 390,605 385,605 C381,605 379,586 376.3,577.5 Z" fill="#d31a16"/>
<path d="M377.5,610.5 C390,609 410,604 425,601 C440,598 460,594.5 477,594.5 L477,599.5 C460,599.5 440,602 425,604.5 C410,607 390,611.5 377.5,610.5 Z" fill="#2e9a3a"/>
<path d="M224.0,485.90 L226.0,485.64 L228.0,485.35 L230.0,485.08 L232.0,484.88 L234.0,484.80 L236.0,484.80 L238.0,484.80 L240.0,484.81 L242.0,484.82 L244.0,484.83 L246.0,484.84 L248.0,484.85 L250.0,484.87 L252.0,484.88 L254.0,484.90 L256.0,484.92 L258.0,484.94 L260.0,484.96 L262.0,484.98 L264.0,485.00 L266.0,485.03 L268.0,485.05 L270.0,485.08 L272.0,485.10 L274.0,485.13 L276.0,485.16 L278.0,485.18 L280.0,485.21 L282.0,485.23 L284.0,485.26 L286.0,485.29 L288.0,485.31 L290.0,485.34 L292.0,485.36 L294.0,485.38 L296.0,485.41 L298.0,485.43 L300.0,485.45 L302.0,485.47 L304.0,485.49 L306.0,485.51 L308.0,485.53 L310.0,485.55 L312.0,485.58 L314.0,485.60 L316.0,485.62 L318.0,485.64 L320.0,485.66 L322.0,485.69 L324.0,485.71 L326.0,485.73 L328.0,485.76 L330.0,485.78 L332.0,485.80 L334.0,485.83 L336.0,485.85 L338.0,485.87 L340.0,485.90 L342.0,485.92 L344.0,485.95 L346.0,485.97 L348.0,486.00 L350.0,486.02 L352.0,486.05 L354.0,486.07 L356.0,486.10 L358.0,486.13 L360.0,486.15 L362.0,486.18 L364.0,486.20 L366.0,486.22 L368.0,486.25 L370.0,486.27 L372.0,486.29 L374.0,486.32 L376.0,486.34 L378.0,486.37 L380.0,486.40 L382.0,486.42 L384.0,486.45 L386.0,486.48 L388.0,486.52 L390.0,486.55 L392.0,486.58 L394.0,486.62 L396.0,486.66 L398.0,486.71 L400.0,486.75 L402.0,486.80 L404.0,486.85 L406.0,486.92 L408.0,486.98 L410.0,487.06 L412.0,487.14 L414.0,487.23 L416.0,487.32 L418.0,487.42 L420.0,487.53 L422.0,487.65 L424.0,487.77 L426.0,487.90 L428.0,488.03 L430.0,488.17 L432.0,488.32 L434.0,488.48 L436.0,488.65 L438.0,488.82 L440.0,489.00 L442.0,489.22 L444.0,489.50 L446.0,489.84 L448.0,490.22 L450.0,490.63 L452.0,491.07 L454.0,491.51 L456.0,491.96 L458.0,492.39 L460.0,492.81 L461.0,493.00 L461.0,493.00 L460.0,492.85 L458.0,492.55 L456.0,492.22 L454.0,491.89 L452.0,491.56 L450.0,491.23 L448.0,490.92 L446.0,490.64 L444.0,490.38 L442.0,490.17 L440.0,490.00 L438.0,489.86 L436.0,489.73 L434.0,489.60 L432.0,489.47 L430.0,489.35 L428.0,489.24 L426.0,489.13 L424.0,489.03 L422.0,488.93 L420.0,488.84 L418.0,488.76 L416.0,488.68 L414.0,488.60 L412.0,488.53 L410.0,488.47 L408.0,488.41 L406.0,488.36 L404.0,488.32 L402.0,488.28 L400.0,488.25 L398.0,488.22 L396.0,488.20 L394.0,488.17 L392.0,488.15 L390.0,488.13 L388.0,488.11 L386.0,488.09 L384.0,488.08 L382.0,488.06 L380.0,488.05 L378.0,488.04 L376.0,488.02 L374.0,488.01 L372.0,488.00 L370.0,487.99 L368.0,487.97 L366.0,487.96 L364.0,487.95 L362.0,487.94 L360.0,487.93 L358.0,487.91 L356.0,487.90 L354.0,487.89 L352.0,487.87 L350.0,487.86 L348.0,487.85 L346.0,487.83 L344.0,487.82 L342.0,487.81 L340.0,487.80 L338.0,487.79 L336.0,487.78 L334.0,487.76 L332.0,487.75 L330.0,487.74 L328.0,487.73 L326.0,487.72 L324.0,487.71 L322.0,487.70 L320.0,487.68 L318.0,487.67 L316.0,487.66 L314.0,487.65 L312.0,487.63 L310.0,487.62 L308.0,487.61 L306.0,487.59 L304.0,487.58 L302.0,487.57 L300.0,487.55 L298.0,487.53 L296.0,487.52 L294.0,487.50 L292.0,487.48 L290.0,487.46 L288.0,487.44 L286.0,487.42 L284.0,487.40 L282.0,487.38 L280.0,487.35 L278.0,487.33 L276.0,487.31 L274.0,487.29 L272.0,487.26 L270.0,487.24 L268.0,487.22 L266.0,487.20 L264.0,487.18 L262.0,487.16 L260.0,487.14 L258.0,487.12 L256.0,487.10 L254.0,487.09 L252.0,487.07 L250.0,487.06 L248.0,487.05 L246.0,487.03 L244.0,487.02 L242.0,487.02 L240.0,487.01 L238.0,487.00 L236.0,487.00 L234.0,487.00 L232.0,486.92 L230.0,486.72 L228.0,486.45 L226.0,486.16 L224.0,485.90Z" fill="#fbc487"/>
<path d="M224.0,491.10 L226.0,490.87 L228.0,490.60 L230.0,490.36 L232.0,490.17 L234.0,490.10 L236.0,490.10 L238.0,490.10 L240.0,490.10 L242.0,490.10 L244.0,490.10 L246.0,490.10 L248.0,490.10 L250.0,490.10 L252.0,490.10 L254.0,490.10 L256.0,490.10 L258.0,490.10 L260.0,490.10 L262.0,490.09 L264.0,490.09 L266.0,490.09 L268.0,490.09 L270.0,490.09 L272.0,490.09 L274.0,490.09 L276.0,490.08 L278.0,490.08 L280.0,490.08 L282.0,490.08 L284.0,490.08 L286.0,490.07 L288.0,490.07 L290.0,490.07 L292.0,490.06 L294.0,490.06 L296.0,490.06 L298.0,490.05 L300.0,490.05 L302.0,490.04 L304.0,490.03 L306.0,490.02 L308.0,490.00 L310.0,489.98 L312.0,489.96 L314.0,489.93 L316.0,489.90 L318.0,489.87 L320.0,489.84 L322.0,489.81 L324.0,489.77 L326.0,489.74 L328.0,489.71 L330.0,489.67 L332.0,489.64 L334.0,489.61 L336.0,489.58 L338.0,489.55 L340.0,489.53 L342.0,489.51 L344.0,489.49 L346.0,489.47 L348.0,489.46 L350.0,489.45 L352.0,489.44 L354.0,489.44 L356.0,489.45 L358.0,489.46 L360.0,489.47 L362.0,489.49 L364.0,489.51 L366.0,489.53 L368.0,489.55 L370.0,489.57 L372.0,489.60 L374.0,489.63 L376.0,489.66 L378.0,489.69 L380.0,489.72 L382.0,489.76 L384.0,489.79 L386.0,489.83 L388.0,489.87 L390.0,489.91 L392.0,489.94 L394.0,489.98 L396.0,490.02 L398.0,490.06 L400.0,490.10 L402.0,490.14 L404.0,490.18 L406.0,490.22 L408.0,490.26 L410.0,490.30 L412.0,490.35 L414.0,490.39 L416.0,490.44 L418.0,490.49 L420.0,490.55 L422.0,490.60 L424.0,490.66 L426.0,490.72 L428.0,490.79 L430.0,490.85 L432.0,490.92 L434.0,491.00 L436.0,491.08 L438.0,491.16 L440.0,491.25 L442.0,491.35 L444.0,491.48 L446.0,491.63 L448.0,491.80 L450.0,491.98 L452.0,492.17 L454.0,492.36 L456.0,492.55 L458.0,492.74 L460.0,492.91 L461.0,493.00 L461.0,493.00 L460.0,492.94 L458.0,492.81 L456.0,492.68 L454.0,492.54 L452.0,492.41 L450.0,492.27 L448.0,492.14 L446.0,492.03 L444.0,491.92 L442.0,491.83 L440.0,491.75 L438.0,491.69 L436.0,491.62 L434.0,491.56 L432.0,491.51 L430.0,491.45 L428.0,491.40 L426.0,491.35 L424.0,491.31 L422.0,491.26 L420.0,491.22 L418.0,491.18 L416.0,491.14 L414.0,491.11 L412.0,491.07 L410.0,491.04 L408.0,491.01 L406.0,490.98 L404.0,490.95 L402.0,490.92 L400.0,490.90 L398.0,490.88 L396.0,490.85 L394.0,490.82 L392.0,490.80 L390.0,490.77 L388.0,490.75 L386.0,490.72 L384.0,490.70 L382.0,490.68 L380.0,490.66 L378.0,490.64 L376.0,490.62 L374.0,490.60 L372.0,490.58 L370.0,490.57 L368.0,490.56 L366.0,490.55 L364.0,490.54 L362.0,490.54 L360.0,490.54 L358.0,490.54 L356.0,490.55 L354.0,490.56 L352.0,490.58 L350.0,490.60 L348.0,490.63 L346.0,490.67 L344.0,490.71 L342.0,490.75 L340.0,490.79 L338.0,490.84 L336.0,490.90 L334.0,490.95 L332.0,491.01 L330.0,491.06 L328.0,491.12 L326.0,491.18 L324.0,491.24 L322.0,491.29 L320.0,491.35 L318.0,491.40 L316.0,491.46 L314.0,491.51 L312.0,491.55 L310.0,491.60 L308.0,491.64 L306.0,491.67 L304.0,491.70 L302.0,491.73 L300.0,491.75 L298.0,491.77 L296.0,491.78 L294.0,491.80 L292.0,491.82 L290.0,491.83 L288.0,491.85 L286.0,491.86 L284.0,491.88 L282.0,491.89 L280.0,491.91 L278.0,491.92 L276.0,491.94 L274.0,491.95 L272.0,491.96 L270.0,491.98 L268.0,491.99 L266.0,492.00 L264.0,492.01 L262.0,492.02 L260.0,492.03 L258.0,492.04 L256.0,492.05 L254.0,492.06 L252.0,492.07 L250.0,492.07 L248.0,492.08 L246.0,492.08 L244.0,492.09 L242.0,492.09 L240.0,492.10 L238.0,492.10 L236.0,492.10 L234.0,492.10 L232.0,492.03 L230.0,491.84 L228.0,491.60 L226.0,491.33 L224.0,491.10Z" fill="#d2cdc8"/>
<path d="M225.0,496.00 L227.0,495.75 L229.0,495.47 L231.0,495.23 L233.0,495.07 L235.0,495.05 L237.0,495.05 L239.0,495.04 L241.0,495.04 L243.0,495.03 L245.0,495.01 L247.0,495.00 L249.0,494.99 L251.0,494.97 L253.0,494.95 L255.0,494.93 L257.0,494.91 L259.0,494.88 L261.0,494.86 L263.0,494.83 L265.0,494.80 L267.0,494.78 L269.0,494.75 L271.0,494.71 L273.0,494.68 L275.0,494.65 L277.0,494.62 L279.0,494.58 L281.0,494.55 L283.0,494.51 L285.0,494.48 L287.0,494.44 L289.0,494.40 L291.0,494.37 L293.0,494.33 L295.0,494.29 L297.0,494.26 L299.0,494.22 L301.0,494.18 L303.0,494.14 L305.0,494.08 L307.0,494.03 L309.0,493.96 L311.0,493.89 L313.0,493.82 L315.0,493.74 L317.0,493.66 L319.0,493.58 L321.0,493.49 L323.0,493.41 L325.0,493.32 L327.0,493.24 L329.0,493.15 L331.0,493.07 L333.0,492.99 L335.0,492.91 L337.0,492.84 L339.0,492.78 L341.0,492.71 L343.0,492.66 L345.0,492.61 L347.0,492.57 L349.0,492.54 L351.0,492.51 L353.0,492.50 L355.0,492.50 L357.0,492.50 L359.0,492.51 L361.0,492.52 L363.0,492.53 L365.0,492.53 L367.0,492.54 L369.0,492.55 L371.0,492.55 L373.0,492.56 L375.0,492.57 L377.0,492.57 L379.0,492.58 L381.0,492.58 L383.0,492.59 L385.0,492.60 L387.0,492.60 L389.0,492.61 L391.0,492.62 L393.0,492.62 L395.0,492.63 L397.0,492.64 L399.0,492.65 L401.0,492.65 L403.0,492.66 L405.0,492.67 L407.0,492.68 L409.0,492.69 L411.0,492.70 L413.0,492.71 L415.0,492.72 L417.0,492.73 L419.0,492.75 L421.0,492.76 L423.0,492.77 L425.0,492.78 L427.0,492.79 L429.0,492.80 L431.0,492.82 L433.0,492.83 L435.0,492.84 L437.0,492.85 L439.0,492.87 L441.0,492.88 L443.0,492.89 L445.0,492.90 L447.0,492.92 L449.0,492.93 L451.0,492.94 L453.0,492.95 L455.0,492.96 L457.0,492.98 L459.0,492.99 L461.0,493.00 L461.0,493.00 L459.0,493.01 L457.0,493.02 L455.0,493.04 L453.0,493.05 L451.0,493.06 L449.0,493.07 L447.0,493.08 L445.0,493.10 L443.0,493.11 L441.0,493.12 L439.0,493.13 L437.0,493.15 L435.0,493.16 L433.0,493.17 L431.0,493.18 L429.0,493.20 L427.0,493.21 L425.0,493.22 L423.0,493.23 L421.0,493.24 L419.0,493.25 L417.0,493.27 L415.0,493.28 L413.0,493.29 L411.0,493.30 L409.0,493.31 L407.0,493.32 L405.0,493.33 L403.0,493.34 L401.0,493.35 L399.0,493.35 L397.0,493.36 L395.0,493.37 L393.0,493.38 L391.0,493.38 L389.0,493.39 L387.0,493.40 L385.0,493.40 L383.0,493.41 L381.0,493.42 L379.0,493.42 L377.0,493.43 L375.0,493.43 L373.0,493.44 L371.0,493.45 L369.0,493.45 L367.0,493.46 L365.0,493.47 L363.0,493.47 L361.0,493.48 L359.0,493.49 L357.0,493.50 L355.0,493.51 L353.0,493.53 L351.0,493.56 L349.0,493.60 L347.0,493.66 L345.0,493.72 L343.0,493.79 L341.0,493.87 L339.0,493.95 L337.0,494.04 L335.0,494.14 L333.0,494.24 L331.0,494.34 L329.0,494.45 L327.0,494.56 L325.0,494.67 L323.0,494.78 L321.0,494.89 L319.0,495.00 L317.0,495.10 L315.0,495.21 L313.0,495.31 L311.0,495.40 L309.0,495.49 L307.0,495.57 L305.0,495.65 L303.0,495.72 L301.0,495.77 L299.0,495.82 L297.0,495.87 L295.0,495.92 L293.0,495.97 L291.0,496.02 L289.0,496.07 L287.0,496.12 L285.0,496.17 L283.0,496.22 L281.0,496.27 L279.0,496.32 L277.0,496.36 L275.0,496.41 L273.0,496.45 L271.0,496.50 L269.0,496.54 L267.0,496.58 L265.0,496.62 L263.0,496.66 L261.0,496.69 L259.0,496.73 L257.0,496.76 L255.0,496.79 L253.0,496.82 L251.0,496.84 L249.0,496.86 L247.0,496.88 L245.0,496.90 L243.0,496.92 L241.0,496.93 L239.0,496.94 L237.0,496.95 L235.0,496.95 L233.0,496.93 L231.0,496.77 L229.0,496.53 L227.0,496.25 L225.0,496.00Z" fill="#eba3a0"/>
<path d="M224.0,501.00 L226.0,500.77 L228.0,500.50 L230.0,500.26 L232.0,500.07 L234.0,500.00 L236.0,500.00 L238.0,499.99 L240.0,499.97 L242.0,499.96 L244.0,499.93 L246.0,499.90 L248.0,499.87 L250.0,499.83 L252.0,499.79 L254.0,499.74 L256.0,499.69 L258.0,499.64 L260.0,499.58 L262.0,499.52 L264.0,499.46 L266.0,499.40 L268.0,499.33 L270.0,499.26 L272.0,499.19 L274.0,499.11 L276.0,499.04 L278.0,498.96 L280.0,498.89 L282.0,498.81 L284.0,498.73 L286.0,498.65 L288.0,498.57 L290.0,498.49 L292.0,498.41 L294.0,498.33 L296.0,498.25 L298.0,498.18 L300.0,498.10 L302.0,498.02 L304.0,497.93 L306.0,497.83 L308.0,497.73 L310.0,497.62 L312.0,497.51 L314.0,497.39 L316.0,497.26 L318.0,497.13 L320.0,497.00 L322.0,496.87 L324.0,496.74 L326.0,496.61 L328.0,496.48 L330.0,496.35 L332.0,496.22 L334.0,496.10 L336.0,495.98 L338.0,495.86 L340.0,495.75 L342.0,495.65 L344.0,495.55 L346.0,495.46 L348.0,495.38 L350.0,495.30 L352.0,495.24 L354.0,495.19 L356.0,495.15 L358.0,495.12 L360.0,495.09 L362.0,495.06 L364.0,495.04 L366.0,495.02 L368.0,495.00 L370.0,494.99 L372.0,494.97 L374.0,494.96 L376.0,494.94 L378.0,494.93 L380.0,494.92 L382.0,494.91 L384.0,494.90 L386.0,494.88 L388.0,494.87 L390.0,494.85 L392.0,494.84 L394.0,494.82 L396.0,494.80 L398.0,494.78 L400.0,494.75 L402.0,494.72 L404.0,494.69 L406.0,494.65 L408.0,494.61 L410.0,494.57 L412.0,494.52 L414.0,494.47 L416.0,494.42 L418.0,494.37 L420.0,494.31 L422.0,494.25 L424.0,494.19 L426.0,494.13 L428.0,494.07 L430.0,494.01 L432.0,493.94 L434.0,493.88 L436.0,493.81 L438.0,493.74 L440.0,493.67 L442.0,493.61 L444.0,493.54 L446.0,493.47 L448.0,493.41 L450.0,493.34 L452.0,493.28 L454.0,493.21 L456.0,493.15 L458.0,493.09 L460.0,493.03 L461.0,493.00 L461.0,493.00 L460.0,493.05 L458.0,493.16 L456.0,493.28 L454.0,493.40 L452.0,493.52 L450.0,493.64 L448.0,493.76 L446.0,493.89 L444.0,494.02 L442.0,494.14 L440.0,494.27 L438.0,494.40 L436.0,494.53 L434.0,494.65 L432.0,494.78 L430.0,494.90 L428.0,495.02 L426.0,495.14 L424.0,495.26 L422.0,495.37 L420.0,495.48 L418.0,495.58 L416.0,495.68 L414.0,495.77 L412.0,495.86 L410.0,495.94 L408.0,496.02 L406.0,496.09 L404.0,496.15 L402.0,496.20 L400.0,496.25 L398.0,496.29 L396.0,496.33 L394.0,496.36 L392.0,496.39 L390.0,496.42 L388.0,496.45 L386.0,496.47 L384.0,496.49 L382.0,496.52 L380.0,496.54 L378.0,496.56 L376.0,496.58 L374.0,496.60 L372.0,496.62 L370.0,496.64 L368.0,496.67 L366.0,496.69 L364.0,496.72 L362.0,496.75 L360.0,496.78 L358.0,496.81 L356.0,496.85 L354.0,496.90 L352.0,496.95 L350.0,497.02 L348.0,497.09 L346.0,497.18 L344.0,497.27 L342.0,497.38 L340.0,497.48 L338.0,497.60 L336.0,497.72 L334.0,497.84 L332.0,497.97 L330.0,498.10 L328.0,498.23 L326.0,498.37 L324.0,498.50 L322.0,498.64 L320.0,498.77 L318.0,498.90 L316.0,499.03 L314.0,499.16 L312.0,499.28 L310.0,499.40 L308.0,499.51 L306.0,499.62 L304.0,499.72 L302.0,499.82 L300.0,499.90 L298.0,499.98 L296.0,500.06 L294.0,500.15 L292.0,500.23 L290.0,500.32 L288.0,500.41 L286.0,500.49 L284.0,500.58 L282.0,500.67 L280.0,500.75 L278.0,500.84 L276.0,500.92 L274.0,501.00 L272.0,501.09 L270.0,501.17 L268.0,501.24 L266.0,501.32 L264.0,501.39 L262.0,501.46 L260.0,501.53 L258.0,501.59 L256.0,501.65 L254.0,501.71 L252.0,501.76 L250.0,501.81 L248.0,501.85 L246.0,501.89 L244.0,501.92 L242.0,501.95 L240.0,501.97 L238.0,501.99 L236.0,502.00 L234.0,502.00 L232.0,501.93 L230.0,501.74 L228.0,501.50 L226.0,501.23 L224.0,501.00Z" fill="#8a4434"/>
<path d="M112.0,536.00 L114.0,535.54 L116.0,535.08 L118.0,534.63 L120.0,534.18 L122.0,533.72 L124.0,533.27 L126.0,532.81 L128.0,532.36 L130.0,531.90 L132.0,531.44 L134.0,530.97 L136.0,530.51 L138.0,530.03 L140.0,529.55 L142.0,529.07 L144.0,528.58 L146.0,528.09 L148.0,527.60 L150.0,527.09 L152.0,526.58 L154.0,526.06 L156.0,525.52 L158.0,524.97 L160.0,524.40 L162.0,523.81 L164.0,523.19 L166.0,522.55 L168.0,521.89 L170.0,521.21 L172.0,520.52 L174.0,519.82 L176.0,519.11 L178.0,518.40 L180.0,517.69 L182.0,516.98 L184.0,516.28 L186.0,515.59 L188.0,514.91 L190.0,514.25 L192.0,513.58 L194.0,512.87 L196.0,512.15 L198.0,511.43 L200.0,510.72 L202.0,510.04 L204.0,509.41 L206.0,508.83 L208.0,508.32 L210.0,507.90 L212.0,507.54 L214.0,507.19 L216.0,506.86 L218.0,506.55 L220.0,506.26 L222.0,505.99 L224.0,505.74 L226.0,505.51 L228.0,505.30 L230.0,505.11 L232.0,504.94 L234.0,504.80 L236.0,504.67 L238.0,504.55 L240.0,504.44 L242.0,504.34 L244.0,504.24 L246.0,504.15 L248.0,504.06 L250.0,503.98 L252.0,503.90 L254.0,503.83 L256.0,503.76 L258.0,503.69 L260.0,503.63 L262.0,503.57 L264.0,503.51 L266.0,503.45 L268.0,503.40 L270.0,503.34 L272.0,503.29 L274.0,503.23 L276.0,503.18 L278.0,503.12 L280.0,503.06 L282.0,503.00 L284.0,502.94 L286.0,502.87 L288.0,502.80 L290.0,502.73 L292.0,502.66 L294.0,502.57 L296.0,502.49 L298.0,502.40 L300.0,502.30 L302.0,502.19 L304.0,502.08 L306.0,501.96 L308.0,501.82 L310.0,501.68 L312.0,501.54 L314.0,501.39 L316.0,501.23 L318.0,501.07 L320.0,500.90 L322.0,500.74 L324.0,500.57 L326.0,500.40 L328.0,500.23 L330.0,500.06 L332.0,499.89 L334.0,499.72 L336.0,499.56 L338.0,499.40 L340.0,499.24 L342.0,499.09 L344.0,498.95 L346.0,498.81 L348.0,498.68 L350.0,498.56 L352.0,498.44 L354.0,498.34 L356.0,498.25 L358.0,498.17 L360.0,498.09 L362.0,498.02 L364.0,497.95 L366.0,497.89 L368.0,497.83 L370.0,497.77 L372.0,497.72 L374.0,497.66 L376.0,497.61 L378.0,497.56 L380.0,497.51 L382.0,497.46 L384.0,497.41 L386.0,497.36 L388.0,497.30 L390.0,497.25 L392.0,497.18 L394.0,497.12 L396.0,497.05 L398.0,496.98 L400.0,496.90 L402.0,496.82 L404.0,496.73 L406.0,496.63 L408.0,496.53 L410.0,496.42 L412.0,496.31 L414.0,496.20 L416.0,496.08 L418.0,495.96 L420.0,495.83 L422.0,495.70 L424.0,495.57 L426.0,495.44 L428.0,495.30 L430.0,495.16 L432.0,495.02 L434.0,494.88 L436.0,494.74 L438.0,494.60 L440.0,494.45 L442.0,494.31 L444.0,494.17 L446.0,494.02 L448.0,493.88 L450.0,493.74 L452.0,493.60 L454.0,493.46 L456.0,493.33 L458.0,493.20 L460.0,493.06 L461.0,493.00 L461.0,493.00 L460.0,493.08 L458.0,493.26 L456.0,493.43 L454.0,493.61 L452.0,493.79 L450.0,493.97 L448.0,494.16 L446.0,494.35 L444.0,494.53 L442.0,494.72 L440.0,494.91 L438.0,495.10 L436.0,495.29 L434.0,495.48 L432.0,495.66 L430.0,495.85 L428.0,496.03 L426.0,496.21 L424.0,496.38 L422.0,496.56 L420.0,496.73 L418.0,496.89 L416.0,497.05 L414.0,497.20 L412.0,497.35 L410.0,497.49 L408.0,497.63 L406.0,497.76 L404.0,497.88 L402.0,497.99 L400.0,498.10 L398.0,498.20 L396.0,498.29 L394.0,498.38 L392.0,498.46 L390.0,498.53 L388.0,498.61 L386.0,498.68 L384.0,498.74 L382.0,498.81 L380.0,498.87 L378.0,498.93 L376.0,499.00 L374.0,499.06 L372.0,499.12 L370.0,499.19 L368.0,499.26 L366.0,499.33 L364.0,499.40 L362.0,499.48 L360.0,499.57 L358.0,499.65 L356.0,499.75 L354.0,499.85 L352.0,499.97 L350.0,500.09 L348.0,500.23 L346.0,500.37 L344.0,500.52 L342.0,500.68 L340.0,500.84 L338.0,501.00 L336.0,501.18 L334.0,501.35 L332.0,501.53 L330.0,501.71 L328.0,501.89 L326.0,502.07 L324.0,502.25 L322.0,502.43 L320.0,502.61 L318.0,502.79 L316.0,502.96 L314.0,503.12 L312.0,503.29 L310.0,503.44 L308.0,503.59 L306.0,503.73 L304.0,503.86 L302.0,503.99 L300.0,504.10 L298.0,504.21 L296.0,504.30 L294.0,504.40 L292.0,504.49 L290.0,504.57 L288.0,504.65 L286.0,504.73 L284.0,504.80 L282.0,504.87 L280.0,504.94 L278.0,505.01 L276.0,505.07 L274.0,505.14 L272.0,505.20 L270.0,505.26 L268.0,505.33 L266.0,505.39 L264.0,505.45 L262.0,505.52 L260.0,505.59 L258.0,505.66 L256.0,505.73 L254.0,505.80 L252.0,505.88 L250.0,505.96 L248.0,506.05 L246.0,506.14 L244.0,506.23 L242.0,506.33 L240.0,506.44 L238.0,506.55 L236.0,506.67 L234.0,506.80 L232.0,506.94 L230.0,507.10 L228.0,507.28 L226.0,507.47 L224.0,507.69 L222.0,507.92 L220.0,508.17 L218.0,508.44 L216.0,508.73 L214.0,509.04 L212.0,509.36 L210.0,509.70 L208.0,510.10 L206.0,510.58 L204.0,511.13 L202.0,511.73 L200.0,512.38 L198.0,513.05 L196.0,513.74 L194.0,514.43 L192.0,515.10 L190.0,515.75 L188.0,516.39 L186.0,517.05 L184.0,517.72 L182.0,518.40 L180.0,519.09 L178.0,519.78 L176.0,520.47 L174.0,521.16 L172.0,521.84 L170.0,522.51 L168.0,523.17 L166.0,523.81 L164.0,524.43 L162.0,525.03 L160.0,525.60 L158.0,526.14 L156.0,526.67 L154.0,527.18 L152.0,527.68 L150.0,528.16 L148.0,528.64 L146.0,529.10 L144.0,529.56 L142.0,530.00 L140.0,530.45 L138.0,530.89 L136.0,531.31 L134.0,531.73 L132.0,532.13 L130.0,532.53 L128.0,532.92 L126.0,533.31 L124.0,533.69 L122.0,534.07 L120.0,534.45 L118.0,534.83 L116.0,535.22 L114.0,535.61 L112.0,536.00Z" fill="#928048"/>
<path d="M224.0,511.50 L226.0,511.24 L228.0,510.95 L230.0,510.68 L232.0,510.48 L234.0,510.40 L236.0,510.39 L238.0,510.38 L240.0,510.34 L242.0,510.30 L244.0,510.25 L246.0,510.19 L248.0,510.12 L250.0,510.03 L252.0,509.94 L254.0,509.84 L256.0,509.74 L258.0,509.62 L260.0,509.50 L262.0,509.37 L264.0,509.24 L266.0,509.10 L268.0,508.95 L270.0,508.81 L272.0,508.65 L274.0,508.50 L276.0,508.34 L278.0,508.17 L280.0,508.01 L282.0,507.84 L284.0,507.68 L286.0,507.51 L288.0,507.34 L290.0,507.17 L292.0,507.00 L294.0,506.84 L296.0,506.67 L298.0,506.51 L300.0,506.35 L302.0,506.18 L304.0,506.00 L306.0,505.80 L308.0,505.59 L310.0,505.37 L312.0,505.14 L314.0,504.90 L316.0,504.65 L318.0,504.40 L320.0,504.14 L322.0,503.87 L324.0,503.61 L326.0,503.34 L328.0,503.08 L330.0,502.82 L332.0,502.56 L334.0,502.31 L336.0,502.06 L338.0,501.82 L340.0,501.59 L342.0,501.37 L344.0,501.16 L346.0,500.97 L348.0,500.79 L350.0,500.63 L352.0,500.48 L354.0,500.36 L356.0,500.25 L358.0,500.16 L360.0,500.08 L362.0,500.00 L364.0,499.93 L366.0,499.87 L368.0,499.81 L370.0,499.75 L372.0,499.70 L374.0,499.65 L376.0,499.61 L378.0,499.56 L380.0,499.52 L382.0,499.47 L384.0,499.42 L386.0,499.37 L388.0,499.32 L390.0,499.26 L392.0,499.20 L394.0,499.14 L396.0,499.07 L398.0,498.99 L400.0,498.90 L402.0,498.80 L404.0,498.69 L406.0,498.57 L408.0,498.44 L410.0,498.29 L412.0,498.14 L414.0,497.97 L416.0,497.80 L418.0,497.62 L420.0,497.43 L422.0,497.23 L424.0,497.03 L426.0,496.83 L428.0,496.61 L430.0,496.40 L432.0,496.18 L434.0,495.95 L436.0,495.73 L438.0,495.50 L440.0,495.27 L442.0,495.05 L444.0,494.82 L446.0,494.59 L448.0,494.37 L450.0,494.15 L452.0,493.93 L454.0,493.71 L456.0,493.50 L458.0,493.30 L460.0,493.10 L461.0,493.00 L461.0,493.00 L460.0,493.12 L458.0,493.36 L456.0,493.60 L454.0,493.86 L452.0,494.12 L450.0,494.38 L448.0,494.65 L446.0,494.92 L444.0,495.19 L442.0,495.46 L440.0,495.73 L438.0,496.01 L436.0,496.28 L434.0,496.55 L432.0,496.82 L430.0,497.08 L428.0,497.34 L426.0,497.60 L424.0,497.85 L422.0,498.09 L420.0,498.33 L418.0,498.55 L416.0,498.77 L414.0,498.98 L412.0,499.18 L410.0,499.36 L408.0,499.54 L406.0,499.70 L404.0,499.85 L402.0,499.98 L400.0,500.10 L398.0,500.21 L396.0,500.30 L394.0,500.39 L392.0,500.47 L390.0,500.55 L388.0,500.62 L386.0,500.69 L384.0,500.75 L382.0,500.81 L380.0,500.87 L378.0,500.93 L376.0,500.99 L374.0,501.04 L372.0,501.10 L370.0,501.17 L368.0,501.23 L366.0,501.30 L364.0,501.38 L362.0,501.46 L360.0,501.55 L358.0,501.65 L356.0,501.75 L354.0,501.87 L352.0,502.01 L350.0,502.17 L348.0,502.35 L346.0,502.54 L344.0,502.75 L342.0,502.97 L340.0,503.21 L338.0,503.45 L336.0,503.71 L334.0,503.97 L332.0,504.24 L330.0,504.51 L328.0,504.79 L326.0,505.07 L324.0,505.35 L322.0,505.63 L320.0,505.91 L318.0,506.18 L316.0,506.45 L314.0,506.71 L312.0,506.97 L310.0,507.21 L308.0,507.45 L306.0,507.67 L304.0,507.88 L302.0,508.07 L300.0,508.25 L298.0,508.42 L296.0,508.59 L294.0,508.77 L292.0,508.95 L290.0,509.13 L288.0,509.31 L286.0,509.49 L284.0,509.67 L282.0,509.85 L280.0,510.03 L278.0,510.21 L276.0,510.38 L274.0,510.55 L272.0,510.72 L270.0,510.89 L268.0,511.05 L266.0,511.20 L264.0,511.35 L262.0,511.49 L260.0,511.63 L258.0,511.76 L256.0,511.89 L254.0,512.00 L252.0,512.11 L250.0,512.21 L248.0,512.29 L246.0,512.37 L244.0,512.44 L242.0,512.50 L240.0,512.54 L238.0,512.57 L236.0,512.59 L234.0,512.60 L232.0,512.52 L230.0,512.32 L228.0,512.05 L226.0,511.76 L224.0,511.50Z" fill="#6a7a3c"/>
<path d="M224.0,517.00 L226.0,516.72 L228.0,516.40 L230.0,516.11 L232.0,515.89 L234.0,515.80 L236.0,515.78 L238.0,515.74 L240.0,515.67 L242.0,515.58 L244.0,515.46 L246.0,515.32 L248.0,515.16 L250.0,514.99 L252.0,514.80 L254.0,514.60 L256.0,514.39 L258.0,514.18 L260.0,513.95 L262.0,513.72 L264.0,513.49 L266.0,513.26 L268.0,513.03 L270.0,512.80 L272.0,512.58 L274.0,512.37 L276.0,512.17 L278.0,511.98 L280.0,511.80 L282.0,511.64 L284.0,511.48 L286.0,511.33 L288.0,511.18 L290.0,511.02 L292.0,510.87 L294.0,510.70 L296.0,510.53 L298.0,510.35 L300.0,510.15 L302.0,509.93 L304.0,509.69 L306.0,509.44 L308.0,509.17 L310.0,508.89 L312.0,508.59 L314.0,508.29 L316.0,507.97 L318.0,507.66 L320.0,507.34 L322.0,507.01 L324.0,506.69 L326.0,506.37 L328.0,506.06 L330.0,505.75 L332.0,505.43 L334.0,505.09 L336.0,504.72 L338.0,504.35 L340.0,503.97 L342.0,503.59 L344.0,503.23 L346.0,502.88 L348.0,502.55 L350.0,502.26 L352.0,502.01 L354.0,501.80 L356.0,501.65 L358.0,501.54 L360.0,501.44 L362.0,501.36 L364.0,501.29 L366.0,501.22 L368.0,501.17 L370.0,501.11 L372.0,501.05 L374.0,500.99 L376.0,500.92 L378.0,500.84 L380.0,500.75 L382.0,500.64 L384.0,500.53 L386.0,500.40 L388.0,500.27 L390.0,500.13 L392.0,499.98 L394.0,499.82 L396.0,499.66 L398.0,499.49 L400.0,499.32 L402.0,499.14 L404.0,498.96 L406.0,498.78 L408.0,498.59 L410.0,498.40 L412.0,498.21 L414.0,498.02 L416.0,497.83 L418.0,497.64 L420.0,497.45 L422.0,497.26 L424.0,497.06 L426.0,496.86 L428.0,496.65 L430.0,496.44 L432.0,496.23 L434.0,496.02 L436.0,495.80 L438.0,495.58 L440.0,495.35 L442.0,495.13 L444.0,494.90 L446.0,494.68 L448.0,494.45 L450.0,494.22 L452.0,494.00 L454.0,493.77 L456.0,493.55 L458.0,493.33 L460.0,493.11 L461.0,493.00 L461.0,493.00 L460.0,493.14 L458.0,493.41 L456.0,493.69 L454.0,493.97 L452.0,494.26 L450.0,494.55 L448.0,494.83 L446.0,495.12 L444.0,495.41 L442.0,495.70 L440.0,495.98 L438.0,496.26 L436.0,496.54 L434.0,496.81 L432.0,497.08 L430.0,497.35 L428.0,497.60 L426.0,497.85 L424.0,498.09 L422.0,498.33 L420.0,498.55 L418.0,498.77 L416.0,498.99 L414.0,499.20 L412.0,499.42 L410.0,499.63 L408.0,499.84 L406.0,500.05 L404.0,500.25 L402.0,500.45 L400.0,500.65 L398.0,500.84 L396.0,501.02 L394.0,501.20 L392.0,501.38 L390.0,501.54 L388.0,501.70 L386.0,501.85 L384.0,501.99 L382.0,502.13 L380.0,502.25 L378.0,502.36 L376.0,502.46 L374.0,502.54 L372.0,502.62 L370.0,502.70 L368.0,502.77 L366.0,502.84 L364.0,502.92 L362.0,503.01 L360.0,503.11 L358.0,503.22 L356.0,503.35 L354.0,503.52 L352.0,503.74 L350.0,504.01 L348.0,504.32 L346.0,504.66 L344.0,505.02 L342.0,505.40 L340.0,505.79 L338.0,506.19 L336.0,506.58 L334.0,506.96 L332.0,507.32 L330.0,507.65 L328.0,507.97 L326.0,508.30 L324.0,508.63 L322.0,508.97 L320.0,509.31 L318.0,509.64 L316.0,509.97 L314.0,510.30 L312.0,510.62 L310.0,510.93 L308.0,511.22 L306.0,511.50 L304.0,511.77 L302.0,512.02 L300.0,512.25 L298.0,512.46 L296.0,512.65 L294.0,512.84 L292.0,513.01 L290.0,513.18 L288.0,513.34 L286.0,513.50 L284.0,513.66 L282.0,513.83 L280.0,514.00 L278.0,514.19 L276.0,514.39 L274.0,514.60 L272.0,514.82 L270.0,515.05 L268.0,515.29 L266.0,515.53 L264.0,515.78 L262.0,516.02 L260.0,516.26 L258.0,516.50 L256.0,516.73 L254.0,516.95 L252.0,517.16 L250.0,517.35 L248.0,517.53 L246.0,517.70 L244.0,517.84 L242.0,517.97 L240.0,518.06 L238.0,518.14 L236.0,518.18 L234.0,518.20 L232.0,518.11 L230.0,517.89 L228.0,517.60 L226.0,517.28 L224.0,517.00Z" fill="#3a3b78"/>
<path d="M224.0,522.90 L226.0,522.59 L228.0,522.23 L230.0,521.90 L232.0,521.65 L234.0,521.55 L236.0,521.53 L238.0,521.49 L240.0,521.42 L242.0,521.32 L244.0,521.20 L246.0,521.05 L248.0,520.89 L250.0,520.71 L252.0,520.51 L254.0,520.30 L256.0,520.07 L258.0,519.84 L260.0,519.60 L262.0,519.35 L264.0,519.10 L266.0,518.85 L268.0,518.60 L270.0,518.35 L272.0,518.10 L274.0,517.86 L276.0,517.63 L278.0,517.41 L280.0,517.20 L282.0,517.00 L284.0,516.80 L286.0,516.60 L288.0,516.40 L290.0,516.19 L292.0,515.98 L294.0,515.77 L296.0,515.54 L298.0,515.30 L300.0,515.05 L302.0,514.78 L304.0,514.50 L306.0,514.21 L308.0,513.90 L310.0,513.58 L312.0,513.25 L314.0,512.91 L316.0,512.56 L318.0,512.21 L320.0,511.85 L322.0,511.48 L324.0,511.11 L326.0,510.74 L328.0,510.37 L330.0,510.00 L332.0,509.61 L334.0,509.17 L336.0,508.71 L338.0,508.24 L340.0,507.75 L342.0,507.26 L344.0,506.78 L346.0,506.32 L348.0,505.89 L350.0,505.50 L352.0,505.15 L354.0,504.87 L356.0,504.65 L358.0,504.48 L360.0,504.33 L362.0,504.21 L364.0,504.10 L366.0,503.99 L368.0,503.90 L370.0,503.81 L372.0,503.71 L374.0,503.62 L376.0,503.51 L378.0,503.39 L380.0,503.25 L382.0,503.10 L384.0,502.93 L386.0,502.76 L388.0,502.58 L390.0,502.39 L392.0,502.20 L394.0,502.00 L396.0,501.79 L398.0,501.57 L400.0,501.35 L402.0,501.13 L404.0,500.90 L406.0,500.66 L408.0,500.42 L410.0,500.18 L412.0,499.94 L414.0,499.69 L416.0,499.45 L418.0,499.20 L420.0,498.95 L422.0,498.70 L424.0,498.44 L426.0,498.17 L428.0,497.90 L430.0,497.62 L432.0,497.33 L434.0,497.05 L436.0,496.75 L438.0,496.46 L440.0,496.16 L442.0,495.86 L444.0,495.55 L446.0,495.25 L448.0,494.95 L450.0,494.64 L452.0,494.34 L454.0,494.04 L456.0,493.74 L458.0,493.44 L460.0,493.15 L461.0,493.00 L461.0,493.00 L460.0,493.17 L458.0,493.52 L456.0,493.88 L454.0,494.24 L452.0,494.60 L450.0,494.96 L448.0,495.33 L446.0,495.69 L444.0,496.06 L442.0,496.42 L440.0,496.78 L438.0,497.14 L436.0,497.50 L434.0,497.84 L432.0,498.19 L430.0,498.52 L428.0,498.85 L426.0,499.16 L424.0,499.47 L422.0,499.77 L420.0,500.05 L418.0,500.33 L416.0,500.60 L414.0,500.87 L412.0,501.14 L410.0,501.41 L408.0,501.67 L406.0,501.93 L404.0,502.19 L402.0,502.43 L400.0,502.68 L398.0,502.92 L396.0,503.15 L394.0,503.38 L392.0,503.60 L390.0,503.81 L388.0,504.01 L386.0,504.21 L384.0,504.40 L382.0,504.58 L380.0,504.75 L378.0,504.91 L376.0,505.04 L374.0,505.17 L372.0,505.28 L370.0,505.39 L368.0,505.50 L366.0,505.61 L364.0,505.72 L362.0,505.85 L360.0,506.00 L358.0,506.16 L356.0,506.35 L354.0,506.59 L352.0,506.90 L350.0,507.26 L348.0,507.68 L346.0,508.13 L344.0,508.61 L342.0,509.12 L340.0,509.63 L338.0,510.14 L336.0,510.65 L334.0,511.13 L332.0,511.58 L330.0,512.00 L328.0,512.39 L326.0,512.79 L324.0,513.18 L322.0,513.57 L320.0,513.96 L318.0,514.34 L316.0,514.72 L314.0,515.09 L312.0,515.45 L310.0,515.80 L308.0,516.13 L306.0,516.46 L304.0,516.77 L302.0,517.07 L300.0,517.35 L298.0,517.61 L296.0,517.86 L294.0,518.10 L292.0,518.33 L290.0,518.55 L288.0,518.76 L286.0,518.97 L284.0,519.18 L282.0,519.39 L280.0,519.60 L278.0,519.82 L276.0,520.06 L274.0,520.30 L272.0,520.56 L270.0,520.82 L268.0,521.09 L266.0,521.36 L264.0,521.63 L262.0,521.89 L260.0,522.16 L258.0,522.42 L256.0,522.66 L254.0,522.90 L252.0,523.13 L250.0,523.34 L248.0,523.54 L246.0,523.71 L244.0,523.87 L242.0,524.00 L240.0,524.11 L238.0,524.18 L236.0,524.23 L234.0,524.25 L232.0,524.15 L230.0,523.90 L228.0,523.57 L226.0,523.21 L224.0,522.90Z" fill="#2ab8c8"/>
<path d="M95.5,549.00 L97.5,548.95 L99.5,548.90 L101.5,548.86 L103.5,548.82 L105.5,548.78 L107.5,548.73 L109.5,548.69 L111.5,548.64 L113.5,548.58 L115.5,548.52 L117.5,548.45 L119.5,548.37 L121.5,548.27 L123.5,548.13 L125.5,547.94 L127.5,547.72 L129.5,547.46 L131.5,547.18 L133.5,546.87 L135.5,546.54 L137.5,546.20 L139.5,545.84 L141.5,545.45 L143.5,544.95 L145.5,544.38 L147.5,543.74 L149.5,543.07 L151.5,542.37 L153.5,541.68 L155.5,541.01 L157.5,540.38 L159.5,539.83 L161.5,539.33 L163.5,538.86 L165.5,538.40 L167.5,537.95 L169.5,537.52 L171.5,537.09 L173.5,536.68 L175.5,536.28 L177.5,535.89 L179.5,535.50 L181.5,535.12 L183.5,534.74 L185.5,534.37 L187.5,534.01 L189.5,533.64 L191.5,533.28 L193.5,532.91 L195.5,532.55 L197.5,532.19 L199.5,531.83 L201.5,531.49 L203.5,531.16 L205.5,530.84 L207.5,530.54 L209.5,530.27 L211.5,530.01 L213.5,529.76 L215.5,529.53 L217.5,529.31 L219.5,529.10 L221.5,528.89 L223.5,528.69 L225.5,528.49 L227.5,528.29 L229.5,528.10 L231.5,527.90 L233.5,527.70 L235.5,527.50 L237.5,527.29 L239.5,527.08 L241.5,526.87 L243.5,526.66 L245.5,526.45 L247.5,526.23 L249.5,526.02 L251.5,525.80 L253.5,525.58 L255.5,525.37 L257.5,525.15 L259.5,524.93 L261.5,524.70 L263.5,524.48 L265.5,524.26 L267.5,524.04 L269.5,523.82 L271.5,523.59 L273.5,523.37 L275.5,523.15 L277.5,522.93 L279.5,522.71 L281.5,522.49 L283.5,522.28 L285.5,522.08 L287.5,521.88 L289.5,521.67 L291.5,521.46 L293.5,521.24 L295.5,521.01 L297.5,520.75 L299.5,520.47 L301.5,520.16 L303.5,519.81 L305.5,519.43 L307.5,519.00 L309.5,518.56 L311.5,518.08 L313.5,517.59 L315.5,517.09 L317.5,516.58 L319.5,516.06 L321.5,515.54 L323.5,515.03 L325.5,514.53 L327.5,514.04 L329.5,513.56 L331.5,513.10 L333.5,512.61 L335.5,512.09 L337.5,511.57 L339.5,511.04 L341.5,510.51 L343.5,510.00 L345.5,509.51 L347.5,509.05 L349.5,508.63 L351.5,508.26 L353.5,507.95 L355.5,507.70 L357.5,507.51 L359.5,507.36 L361.5,507.22 L363.5,507.11 L365.5,507.00 L367.5,506.91 L369.5,506.82 L371.5,506.73 L373.5,506.63 L375.5,506.52 L377.5,506.39 L379.5,506.24 L381.5,506.07 L383.5,505.88 L385.5,505.68 L387.5,505.46 L389.5,505.23 L391.5,504.99 L393.5,504.73 L395.5,504.46 L397.5,504.18 L399.5,503.89 L401.5,503.59 L403.5,503.29 L405.5,502.97 L407.5,502.65 L409.5,502.33 L411.5,502.00 L413.5,501.66 L415.5,501.32 L417.5,500.99 L419.5,500.63 L421.5,500.25 L423.5,499.84 L425.5,499.41 L427.5,498.96 L429.5,498.50 L431.5,498.04 L433.5,497.58 L435.5,497.13 L437.5,496.68 L439.5,496.26 L441.5,495.86 L443.5,495.49 L445.5,495.15 L447.5,494.84 L449.5,494.54 L451.5,494.27 L453.5,494.00 L455.5,493.74 L457.5,493.48 L459.5,493.21 L461.0,493.00 L461.0,493.00 L459.5,493.32 L457.5,493.73 L455.5,494.15 L453.5,494.57 L451.5,494.98 L449.5,495.41 L447.5,495.83 L445.5,496.27 L443.5,496.71 L441.5,497.18 L439.5,497.68 L437.5,498.19 L435.5,498.72 L433.5,499.26 L431.5,499.80 L429.5,500.34 L427.5,500.87 L425.5,501.38 L423.5,501.88 L421.5,502.35 L419.5,502.79 L417.5,503.20 L415.5,503.59 L413.5,503.98 L411.5,504.36 L409.5,504.74 L407.5,505.11 L405.5,505.47 L403.5,505.83 L401.5,506.18 L399.5,506.51 L397.5,506.84 L395.5,507.16 L393.5,507.47 L391.5,507.76 L389.5,508.04 L387.5,508.31 L385.5,508.57 L383.5,508.81 L381.5,509.04 L379.5,509.25 L377.5,509.44 L375.5,509.61 L373.5,509.76 L371.5,509.89 L369.5,510.03 L367.5,510.16 L365.5,510.29 L363.5,510.44 L361.5,510.60 L359.5,510.77 L357.5,510.98 L355.5,511.21 L353.5,511.51 L351.5,511.88 L349.5,512.31 L347.5,512.79 L345.5,513.31 L343.5,513.86 L341.5,514.44 L339.5,515.03 L337.5,515.63 L335.5,516.22 L333.5,516.80 L331.5,517.35 L329.5,517.88 L327.5,518.42 L325.5,518.97 L323.5,519.55 L321.5,520.14 L319.5,520.73 L317.5,521.32 L315.5,521.91 L313.5,522.48 L311.5,523.04 L309.5,523.57 L307.5,524.07 L305.5,524.54 L303.5,524.97 L301.5,525.35 L299.5,525.68 L297.5,525.97 L295.5,526.24 L293.5,526.48 L291.5,526.71 L289.5,526.93 L287.5,527.14 L285.5,527.35 L283.5,527.56 L281.5,527.78 L279.5,528.01 L277.5,528.24 L275.5,528.47 L273.5,528.71 L271.5,528.94 L269.5,529.17 L267.5,529.41 L265.5,529.64 L263.5,529.87 L261.5,530.11 L259.5,530.34 L257.5,530.57 L255.5,530.80 L253.5,531.03 L251.5,531.26 L249.5,531.48 L247.5,531.71 L245.5,531.93 L243.5,532.15 L241.5,532.36 L239.5,532.58 L237.5,532.79 L235.5,533.00 L233.5,533.20 L231.5,533.39 L229.5,533.57 L227.5,533.73 L225.5,533.89 L223.5,534.04 L221.5,534.20 L219.5,534.35 L217.5,534.51 L215.5,534.67 L213.5,534.85 L211.5,535.04 L209.5,535.25 L207.5,535.49 L205.5,535.74 L203.5,536.01 L201.5,536.30 L199.5,536.60 L197.5,536.90 L195.5,537.21 L193.5,537.52 L191.5,537.82 L189.5,538.12 L187.5,538.42 L185.5,538.71 L183.5,539.00 L181.5,539.29 L179.5,539.58 L177.5,539.87 L175.5,540.16 L173.5,540.46 L171.5,540.76 L169.5,541.08 L167.5,541.40 L165.5,541.73 L163.5,542.07 L161.5,542.42 L159.5,542.80 L157.5,543.22 L155.5,543.70 L153.5,544.21 L151.5,544.74 L149.5,545.27 L147.5,545.79 L145.5,546.26 L143.5,546.69 L141.5,547.04 L139.5,547.31 L137.5,547.55 L135.5,547.77 L133.5,547.98 L131.5,548.18 L129.5,548.36 L127.5,548.51 L125.5,548.64 L123.5,548.75 L121.5,548.82 L119.5,548.86 L117.5,548.88 L115.5,548.90 L113.5,548.92 L111.5,548.93 L109.5,548.94 L107.5,548.95 L105.5,548.96 L103.5,548.97 L101.5,548.97 L99.5,548.98 L97.5,548.99 L95.5,549.00Z" fill="#bcbd22"/>
<path d="M224.0,538.20 L226.0,537.74 L228.0,537.21 L230.0,536.71 L232.0,536.34 L234.0,536.20 L236.0,536.18 L238.0,536.10 L240.0,535.99 L242.0,535.84 L244.0,535.65 L246.0,535.42 L248.0,535.17 L250.0,534.89 L252.0,534.59 L254.0,534.27 L256.0,533.93 L258.0,533.58 L260.0,533.22 L262.0,532.86 L264.0,532.49 L266.0,532.12 L268.0,531.76 L270.0,531.40 L272.0,531.05 L274.0,530.72 L276.0,530.41 L278.0,530.12 L280.0,529.85 L282.0,529.61 L284.0,529.38 L286.0,529.16 L288.0,528.95 L290.0,528.74 L292.0,528.52 L294.0,528.29 L296.0,528.04 L298.0,527.76 L300.0,527.45 L302.0,527.10 L304.0,526.69 L306.0,526.23 L308.0,525.74 L310.0,525.20 L312.0,524.64 L314.0,524.06 L316.0,523.45 L318.0,522.84 L320.0,522.21 L322.0,521.59 L324.0,520.97 L326.0,520.36 L328.0,519.77 L330.0,519.20 L332.0,518.62 L334.0,518.00 L336.0,517.36 L338.0,516.69 L340.0,516.03 L342.0,515.37 L344.0,514.72 L346.0,514.11 L348.0,513.54 L350.0,513.02 L352.0,512.57 L354.0,512.19 L356.0,511.90 L358.0,511.68 L360.0,511.48 L362.0,511.32 L364.0,511.17 L366.0,511.04 L368.0,510.92 L370.0,510.80 L372.0,510.68 L374.0,510.55 L376.0,510.41 L378.0,510.24 L380.0,510.05 L382.0,509.83 L384.0,509.60 L386.0,509.35 L388.0,509.08 L390.0,508.80 L392.0,508.51 L394.0,508.20 L396.0,507.87 L398.0,507.54 L400.0,507.19 L402.0,506.84 L404.0,506.47 L406.0,506.10 L408.0,505.72 L410.0,505.34 L412.0,504.95 L414.0,504.55 L416.0,504.15 L418.0,503.75 L420.0,503.35 L422.0,502.94 L424.0,502.51 L426.0,502.06 L428.0,501.59 L430.0,501.12 L432.0,500.63 L434.0,500.13 L436.0,499.61 L438.0,499.09 L440.0,498.57 L442.0,498.04 L444.0,497.50 L446.0,496.96 L448.0,496.43 L450.0,495.89 L452.0,495.35 L454.0,494.82 L456.0,494.29 L458.0,493.77 L460.0,493.25 L461.0,493.00 L461.0,493.00 L460.0,493.29 L458.0,493.87 L456.0,494.45 L454.0,495.05 L452.0,495.65 L450.0,496.26 L448.0,496.87 L446.0,497.48 L444.0,498.09 L442.0,498.69 L440.0,499.29 L438.0,499.89 L436.0,500.47 L434.0,501.05 L432.0,501.61 L430.0,502.16 L428.0,502.70 L426.0,503.22 L424.0,503.72 L422.0,504.19 L420.0,504.65 L418.0,505.09 L416.0,505.53 L414.0,505.97 L412.0,506.40 L410.0,506.82 L408.0,507.24 L406.0,507.65 L404.0,508.05 L402.0,508.44 L400.0,508.83 L398.0,509.20 L396.0,509.56 L394.0,509.91 L392.0,510.25 L390.0,510.57 L388.0,510.88 L386.0,511.17 L384.0,511.45 L382.0,511.71 L380.0,511.95 L378.0,512.17 L376.0,512.36 L374.0,512.53 L372.0,512.68 L370.0,512.83 L368.0,512.97 L366.0,513.11 L364.0,513.27 L362.0,513.44 L360.0,513.63 L358.0,513.85 L356.0,514.10 L354.0,514.42 L352.0,514.82 L350.0,515.31 L348.0,515.86 L346.0,516.46 L344.0,517.10 L342.0,517.77 L340.0,518.47 L338.0,519.17 L336.0,519.86 L334.0,520.54 L332.0,521.19 L330.0,521.80 L328.0,522.40 L326.0,523.03 L324.0,523.67 L322.0,524.33 L320.0,524.99 L318.0,525.65 L316.0,526.30 L314.0,526.94 L312.0,527.56 L310.0,528.16 L308.0,528.72 L306.0,529.25 L304.0,529.73 L302.0,530.17 L300.0,530.55 L298.0,530.88 L296.0,531.18 L294.0,531.45 L292.0,531.70 L290.0,531.94 L288.0,532.17 L286.0,532.40 L284.0,532.64 L282.0,532.88 L280.0,533.15 L278.0,533.44 L276.0,533.76 L274.0,534.11 L272.0,534.47 L270.0,534.86 L268.0,535.25 L266.0,535.65 L264.0,536.06 L262.0,536.47 L260.0,536.88 L258.0,537.28 L256.0,537.67 L254.0,538.04 L252.0,538.40 L250.0,538.74 L248.0,539.05 L246.0,539.33 L244.0,539.58 L242.0,539.79 L240.0,539.97 L238.0,540.09 L236.0,540.17 L234.0,540.20 L232.0,540.06 L230.0,539.69 L228.0,539.19 L226.0,538.66 L224.0,538.20Z" fill="#858080"/>
<path d="M224.0,547.00 L226.0,546.42 L228.0,545.76 L230.0,545.14 L232.0,544.68 L234.0,544.50 L236.0,544.47 L238.0,544.39 L240.0,544.26 L242.0,544.08 L244.0,543.87 L246.0,543.61 L248.0,543.32 L250.0,543.00 L252.0,542.65 L254.0,542.28 L256.0,541.90 L258.0,541.49 L260.0,541.08 L262.0,540.66 L264.0,540.24 L266.0,539.81 L268.0,539.40 L270.0,538.99 L272.0,538.59 L274.0,538.21 L276.0,537.85 L278.0,537.51 L280.0,537.20 L282.0,536.92 L284.0,536.66 L286.0,536.41 L288.0,536.17 L290.0,535.93 L292.0,535.68 L294.0,535.42 L296.0,535.13 L298.0,534.81 L300.0,534.45 L302.0,534.03 L304.0,533.54 L306.0,532.99 L308.0,532.39 L310.0,531.74 L312.0,531.05 L314.0,530.33 L316.0,529.58 L318.0,528.82 L320.0,528.05 L322.0,527.28 L324.0,526.52 L326.0,525.77 L328.0,525.04 L330.0,524.35 L332.0,523.63 L334.0,522.85 L336.0,522.02 L338.0,521.17 L340.0,520.31 L342.0,519.46 L344.0,518.64 L346.0,517.87 L348.0,517.18 L350.0,516.58 L352.0,516.08 L354.0,515.72 L356.0,515.50 L358.0,515.38 L360.0,515.28 L362.0,515.20 L364.0,515.13 L366.0,515.08 L368.0,515.02 L370.0,514.98 L372.0,514.92 L374.0,514.86 L376.0,514.79 L378.0,514.71 L380.0,514.60 L382.0,514.47 L384.0,514.30 L386.0,514.10 L388.0,513.88 L390.0,513.63 L392.0,513.36 L394.0,513.07 L396.0,512.75 L398.0,512.42 L400.0,512.08 L402.0,511.72 L404.0,511.35 L406.0,510.97 L408.0,510.58 L410.0,510.19 L412.0,509.79 L414.0,509.39 L416.0,508.99 L418.0,508.60 L420.0,508.18 L422.0,507.70 L424.0,507.18 L426.0,506.63 L428.0,506.06 L430.0,505.47 L432.0,504.87 L434.0,504.29 L436.0,503.71 L438.0,503.17 L440.0,502.66 L442.0,502.20 L444.0,501.79 L446.0,501.44 L448.0,501.17 L450.0,500.95 L452.0,500.78 L454.0,500.63 L456.0,500.51 L458.0,500.40 L460.0,500.30 L462.0,500.19 L464.0,500.07 L465.0,500.00 L465.0,500.00 L464.0,500.15 L462.0,500.44 L460.0,500.73 L458.0,501.02 L456.0,501.31 L454.0,501.60 L452.0,501.90 L450.0,502.21 L448.0,502.53 L446.0,502.88 L444.0,503.28 L442.0,503.75 L440.0,504.27 L438.0,504.83 L436.0,505.42 L434.0,506.03 L432.0,506.66 L430.0,507.28 L428.0,507.91 L426.0,508.52 L424.0,509.10 L422.0,509.65 L420.0,510.15 L418.0,510.60 L416.0,511.02 L414.0,511.45 L412.0,511.87 L410.0,512.29 L408.0,512.71 L406.0,513.12 L404.0,513.52 L402.0,513.91 L400.0,514.29 L398.0,514.66 L396.0,515.01 L394.0,515.34 L392.0,515.65 L390.0,515.94 L388.0,516.21 L386.0,516.45 L384.0,516.66 L382.0,516.85 L380.0,517.00 L378.0,517.12 L376.0,517.23 L374.0,517.31 L372.0,517.39 L370.0,517.45 L368.0,517.51 L366.0,517.58 L364.0,517.65 L362.0,517.73 L360.0,517.83 L358.0,517.95 L356.0,518.10 L354.0,518.35 L352.0,518.75 L350.0,519.29 L348.0,519.94 L346.0,520.69 L344.0,521.51 L342.0,522.39 L340.0,523.30 L338.0,524.23 L336.0,525.15 L334.0,526.04 L332.0,526.88 L330.0,527.65 L328.0,528.40 L326.0,529.19 L324.0,530.00 L322.0,530.82 L320.0,531.66 L318.0,532.49 L316.0,533.32 L314.0,534.13 L312.0,534.91 L310.0,535.65 L308.0,536.36 L306.0,537.01 L304.0,537.59 L302.0,538.11 L300.0,538.55 L298.0,538.92 L296.0,539.26 L294.0,539.55 L292.0,539.83 L290.0,540.09 L288.0,540.33 L286.0,540.58 L284.0,540.84 L282.0,541.11 L280.0,541.40 L278.0,541.73 L276.0,542.09 L274.0,542.48 L272.0,542.89 L270.0,543.33 L268.0,543.78 L266.0,544.24 L264.0,544.71 L262.0,545.18 L260.0,545.65 L258.0,546.11 L256.0,546.56 L254.0,547.00 L252.0,547.41 L250.0,547.80 L248.0,548.16 L246.0,548.49 L244.0,548.78 L242.0,549.03 L240.0,549.23 L238.0,549.38 L236.0,549.47 L234.0,549.50 L232.0,549.32 L230.0,548.86 L228.0,548.24 L226.0,547.58 L224.0,547.00Z" fill="#e07bc0"/>
<path d="M223.0,555.80 L225.0,555.28 L227.0,554.68 L229.0,554.10 L231.0,553.62 L233.0,553.34 L235.0,553.29 L237.0,553.22 L239.0,553.09 L241.0,552.89 L243.0,552.64 L245.0,552.34 L247.0,552.00 L249.0,551.61 L251.0,551.20 L253.0,550.75 L255.0,550.28 L257.0,549.78 L259.0,549.28 L261.0,548.76 L263.0,548.24 L265.0,547.72 L267.0,547.21 L269.0,546.70 L271.0,546.21 L273.0,545.75 L275.0,545.31 L277.0,544.90 L279.0,544.52 L281.0,544.19 L283.0,543.89 L285.0,543.61 L287.0,543.35 L289.0,543.09 L291.0,542.83 L293.0,542.55 L295.0,542.25 L297.0,541.92 L299.0,541.55 L301.0,541.13 L303.0,540.62 L305.0,540.02 L307.0,539.36 L309.0,538.63 L311.0,537.85 L313.0,537.03 L315.0,536.17 L317.0,535.29 L319.0,534.40 L321.0,533.51 L323.0,532.62 L325.0,531.74 L327.0,530.90 L329.0,530.09 L331.0,529.31 L333.0,528.47 L335.0,527.58 L337.0,526.65 L339.0,525.70 L341.0,524.77 L343.0,523.85 L345.0,522.99 L347.0,522.18 L349.0,521.46 L351.0,520.85 L353.0,520.36 L355.0,520.01 L357.0,519.81 L359.0,519.66 L361.0,519.52 L363.0,519.41 L365.0,519.31 L367.0,519.22 L369.0,519.14 L371.0,519.06 L373.0,518.98 L375.0,518.90 L377.0,518.81 L379.0,518.71 L381.0,518.59 L383.0,518.47 L385.0,518.35 L387.0,518.23 L389.0,518.11 L391.0,517.99 L393.0,517.86 L395.0,517.74 L397.0,517.61 L399.0,517.48 L401.0,517.35 L403.0,517.22 L405.0,517.09 L407.0,516.95 L409.0,516.82 L411.0,516.68 L413.0,516.55 L415.0,516.41 L417.0,516.27 L419.0,516.13 L421.0,515.99 L423.0,515.85 L425.0,515.71 L427.0,515.57 L429.0,515.43 L431.0,515.28 L433.0,515.14 L435.0,514.99 L437.0,514.84 L439.0,514.69 L441.0,514.54 L443.0,514.39 L445.0,514.24 L447.0,514.08 L449.0,513.93 L451.0,513.77 L453.0,513.62 L455.0,513.46 L457.0,513.31 L459.0,513.15 L461.0,512.99 L463.0,512.84 L465.0,512.68 L467.0,512.52 L469.0,512.37 L471.0,512.21 L473.0,512.06 L475.0,511.90 L477.0,511.75 L477.0,513.25 L475.0,513.41 L473.0,513.57 L471.0,513.72 L469.0,513.88 L467.0,514.04 L465.0,514.20 L463.0,514.36 L461.0,514.52 L459.0,514.68 L457.0,514.84 L455.0,515.00 L453.0,515.16 L451.0,515.32 L449.0,515.48 L447.0,515.64 L445.0,515.79 L443.0,515.95 L441.0,516.11 L439.0,516.26 L437.0,516.42 L435.0,516.57 L433.0,516.72 L431.0,516.88 L429.0,517.03 L427.0,517.17 L425.0,517.32 L423.0,517.47 L421.0,517.62 L419.0,517.77 L417.0,517.92 L415.0,518.06 L413.0,518.21 L411.0,518.36 L409.0,518.51 L407.0,518.65 L405.0,518.80 L403.0,518.94 L401.0,519.09 L399.0,519.23 L397.0,519.37 L395.0,519.52 L393.0,519.66 L391.0,519.80 L389.0,519.94 L387.0,520.07 L385.0,520.21 L383.0,520.35 L381.0,520.48 L379.0,520.61 L377.0,520.73 L375.0,520.84 L373.0,520.94 L371.0,521.04 L369.0,521.14 L367.0,521.25 L365.0,521.36 L363.0,521.49 L361.0,521.64 L359.0,521.80 L357.0,521.99 L355.0,522.23 L353.0,522.63 L351.0,523.18 L349.0,523.86 L347.0,524.65 L345.0,525.54 L343.0,526.49 L341.0,527.49 L339.0,528.52 L337.0,529.55 L335.0,530.57 L333.0,531.55 L331.0,532.47 L329.0,533.33 L327.0,534.22 L325.0,535.15 L323.0,536.10 L321.0,537.08 L319.0,538.06 L317.0,539.04 L315.0,540.00 L313.0,540.94 L311.0,541.84 L309.0,542.70 L307.0,543.49 L305.0,544.21 L303.0,544.86 L301.0,545.41 L299.0,545.87 L297.0,546.27 L295.0,546.62 L293.0,546.94 L291.0,547.23 L289.0,547.51 L287.0,547.78 L285.0,548.06 L283.0,548.36 L281.0,548.68 L279.0,549.03 L277.0,549.43 L275.0,549.86 L273.0,550.33 L271.0,550.82 L269.0,551.34 L267.0,551.87 L265.0,552.41 L263.0,552.96 L261.0,553.51 L259.0,554.06 L257.0,554.59 L255.0,555.11 L253.0,555.61 L251.0,556.08 L249.0,556.52 L247.0,556.93 L245.0,557.29 L243.0,557.61 L241.0,557.87 L239.0,558.08 L237.0,558.22 L235.0,558.29 L233.0,558.26 L231.0,557.98 L229.0,557.50 L227.0,556.92 L225.0,556.32 L223.0,555.80Z" fill="#8c564b"/>
<rect x="110.55" y="439.5" width="1.5" height="218.7" fill="#fff" fill-opacity="0.82"/>
<rect x="233.25" y="439.5" width="1.5" height="218.7" fill="#fff" fill-opacity="0.82"/>
<rect x="355.25" y="439.5" width="1.5" height="218.7" fill="#fff" fill-opacity="0.82"/>
<rect x="476.25" y="439.5" width="1.5" height="218.7" fill="#fff" fill-opacity="0.82"/>
<rect x="109.4" y="669.6" width="6.8" height="6.8" fill="#1f6eb4" stroke="#444" stroke-width="0.6"/>
<text x="120.0" y="675.6" font-family="'Liberation Sans', sans-serif" font-size="7.4" fill="#333">DNMT3A</text>
<rect x="109.4" y="681.4" width="6.8" height="6.8" fill="#f08a1e" stroke="#444" stroke-width="0.6"/>
<text x="120.0" y="687.4" font-family="'Liberation Sans', sans-serif" font-size="7.4" fill="#333">TET2</text>
<rect x="109.4" y="693.2" width="6.8" height="6.8" fill="#2e9a3a" stroke="#444" stroke-width="0.6"/>
<text x="120.0" y="699.2" font-family="'Liberation Sans', sans-serif" font-size="7.4" fill="#333">U2AF1 S34F</text>
<rect x="109.4" y="705.0" width="6.8" height="6.8" fill="#d7191c" stroke="#444" stroke-width="0.6"/>
<text x="120.0" y="711.0" font-family="'Liberation Sans', sans-serif" font-size="7.4" fill="#333">U2AF1 S34Y</text>
<rect x="109.4" y="716.8" width="6.8" height="6.8" fill="#9e5fb5" stroke="#444" stroke-width="0.6"/>
<text x="120.0" y="722.8" font-family="'Liberation Sans', sans-serif" font-size="7.4" fill="#333">c.233+1G&gt;A</text>
<rect x="182.4" y="669.6" width="6.8" height="6.8" fill="#8c564b" stroke="#444" stroke-width="0.6"/>
<text x="193.0" y="675.6" font-family="'Liberation Sans', sans-serif" font-size="7.4" fill="#333">p.(Leu181His)</text>
<rect x="182.4" y="681.4" width="6.8" height="6.8" fill="#e377c2" stroke="#444" stroke-width="0.6"/>
<text x="193.0" y="687.4" font-family="'Liberation Sans', sans-serif" font-size="7.4" fill="#333">p.(Leu59Val)</text>
<rect x="182.4" y="693.2" width="6.8" height="6.8" fill="#7f7f7f" stroke="#444" stroke-width="0.6"/>
<text x="193.0" y="699.2" font-family="'Liberation Sans', sans-serif" font-size="7.4" fill="#333">p.(Arg37*)</text>
<rect x="182.4" y="705.0" width="6.8" height="6.8" fill="#bcbd22" stroke="#444" stroke-width="0.6"/>
<text x="193.0" y="711.0" font-family="'Liberation Sans', sans-serif" font-size="7.4" fill="#333">p.(Leu125Gln)</text>
<rect x="182.4" y="716.8" width="6.8" height="6.8" fill="#17becf" stroke="#444" stroke-width="0.6"/>
<text x="193.0" y="722.8" font-family="'Liberation Sans', sans-serif" font-size="7.4" fill="#333">c.87&#8722;2A&gt;G</text>
<rect x="257.4" y="669.6" width="6.8" height="6.8" fill="#393b79" stroke="#444" stroke-width="0.6"/>
<text x="268.0" y="675.6" font-family="'Liberation Sans', sans-serif" font-size="7.4" fill="#333">p.(Ile175Thrfs*31)</text>
<rect x="257.4" y="681.4" width="6.8" height="6.8" fill="#637939" stroke="#444" stroke-width="0.6"/>
<text x="268.0" y="687.4" font-family="'Liberation Sans', sans-serif" font-size="7.4" fill="#333">p.(Ile175_Phe176del)</text>
<rect x="257.4" y="693.2" width="6.8" height="6.8" fill="#8c6d31" stroke="#444" stroke-width="0.6"/>
<text x="268.0" y="699.2" font-family="'Liberation Sans', sans-serif" font-size="7.4" fill="#333">p.(Leu185Profs*55)</text>
<rect x="257.4" y="705.0" width="6.8" height="6.8" fill="#843c39" stroke="#444" stroke-width="0.6"/>
<text x="268.0" y="711.0" font-family="'Liberation Sans', sans-serif" font-size="7.4" fill="#333">p.(Gln171*)</text>
<rect x="257.4" y="716.8" width="6.8" height="6.8" fill="#e7969c" stroke="#444" stroke-width="0.6"/>
<text x="268.0" y="722.8" font-family="'Liberation Sans', sans-serif" font-size="7.4" fill="#333">p.(Phe105Serfs*28)</text>
<rect x="357.0" y="669.6" width="6.8" height="6.8" fill="#c7c7c7" stroke="#444" stroke-width="0.6"/>
<text x="367.6" y="675.6" font-family="'Liberation Sans', sans-serif" font-size="7.4" fill="#333">p.(Trp170*)</text>
<rect x="357.0" y="681.4" width="6.8" height="6.8" fill="#dbdb8d" stroke="#444" stroke-width="0.6"/>
<text x="367.6" y="687.4" font-family="'Liberation Sans', sans-serif" font-size="7.4" fill="#333">c.35&#8722;2A&gt;G</text>
<rect x="0.5" y="0.5" width="519" height="732" fill="none" stroke="#444" stroke-width="1"/>
</svg>
</body></html>
